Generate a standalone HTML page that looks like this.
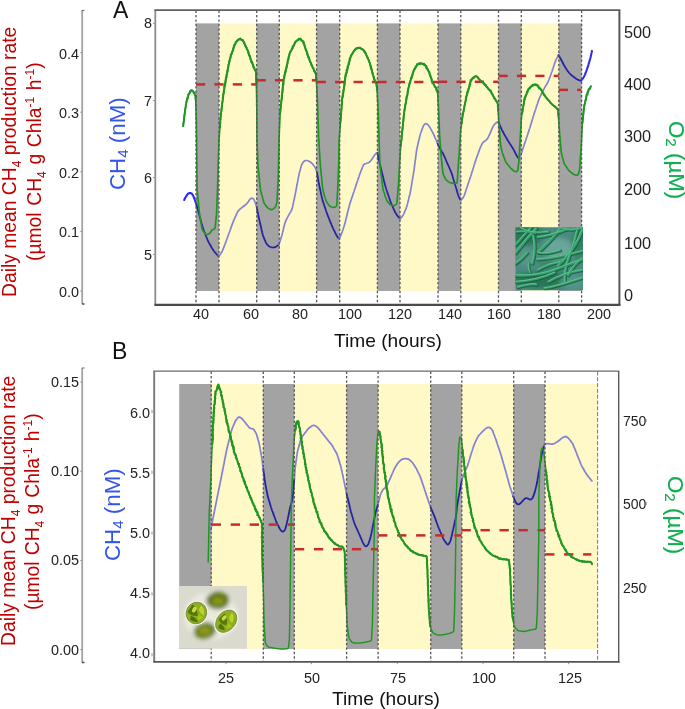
<!DOCTYPE html><html><head><meta charset="utf-8"><title>fig</title><style>
html,body{margin:0;padding:0;background:#fff}
#w{position:relative;width:685px;height:709px;overflow:hidden;background:#fff;font-family:"Liberation Sans",sans-serif;color:#222}
.t{position:absolute;white-space:nowrap;line-height:1;will-change:transform}
.tk{font-size:14.4px;color:#222}
.r{text-align:right}
.c{transform:translateX(-50%)}
.ra{font-size:16.3px;color:#222}
.ttl{font-size:19.15px;color:#111}
.rot{transform-origin:0 0;transform:rotate(-90deg)}
.rot2{transform-origin:0 0;transform:rotate(90deg)}
sub,sup{font-size:62%;line-height:0}
.s2{font-size:68%;vertical-align:-0.18em}
</style></head><body><div id="w">
<svg width="685" height="709" viewBox="0 0 685 709" style="position:absolute;left:0;top:0">
<defs><filter id="b1" x="-20%" y="-20%" width="140%" height="140%"><feGaussianBlur stdDeviation="0.9"/></filter><filter id="b2" x="-30%" y="-30%" width="160%" height="160%"><feGaussianBlur stdDeviation="2"/></filter><filter id="b3" x="-30%" y="-30%" width="160%" height="160%"><feGaussianBlur stdDeviation="0.6"/></filter><filter id="b4" x="-30%" y="-30%" width="160%" height="160%"><feGaussianBlur stdDeviation="0.75"/></filter><clipPath id="cA"><rect x="515.5" y="227.3" width="67.5" height="63"/></clipPath><clipPath id="cB"><rect x="178.9" y="585.9" width="68" height="62.8"/></clipPath></defs>
<rect x="196" y="23.4" width="385.6" height="267.6" fill="#fff9c8"/>
<rect x="196" y="23.4" width="23" height="267.6" fill="#a3a3a3"/>
<rect x="256.7" y="23.4" width="22.600000000000023" height="267.6" fill="#a3a3a3"/>
<rect x="316.6" y="23.4" width="23.099999999999966" height="267.6" fill="#a3a3a3"/>
<rect x="377.4" y="23.4" width="22.600000000000023" height="267.6" fill="#a3a3a3"/>
<rect x="438" y="23.4" width="22.80000000000001" height="267.6" fill="#a3a3a3"/>
<rect x="498.5" y="23.4" width="22.799999999999955" height="267.6" fill="#a3a3a3"/>
<rect x="558.8" y="23.4" width="22.800000000000068" height="267.6" fill="#a3a3a3"/>
<polyline points="184.2,200.0 185.0,198.3 185.2,197.9 185.4,197.5 185.9,196.7 186.4,195.9 186.9,195.2 187.4,194.5 187.9,193.9 188.5,193.4 189.2,193.1 189.8,193.0 190.5,193.1 191.2,193.3 191.8,193.7 192.3,194.4 192.8,195.1 193.3,195.8 193.6,196.6 193.9,197.5 194.3,198.3 194.6,199.1 194.9,200.0 195.2,200.8 195.4,201.6 195.7,202.5 195.8,202.9 196.0,203.3 196.5,205.0" fill="none" stroke="#2a2af5" stroke-width="2.1" stroke-linejoin="round" stroke-linecap="round"/>
<polyline points="196.5,205.0 196.9,206.6 197.0,206.9 197.1,207.3 197.3,208.1 197.6,208.9 197.8,209.7 198.0,210.4 198.2,211.2 198.4,212.0 198.6,212.8 198.8,213.6 199.1,214.4 199.3,215.1 199.5,215.9 199.7,216.7 200.0,217.5 200.2,218.3 200.4,219.1 200.6,219.9 200.8,220.7 201.1,221.4 201.3,222.2 201.5,223.0 201.7,223.8 202.0,224.6 202.2,225.4 202.4,226.2 202.6,226.9 202.9,227.7 203.1,228.5 203.4,229.3 203.7,230.1 203.9,230.8 204.2,231.6 204.6,232.4 204.9,233.2 205.2,234.0 205.5,234.7 205.8,235.5 206.1,236.3 206.4,237.0 206.7,237.8 207.1,238.6 207.4,239.4 207.7,240.1 208.0,240.9 208.4,241.7 208.8,242.4 209.1,243.1 209.6,243.9 210.0,244.6 210.4,245.3 210.8,246.0 211.2,246.8 211.6,247.5 212.1,248.2 212.5,248.9 212.9,249.6 213.4,250.3 213.9,251.0 214.4,251.7 214.9,252.3 215.5,252.9 216.0,253.6 216.6,254.2 216.8,254.5 217.1,254.8 218.2,256.1" fill="none" stroke="#2323a3" stroke-width="1.75" stroke-linejoin="round" stroke-linecap="round"/>
<polyline points="218.2,256.1 219.7,255.2 220.0,254.8 220.2,254.5 220.7,253.8 221.1,253.0 221.6,252.3 222.0,251.5 222.4,250.7 222.7,250.0 223.1,249.2 223.4,248.4 223.7,247.7 224.0,246.9 224.3,246.2 224.6,245.4 224.9,244.6 225.1,243.9 225.4,243.1 225.7,242.3 226.0,241.6 226.3,240.8 226.5,240.1 226.8,239.3 227.1,238.5 227.4,237.8 227.6,237.0 227.9,236.3 228.2,235.5 228.5,234.7 228.7,234.0 229.0,233.2 229.3,232.5 229.6,231.7 229.8,231.0 230.1,230.2 230.4,229.5 230.7,228.7 230.9,227.9 231.2,227.2 231.5,226.4 231.7,225.7 232.0,224.9 232.3,224.2 232.6,223.4 232.9,222.7 233.2,221.9 233.5,221.2 233.8,220.4 234.1,219.7 234.4,218.9 234.8,218.2 235.1,217.4 235.4,216.7 235.8,215.9 236.1,215.2 236.4,214.4 236.8,213.7 237.1,212.9 237.5,212.2 237.9,211.5 238.3,210.9 238.8,210.3 239.4,209.7 240.0,209.1 240.6,208.6 241.2,208.1 241.9,207.6 242.5,207.0 243.2,206.5 243.9,206.0 244.6,205.5 245.3,205.0 245.9,204.4 246.6,203.8 247.1,203.2 247.7,202.5 248.2,201.9 248.7,201.2 249.1,200.4 249.6,199.7 250.2,199.1 250.8,198.6 251.4,198.3 252.0,198.2 252.5,198.2 253.1,198.6 253.6,199.1 254.0,199.8 254.4,200.5 254.7,201.3 255.0,202.1 255.3,202.9 255.6,203.7 255.9,204.5 256.0,204.9 256.1,205.4 256.7,207.0" fill="none" stroke="#8383d2" stroke-width="1.7" stroke-linejoin="round" stroke-linecap="round"/>
<polyline points="256.7,207.0 257.0,208.7 257.1,209.1 257.2,209.5 257.4,210.3 257.5,211.1 257.7,212.0 257.9,212.8 258.0,213.6 258.2,214.4 258.4,215.3 258.5,216.1 258.7,216.9 258.9,217.7 259.0,218.6 259.2,219.4 259.4,220.2 259.6,221.0 259.8,221.8 259.9,222.6 260.1,223.4 260.3,224.2 260.5,225.0 260.7,225.8 260.9,226.6 261.1,227.5 261.2,228.3 261.4,229.1 261.6,229.9 261.8,230.7 262.0,231.5 262.2,232.3 262.3,233.1 262.6,233.9 262.8,234.7 263.0,235.5 263.3,236.3 263.6,237.1 263.9,237.9 264.2,238.7 264.6,239.5 264.9,240.2 265.3,241.0 265.6,241.8 266.0,242.6 266.4,243.3 266.8,244.0 267.3,244.6 267.9,245.2 268.4,245.8 269.1,246.3 269.8,246.7 270.6,247.0 271.4,247.3 272.2,247.4 273.2,247.5 274.1,247.3 275.0,247.2 275.8,246.8 276.6,246.4 277.3,245.9 277.7,245.7 278.0,245.4 279.0,244.2" fill="none" stroke="#2323a3" stroke-width="1.75" stroke-linejoin="round" stroke-linecap="round"/>
<polyline points="279.0,244.2 279.6,242.6 279.7,242.1 279.8,241.7 280.1,240.9 280.4,240.1 280.7,239.3 280.9,238.4 281.2,237.6 281.4,236.8 281.7,236.0 281.9,235.2 282.1,234.4 282.3,233.7 282.5,232.9 282.7,232.1 282.9,231.3 283.1,230.5 283.3,229.7 283.4,229.0 283.6,228.2 283.8,227.4 284.0,226.6 284.2,225.8 284.4,225.0 284.6,224.3 284.8,223.5 285.1,222.7 285.4,221.9 285.7,221.2 286.0,220.4 286.3,219.7 286.7,218.9 287.1,218.2 287.5,217.4 287.9,216.7 288.3,215.9 288.7,215.2 289.1,214.4 289.5,213.7 290.0,212.9 290.4,212.2 290.9,211.5 291.3,210.7 291.6,209.9 291.9,209.2 292.2,208.4 292.4,207.6 292.6,206.8 292.8,205.9 292.9,205.1 293.1,204.3 293.3,203.5 293.5,202.7 293.6,201.9 293.8,201.1 294.0,200.3 294.2,199.5 294.3,198.7 294.5,197.8 294.7,197.0 294.8,196.2 295.0,195.4 295.2,194.6 295.3,193.8 295.5,193.0 295.6,192.2 295.8,191.4 295.9,190.6 296.1,189.8 296.2,189.0 296.4,188.2 296.5,187.4 296.7,186.6 296.8,185.8 297.0,185.0 297.1,184.3 297.3,183.5 297.4,182.7 297.6,181.9 297.7,181.1 297.9,180.3 298.0,179.5 298.2,178.7 298.3,177.9 298.5,177.1 298.6,176.3 298.8,175.5 299.0,174.7 299.1,173.9 299.3,173.1 299.5,172.3 299.8,171.5 300.0,170.7 300.2,169.9 300.4,169.2 300.6,168.4 300.8,167.6 301.0,166.8 301.3,166.0 301.5,165.2 301.8,164.5 302.2,163.8 302.6,163.1 303.0,162.4 303.5,161.8 304.1,161.3 304.7,160.9 305.4,160.6 306.2,160.5 307.0,160.5 307.8,160.7 308.6,161.1 309.5,161.5 310.3,162.0 311.0,162.5 311.6,163.1 312.3,163.7 312.9,164.4 313.4,165.0 313.9,165.7 314.4,166.4 314.8,167.1 315.3,167.9 315.7,168.7 316.0,169.6 316.2,170.0 316.4,170.4 317.0,172.3" fill="none" stroke="#8383d2" stroke-width="1.7" stroke-linejoin="round" stroke-linecap="round"/>
<polyline points="317.0,172.3 317.3,173.9 317.3,174.4 317.4,174.8 317.5,175.6 317.7,176.4 317.8,177.2 317.9,178.1 318.1,178.9 318.2,179.7 318.3,180.5 318.5,181.4 318.6,182.2 318.8,183.0 318.9,183.8 319.1,184.6 319.3,185.4 319.4,186.2 319.6,186.9 319.8,187.7 319.9,188.5 320.1,189.3 320.3,190.1 320.4,190.9 320.6,191.7 320.8,192.5 321.0,193.3 321.1,194.1 321.3,194.9 321.5,195.6 321.6,196.4 321.8,197.2 322.0,198.0 322.2,198.8 322.4,199.6 322.6,200.4 322.8,201.2 323.1,201.9 323.4,202.7 323.6,203.5 323.9,204.3 324.1,205.1 324.4,205.8 324.7,206.6 324.9,207.4 325.2,208.2 325.5,208.9 325.7,209.7 326.0,210.5 326.2,211.3 326.5,212.1 326.8,212.8 327.1,213.6 327.3,214.4 327.6,215.2 327.9,215.9 328.2,216.7 328.6,217.5 328.9,218.3 329.2,219.1 329.5,219.8 329.8,220.6 330.1,221.4 330.4,222.2 330.7,222.9 331.1,223.7 331.4,224.5 331.7,225.2 332.0,226.0 332.4,226.8 332.7,227.6 333.1,228.3 333.4,229.1 333.8,229.9 334.2,230.6 334.6,231.4 334.9,232.2 335.3,233.0 335.7,233.7 336.1,234.5 336.5,235.2 336.9,236.0 337.4,236.7 337.6,237.1 337.8,237.4 339.0,238.8" fill="none" stroke="#2323a3" stroke-width="1.75" stroke-linejoin="round" stroke-linecap="round"/>
<polyline points="339.0,238.8 339.9,237.2 340.2,236.7 340.3,236.3 340.7,235.5 341.1,234.7 341.4,233.9 341.7,233.1 342.0,232.3 342.3,231.5 342.5,230.7 342.8,230.0 343.1,229.2 343.3,228.4 343.6,227.6 343.9,226.8 344.1,226.0 344.4,225.2 344.6,224.4 344.9,223.6 345.1,222.8 345.3,222.0 345.5,221.2 345.7,220.4 345.9,219.6 346.1,218.8 346.3,218.0 346.5,217.2 346.7,216.4 346.9,215.6 347.1,214.8 347.2,214.1 347.4,213.3 347.6,212.5 347.8,211.7 348.0,210.9 348.2,210.1 348.4,209.3 348.6,208.5 348.8,207.7 349.0,206.9 349.2,206.1 349.4,205.3 349.7,204.5 349.9,203.7 350.1,202.9 350.4,202.1 350.7,201.4 350.9,200.6 351.2,199.8 351.4,199.0 351.7,198.2 352.0,197.4 352.2,196.7 352.5,195.9 352.8,195.1 353.0,194.3 353.3,193.5 353.5,192.7 353.8,192.0 354.1,191.2 354.3,190.4 354.6,189.6 354.9,188.8 355.1,188.0 355.4,187.2 355.7,186.5 355.9,185.7 356.2,184.9 356.4,184.1 356.7,183.3 357.0,182.5 357.2,181.8 357.5,181.0 357.8,180.2 358.0,179.4 358.3,178.6 358.5,177.8 358.8,177.1 359.1,176.3 359.3,175.5 359.6,174.7 359.9,173.9 360.2,173.2 360.5,172.4 360.7,171.7 361.0,170.9 361.3,170.1 361.6,169.4 361.9,168.6 362.2,167.8 362.4,167.1 362.8,166.3 363.1,165.6 363.5,164.9 364.0,164.4 364.7,164.0 365.3,163.8 366.1,163.5 366.8,163.2 367.6,163.0 368.4,162.7 369.2,162.3 369.8,161.7 370.5,161.0 371.0,160.3 371.6,159.7 372.1,159.0 372.5,158.2 373.0,157.5 373.5,156.8 373.9,156.1 374.4,155.3 374.9,154.6 375.5,154.1 375.8,153.7 376.0,153.4 377.5,153.0" fill="none" stroke="#8383d2" stroke-width="1.7" stroke-linejoin="round" stroke-linecap="round"/>
<polyline points="377.5,153.0 377.9,154.7 377.9,155.2 378.0,155.6 378.2,156.5 378.4,157.3 378.6,158.2 378.7,159.0 378.9,159.9 379.1,160.7 379.3,161.5 379.5,162.4 379.7,163.2 379.9,164.0 380.1,164.9 380.3,165.7 380.5,166.5 380.7,167.3 380.9,168.2 381.1,169.0 381.3,169.8 381.5,170.6 381.7,171.5 381.9,172.3 382.1,173.1 382.3,173.9 382.5,174.6 382.7,175.4 382.9,176.2 383.1,177.0 383.3,177.8 383.5,178.5 383.7,179.3 383.8,180.1 384.0,180.9 384.2,181.6 384.4,182.4 384.6,183.2 384.8,184.0 385.0,184.8 385.2,185.5 385.4,186.3 385.7,187.1 385.9,187.9 386.1,188.7 386.4,189.5 386.7,190.2 386.9,191.0 387.2,191.8 387.4,192.6 387.7,193.4 388.0,194.2 388.2,194.9 388.5,195.7 388.8,196.5 389.0,197.3 389.3,198.1 389.5,198.9 389.8,199.6 390.1,200.4 390.4,201.2 390.7,202.0 391.0,202.7 391.3,203.5 391.6,204.2 391.9,205.0 392.2,205.7 392.6,206.5 392.9,207.2 393.2,208.0 393.5,208.7 393.9,209.5 394.2,210.2 394.5,211.0 394.9,211.7 395.2,212.4 395.6,213.1 396.1,213.8 396.5,214.5 397.0,215.1 397.5,215.7 398.0,216.4 398.5,217.0 398.8,217.3 399.0,217.6 400.0,218.9" fill="none" stroke="#2323a3" stroke-width="1.75" stroke-linejoin="round" stroke-linecap="round"/>
<polyline points="400.0,218.9 401.2,217.6 401.5,217.3 401.8,217.0 402.3,216.3 402.8,215.6 403.2,214.8 403.6,214.1 404.0,213.3 404.3,212.5 404.7,211.7 405.0,211.0 405.4,210.2 405.7,209.4 406.0,208.6 406.3,207.8 406.6,207.0 406.8,206.2 407.1,205.4 407.3,204.6 407.5,203.9 407.7,203.1 407.9,202.3 408.1,201.5 408.3,200.7 408.5,199.9 408.6,199.2 408.8,198.4 409.0,197.6 409.2,196.8 409.4,196.0 409.6,195.2 409.8,194.5 410.0,193.7 410.2,192.9 410.3,192.1 410.5,191.3 410.7,190.5 410.8,189.7 410.9,188.9 411.1,188.1 411.2,187.3 411.3,186.5 411.5,185.7 411.6,184.9 411.7,184.1 411.9,183.3 412.0,182.5 412.1,181.7 412.2,181.0 412.4,180.2 412.5,179.4 412.6,178.6 412.8,177.8 412.9,177.0 413.0,176.2 413.2,175.4 413.3,174.6 413.4,173.8 413.6,173.0 413.7,172.2 413.8,171.4 414.0,170.6 414.1,169.8 414.2,169.0 414.3,168.1 414.4,167.3 414.5,166.5 414.6,165.7 414.7,164.8 414.8,164.0 414.9,163.2 415.0,162.4 415.1,161.6 415.2,160.7 415.4,159.9 415.5,159.1 415.6,158.2 415.7,157.4 415.8,156.6 415.9,155.8 416.0,155.0 416.1,154.1 416.2,153.3 416.3,152.5 416.4,151.7 416.5,150.8 416.7,150.0 416.8,149.2 417.0,148.4 417.2,147.6 417.3,146.8 417.5,146.0 417.7,145.2 417.9,144.4 418.1,143.6 418.3,142.8 418.4,142.0 418.6,141.2 418.8,140.4 419.0,139.6 419.2,138.8 419.4,138.0 419.6,137.2 419.7,136.4 419.9,135.6 420.2,134.8 420.4,134.0 420.6,133.2 420.9,132.5 421.2,131.7 421.5,130.9 421.8,130.2 422.1,129.4 422.3,128.6 422.6,127.8 422.9,127.1 423.2,126.3 423.6,125.6 424.0,124.9 424.6,124.3 425.1,123.9 425.7,123.7 426.3,123.8 427.0,124.0 427.6,124.4 428.2,124.9 428.7,125.7 429.2,126.4 429.7,127.1 430.2,127.8 430.6,128.6 431.0,129.3 431.4,130.0 431.8,130.8 432.2,131.5 432.5,132.2 432.9,133.0 433.3,133.7 433.6,134.5 434.0,135.2 434.3,136.0 434.7,136.8 435.0,137.6 435.3,138.4 435.7,139.2 436.0,139.9 436.4,140.7 436.7,141.5 436.9,141.9 437.0,142.3 437.7,143.9" fill="none" stroke="#8383d2" stroke-width="1.7" stroke-linejoin="round" stroke-linecap="round"/>
<polyline points="437.7,143.9 438.5,145.6 438.7,146.0 438.9,146.4 439.4,147.2 439.8,148.0 440.2,148.8 440.6,149.5 441.0,150.3 441.4,151.0 441.8,151.7 442.3,152.3 442.7,153.0 443.1,153.7 443.4,154.4 443.8,155.2 444.2,155.9 444.5,156.6 444.8,157.3 445.1,158.1 445.5,158.8 445.8,159.6 446.1,160.3 446.4,161.1 446.7,161.8 447.1,162.6 447.4,163.3 447.7,164.1 448.1,164.8 448.4,165.6 448.7,166.3 449.1,167.1 449.4,167.8 449.7,168.6 450.1,169.3 450.4,170.1 450.7,170.8 451.0,171.6 451.3,172.3 451.6,173.1 451.8,173.9 452.1,174.6 452.3,175.4 452.6,176.2 452.8,177.0 453.0,177.7 453.2,178.5 453.5,179.3 453.7,180.0 453.9,180.8 454.2,181.6 454.4,182.4 454.6,183.2 454.9,183.9 455.1,184.7 455.3,185.5 455.6,186.2 455.8,187.0 456.0,187.8 456.3,188.6 456.5,189.3 456.7,190.1 456.9,190.9 457.2,191.7 457.4,192.4 457.6,193.2 457.9,194.0 458.1,194.8 458.4,195.6 458.7,196.3 459.0,197.1 459.4,197.9 459.6,198.3 459.8,198.7 460.8,200.3" fill="none" stroke="#2323a3" stroke-width="1.75" stroke-linejoin="round" stroke-linecap="round"/>
<polyline points="460.8,200.3 462.0,199.0 462.3,198.7 462.6,198.4 463.1,197.7 463.5,196.9 463.9,196.2 464.3,195.4 464.6,194.6 464.9,193.8 465.1,192.9 465.4,192.1 465.7,191.3 465.9,190.5 466.2,189.6 466.5,188.8 466.7,188.0 467.0,187.2 467.3,186.5 467.5,185.7 467.8,184.9 468.0,184.1 468.3,183.3 468.6,182.5 468.8,181.8 469.1,181.0 469.4,180.2 469.6,179.4 469.9,178.6 470.1,177.8 470.4,177.1 470.7,176.3 470.9,175.5 471.2,174.7 471.4,173.9 471.7,173.1 471.9,172.3 472.2,171.6 472.4,170.8 472.7,170.0 472.9,169.2 473.2,168.4 473.4,167.6 473.7,166.8 473.9,166.1 474.1,165.3 474.4,164.5 474.6,163.7 474.9,162.9 475.1,162.1 475.4,161.4 475.6,160.6 475.9,159.8 476.1,159.0 476.4,158.2 476.7,157.4 477.0,156.6 477.3,155.8 477.6,155.0 477.9,154.2 478.2,153.4 478.5,152.6 478.7,151.9 479.0,151.1 479.3,150.3 479.6,149.5 479.9,148.7 480.2,147.9 480.5,147.1 480.9,146.3 481.2,145.6 481.6,144.9 482.0,144.1 482.4,143.4 482.8,142.8 483.3,142.2 483.9,141.7 484.6,141.3 485.2,140.8 485.8,140.3 486.4,139.8 487.0,139.2 487.5,138.6 487.9,137.9 488.3,137.1 488.7,136.3 489.0,135.5 489.4,134.8 489.8,134.0 490.1,133.2 490.5,132.4 490.8,131.6 491.1,130.8 491.5,130.0 491.8,129.3 492.2,128.5 492.5,127.7 492.9,126.9 493.3,126.2 493.7,125.4 494.2,124.8 494.8,124.1 495.3,123.5 496.1,123.0 496.4,122.7 496.7,122.4 498.5,122.0" fill="none" stroke="#8383d2" stroke-width="1.7" stroke-linejoin="round" stroke-linecap="round"/>
<polyline points="498.5,122.0 499.1,123.7 499.3,124.0 499.4,124.4 499.8,125.2 500.1,126.0 500.4,126.8 500.8,127.5 501.2,128.3 501.6,129.1 501.9,129.8 502.3,130.6 502.7,131.3 503.1,132.0 503.4,132.8 503.8,133.5 504.2,134.2 504.6,135.0 505.1,135.7 505.5,136.4 505.9,137.1 506.3,137.8 506.7,138.5 507.1,139.2 507.6,140.0 508.0,140.7 508.4,141.4 508.9,142.1 509.3,142.8 509.7,143.4 510.2,144.1 510.6,144.8 511.1,145.5 511.5,146.2 512.0,146.9 512.4,147.5 512.8,148.2 513.2,148.9 513.6,149.6 514.0,150.4 514.4,151.1 514.7,151.8 515.1,152.5 515.5,153.2 515.8,154.0 516.2,154.7 516.5,155.4 516.9,156.1 517.4,156.8 517.6,157.1 517.8,157.4 519.0,158.5" fill="none" stroke="#2323a3" stroke-width="1.75" stroke-linejoin="round" stroke-linecap="round"/>
<polyline points="519.0,158.5 519.9,156.8 520.1,156.4 520.3,156.0 520.6,155.1 521.0,154.3 521.3,153.5 521.6,152.7 521.9,151.9 522.1,151.1 522.4,150.3 522.6,149.5 522.9,148.7 523.2,147.9 523.4,147.1 523.7,146.3 524.0,145.5 524.2,144.7 524.5,143.9 524.8,143.1 525.0,142.3 525.3,141.5 525.6,140.8 525.8,140.0 526.1,139.2 526.3,138.4 526.6,137.6 526.9,136.8 527.1,136.1 527.4,135.3 527.7,134.5 527.9,133.7 528.2,132.9 528.4,132.1 528.7,131.4 529.0,130.6 529.2,129.8 529.5,129.0 529.7,128.2 530.0,127.5 530.2,126.7 530.4,125.9 530.7,125.2 530.9,124.4 531.1,123.6 531.4,122.9 531.6,122.1 531.8,121.3 532.1,120.6 532.3,119.8 532.5,119.0 532.8,118.3 533.0,117.5 533.2,116.7 533.5,116.0 533.7,115.2 533.9,114.4 534.2,113.7 534.4,112.9 534.7,112.1 534.9,111.3 535.2,110.5 535.5,109.8 535.7,109.0 536.0,108.2 536.2,107.4 536.5,106.6 536.8,105.8 537.0,105.1 537.3,104.3 537.6,103.5 537.8,102.7 538.1,101.9 538.3,101.1 538.6,100.4 538.9,99.6 539.2,98.8 539.5,98.0 539.8,97.2 540.2,96.5 540.6,95.7 540.9,95.0 541.3,94.2 541.7,93.4 542.1,92.7 542.5,91.9 542.9,91.1 543.2,90.4 543.6,89.6 544.0,88.9 544.4,88.2 544.8,87.4 545.2,86.7 545.6,86.0 546.0,85.3 546.5,84.7 546.9,84.0 547.3,83.3 547.6,82.6 548.0,81.8 548.3,81.1 548.7,80.4 549.0,79.6 549.2,78.9 549.5,78.1 549.8,77.3 550.1,76.6 550.4,75.8 550.7,75.0 550.9,74.3 551.2,73.5 551.5,72.7 551.8,72.0 552.1,71.2 552.3,70.4 552.6,69.6 552.9,68.8 553.1,68.0 553.4,67.2 553.6,66.4 553.9,65.6 554.2,64.8 554.4,64.0 554.7,63.2 555.0,62.4 555.3,61.6 555.6,60.9 555.9,60.1 556.3,59.4 556.6,58.7 557.0,57.9 557.4,57.2 557.6,56.9 557.8,56.5 558.5,55.1" fill="none" stroke="#8383d2" stroke-width="1.7" stroke-linejoin="round" stroke-linecap="round"/>
<polyline points="558.5,55.1 559.5,56.7 559.7,57.1 559.9,57.5 560.4,58.3 560.8,59.0 561.2,59.8 561.6,60.5 562.0,61.3 562.4,62.0 562.7,62.8 563.1,63.5 563.5,64.3 563.9,65.0 564.3,65.7 564.7,66.4 565.1,67.1 565.6,67.8 566.0,68.5 566.5,69.2 566.9,69.8 567.4,70.5 567.8,71.2 568.3,71.8 568.8,72.5 569.3,73.1 569.9,73.7 570.4,74.2 571.0,74.8 571.6,75.3 572.3,75.8 572.9,76.3 573.5,76.8 574.2,77.3 574.9,77.8 575.5,78.3 576.2,78.8 577.0,79.2 577.7,79.6 578.5,79.9 578.9,80.1 579.3,80.3 581.1,80.6" fill="none" stroke="#2323a3" stroke-width="1.75" stroke-linejoin="round" stroke-linecap="round"/>
<polyline points="581.1,80.6 582.3,79.1 582.6,78.8 582.9,78.4 583.4,77.6 583.8,76.9 584.2,76.1 584.6,75.4 585.0,74.6 585.2,73.9 585.5,73.1 585.8,72.3 586.1,71.6 586.4,70.8 586.7,70.0 586.9,69.3 587.2,68.5 587.5,67.7 587.8,67.0 588.0,66.2 588.2,65.4 588.5,64.6 588.7,63.8 588.9,63.0 589.2,62.3 589.4,61.5 589.6,60.7 589.8,59.9 590.1,59.1 590.3,58.3 590.5,57.5 590.7,56.7 590.9,55.8 591.1,55.0 591.2,54.2 591.4,53.4 591.5,53.0 591.6,52.5 592.0,50.9" fill="none" stroke="#2a2af5" stroke-width="2.1" stroke-linejoin="round" stroke-linecap="round"/>
<rect x="196.0" y="83.15" width="9.2" height="2.5" fill="#c92a2e"/><rect x="214.4" y="83.15" width="9.2" height="2.5" fill="#c92a2e"/><rect x="232.8" y="83.15" width="9.2" height="2.5" fill="#c92a2e"/><rect x="251.2" y="83.15" width="5.4" height="2.5" fill="#c92a2e"/>
<rect x="256.6" y="79.05" width="9.2" height="2.5" fill="#c92a2e"/><rect x="275.0" y="79.05" width="9.2" height="2.5" fill="#c92a2e"/><rect x="293.4" y="79.05" width="9.2" height="2.5" fill="#c92a2e"/><rect x="311.8" y="79.05" width="4.9" height="2.5" fill="#c92a2e"/>
<rect x="316.7" y="80.75" width="9.2" height="2.5" fill="#c92a2e"/><rect x="335.1" y="80.75" width="9.2" height="2.5" fill="#c92a2e"/><rect x="353.5" y="80.75" width="9.2" height="2.5" fill="#c92a2e"/><rect x="371.9" y="80.75" width="5.5" height="2.5" fill="#c92a2e"/>
<rect x="377.4" y="80.75" width="9.2" height="2.5" fill="#c92a2e"/><rect x="395.8" y="80.75" width="9.2" height="2.5" fill="#c92a2e"/><rect x="414.2" y="80.75" width="9.2" height="2.5" fill="#c92a2e"/><rect x="432.6" y="80.75" width="5.4" height="2.5" fill="#c92a2e"/>
<rect x="438.0" y="80.55" width="9.2" height="2.5" fill="#c92a2e"/><rect x="456.4" y="80.55" width="9.2" height="2.5" fill="#c92a2e"/><rect x="474.8" y="80.55" width="9.2" height="2.5" fill="#c92a2e"/><rect x="493.2" y="80.55" width="5.3" height="2.5" fill="#c92a2e"/>
<rect x="498.5" y="74.65" width="9.2" height="2.5" fill="#c92a2e"/><rect x="516.9" y="74.65" width="9.2" height="2.5" fill="#c92a2e"/><rect x="535.3" y="74.65" width="9.2" height="2.5" fill="#c92a2e"/><rect x="553.7" y="74.65" width="5.1" height="2.5" fill="#c92a2e"/>
<rect x="558.8" y="88.65" width="9.2" height="2.5" fill="#c92a2e"/><rect x="577.2" y="88.65" width="4.0" height="2.5" fill="#c92a2e"/>
<polyline points="183.2,126.2 183.3,125.3 183.3,125.0 183.4,124.3 183.5,123.7 183.6,123.1 183.6,122.5 183.7,121.8 183.8,121.2 183.8,120.6 183.9,120.0 184.0,119.4 184.1,118.7 184.1,118.1 184.2,117.5 184.3,116.9 184.4,116.2 184.4,115.6 184.5,115.0 184.6,114.4 184.7,113.8 184.8,113.2 184.8,112.6 184.9,111.9 185.0,111.3 185.1,110.7 185.2,110.1 185.2,109.5 185.3,108.9 185.4,108.3 185.5,107.7 185.6,107.1 185.7,106.4 185.8,105.8 185.8,105.2 185.9,104.6 186.0,104.0 186.2,103.4 186.3,102.8 186.5,102.2 186.6,101.5 186.8,100.9 186.9,100.3 187.1,99.7 187.2,99.1 187.4,98.5 187.5,97.8 187.7,97.2 187.9,96.6 188.1,96.0 188.3,95.5 188.5,94.9 188.8,94.4 189.1,93.8 189.3,93.3 189.6,92.7 189.8,92.2 190.1,91.6 190.4,91.1 190.7,90.7 191.1,90.5 191.5,90.5 191.9,90.6 192.5,90.9 192.9,91.3 193.4,91.7 193.8,92.2 194.1,92.7 194.4,93.3 194.7,94.0 195.0,94.6 195.2,95.2 195.4,95.8 195.6,96.4 195.6,97.0 195.7,97.6 195.7,98.2 195.7,98.8 195.7,99.4 195.7,100.0 195.7,100.6 195.8,101.2 195.8,101.8 195.8,102.5 195.8,103.1 195.8,103.7 195.8,104.3 195.9,104.9 195.9,105.5 195.9,106.1 195.9,106.7 195.9,107.3 195.9,107.9 196.0,108.5 196.0,109.1 196.0,109.7 196.0,110.3 196.0,110.9 196.1,111.5 196.1,112.1 196.1,112.7 196.1,113.3 196.1,114.0 196.1,114.6 196.2,115.2 196.2,115.8 196.2,116.4 196.2,117.0 196.2,117.6 196.2,118.2 196.3,118.8 196.3,119.4 196.3,120.0 196.3,120.6 196.3,121.2 196.3,121.8 196.3,122.4 196.3,123.0 196.4,123.6 196.4,124.2 196.4,124.8 196.4,125.5 196.4,126.1 196.4,126.7 196.4,127.3 196.4,127.9 196.4,128.5 196.4,129.1 196.4,129.7 196.5,130.3 196.5,130.9 196.5,131.5 196.5,132.1 196.5,132.7 196.5,133.3 196.5,133.9 196.5,134.5 196.5,135.2 196.5,135.8 196.5,136.4 196.6,137.0 196.6,137.6 196.6,138.2 196.6,138.8 196.6,139.4 196.6,140.0 196.6,140.6 196.6,141.2 196.6,141.8 196.6,142.4 196.6,143.0 196.6,143.6 196.6,144.2 196.6,144.8 196.7,145.4 196.7,146.0 196.7,146.7 196.7,147.3 196.7,147.9 196.7,148.5 196.7,149.1 196.7,149.7 196.7,150.3 196.7,150.9 196.7,151.5 196.7,152.1 196.7,152.7 196.7,153.3 196.7,153.9 196.7,154.5 196.8,155.1 196.8,155.7 196.8,156.3 196.8,156.9 196.8,157.5 196.8,158.1 196.8,158.8 196.8,159.4 196.8,160.0 196.8,160.6 196.8,161.2 196.8,161.8 196.8,162.4 196.8,163.0 196.8,163.6 196.8,164.2 196.8,164.8 196.9,165.4 196.9,166.0 196.9,166.6 196.9,167.2 196.9,167.8 196.9,168.4 196.9,169.0 196.9,169.6 196.9,170.2 196.9,170.8 196.9,171.5 196.9,172.1 196.9,172.7 196.9,173.3 196.9,173.9 196.9,174.5 197.0,175.1 197.0,175.7 197.0,176.3 197.0,176.9 197.0,177.5 197.0,178.1 197.0,178.7 197.0,179.3 197.0,179.9 197.0,180.5 197.0,181.1 197.0,181.7 197.0,182.3 197.0,182.9 197.0,183.6 197.0,184.2 197.1,184.8 197.1,185.4 197.1,186.0 197.1,186.6 197.1,187.2 197.1,187.8 197.1,188.4 197.1,189.0 197.1,189.6 197.2,190.2 197.2,190.8 197.3,191.4 197.3,192.0 197.4,192.6 197.5,193.2 197.5,193.8 197.6,194.4 197.6,195.0 197.7,195.6 197.8,196.3 197.8,196.9 197.9,197.5 198.0,198.1 198.0,198.7 198.1,199.3 198.1,199.9 198.2,200.5 198.3,201.1 198.3,201.7 198.4,202.3 198.4,202.9 198.5,203.5 198.6,204.1 198.6,204.7 198.7,205.3 198.7,205.9 198.8,206.5 198.9,207.1 198.9,207.7 199.0,208.4 199.1,209.0 199.1,209.6 199.2,210.2 199.2,210.8 199.3,211.4 199.4,212.0 199.4,212.6 199.5,213.2 199.5,213.8 199.6,214.4 199.7,215.0 199.8,215.6 199.9,216.2 200.0,216.8 200.1,217.4 200.2,218.0 200.3,218.6 200.4,219.2 200.5,219.8 200.6,220.4 200.7,221.0 200.8,221.6 200.9,222.1 201.0,222.7 201.1,223.3 201.2,223.9 201.3,224.5 201.4,225.1 201.5,225.7 201.6,226.3 201.7,226.9 201.8,227.5 201.9,228.1 202.0,228.7 202.2,229.2 202.5,229.8 202.8,230.3 203.1,230.8 203.4,231.3 203.8,231.8 204.1,232.3 204.5,232.8 204.8,233.3 205.1,233.8 205.5,234.2 206.0,234.4 206.5,234.5 207.1,234.5 207.7,234.3 208.3,234.1 208.9,233.9 209.4,233.6 209.9,233.1 210.3,232.7 210.6,232.1 211.0,231.5 211.3,230.9 211.7,230.4 212.2,230.0 212.7,229.7 213.2,229.4 213.8,229.2 214.3,228.9 214.7,228.6 215.0,228.1 215.1,227.6 215.2,227.0 215.2,226.4 215.3,225.8 215.4,225.2 215.4,224.6 215.5,224.0 215.6,223.4 215.6,222.8 215.7,222.2 215.8,221.6 215.8,221.0 215.9,220.4 215.9,219.8 216.0,219.2 216.1,218.6 216.1,218.0 216.2,217.4 216.2,216.8 216.3,216.2 216.4,215.6 216.4,215.0 216.5,214.4 216.5,213.8 216.5,213.2 216.6,212.6 216.6,212.0 216.6,211.4 216.6,210.8 216.7,210.2 216.7,209.6 216.7,209.0 216.7,208.4 216.8,207.7 216.8,207.1 216.8,206.5 216.8,205.9 216.9,205.3 216.9,204.7 216.9,204.1 216.9,203.5 217.0,202.9 217.0,202.3 217.0,201.7 217.0,201.1 217.1,200.5 217.1,199.9 217.1,199.3 217.1,198.7 217.2,198.1 217.2,197.5 217.2,196.9 217.2,196.3 217.3,195.6 217.3,195.0 217.3,194.4 217.3,193.8 217.4,193.2 217.4,192.6 217.4,192.0 217.4,191.4 217.5,190.8 217.5,190.2 217.5,189.6 217.5,189.0 217.5,188.4 217.6,187.8 217.6,187.2 217.6,186.6 217.6,186.0 217.6,185.4 217.6,184.8 217.7,184.2 217.7,183.6 217.7,182.9 217.7,182.3 217.7,181.7 217.7,181.1 217.8,180.5 217.8,179.9 217.8,179.3 217.8,178.7 217.8,178.1 217.8,177.5 217.9,176.9 217.9,176.3 217.9,175.7 217.9,175.1 217.9,174.5 217.9,173.9 218.0,173.3 218.0,172.7 218.0,172.1 218.0,171.5 218.0,170.8 218.0,170.2 218.1,169.6 218.1,169.0 218.1,168.4 218.1,167.8 218.1,167.2 218.1,166.6 218.2,166.0 218.2,165.4 218.2,164.8 218.2,164.2 218.2,163.6 218.3,163.0 218.3,162.4 218.3,161.8 218.3,161.2 218.3,160.6 218.4,160.0 218.4,159.4 218.4,158.8 218.4,158.1 218.4,157.5 218.5,156.9 218.5,156.3 218.5,155.7 218.5,155.1 218.5,154.5 218.6,153.9 218.6,153.3 218.6,152.7 218.6,152.1 218.6,151.5 218.6,150.9 218.7,150.3 218.7,149.7 218.7,149.1 218.7,148.5 218.7,147.9 218.8,147.3 218.8,146.7 218.8,146.0 218.8,145.4 218.8,144.8 218.9,144.2 218.9,143.6 218.9,143.0 218.9,142.4 218.9,141.8 219.0,141.2 219.0,140.6 219.0,140.0 219.0,139.4 219.1,138.8 219.1,138.2 219.2,137.6 219.2,136.9 219.3,136.3 219.3,135.7 219.3,135.1 219.4,134.5 219.4,133.9 219.5,133.3 219.5,132.7 219.5,132.1 219.6,131.5 219.6,130.8 219.7,130.2 219.7,129.6 219.8,129.0 219.8,128.4 219.8,127.8 219.9,127.2 219.9,126.6 220.0,126.0 220.0,125.3 220.1,124.7 220.1,124.1 220.1,123.5 220.2,122.9 220.2,122.3 220.3,121.7 220.3,121.1 220.3,120.5 220.4,119.9 220.4,119.2 220.5,118.6 220.5,118.0 220.6,117.4 220.6,116.8 220.7,116.2 220.7,115.6 220.8,115.0 220.9,114.4 221.0,113.8 221.0,113.2 221.1,112.6 221.2,112.0 221.3,111.4 221.3,110.8 221.4,110.2 221.5,109.7 221.6,109.1 221.6,108.5 221.7,107.9 221.8,107.3 221.9,106.7 221.9,106.1 222.0,105.5 222.1,104.9 222.2,104.3 222.2,103.7 222.3,103.1 222.4,102.5 222.5,101.9 222.5,101.3 222.6,100.7 222.7,100.1 222.8,99.5 222.8,98.9 222.9,98.3 223.0,97.7 223.1,97.1 223.1,96.5 223.2,95.9 223.3,95.4 223.4,94.8 223.4,94.2 223.5,93.6 223.6,93.0 223.7,92.4 223.7,91.8 223.8,91.2 223.9,90.6 224.0,90.0 224.0,89.4 224.1,88.8 224.2,88.2 224.3,87.6 224.4,87.0 224.6,86.4 224.7,85.8 224.8,85.2 224.9,84.6 225.0,84.0 225.1,83.4 225.3,82.8 225.4,82.2 225.5,81.6 225.6,81.1 225.7,80.5 225.8,79.9 226.0,79.3 226.1,78.7 226.2,78.1 226.3,77.5 226.4,76.9 226.5,76.3 226.6,75.7 226.8,75.1 226.9,74.5 227.0,73.9 227.1,73.3 227.2,72.7 227.3,72.1 227.5,71.5 227.6,70.9 227.7,70.3 227.8,69.7 227.9,69.1 228.0,68.5 228.1,67.9 228.3,67.3 228.4,66.7 228.5,66.1 228.6,65.6 228.7,65.0 228.8,64.4 229.0,63.8 229.1,63.2 229.2,62.6 229.3,62.0 229.4,61.4 229.5,60.8 229.7,60.2 229.8,59.6 229.9,59.0 230.1,58.4 230.2,57.8 230.4,57.2 230.6,56.6 230.8,56.1 231.0,55.5 231.2,54.9 231.4,54.3 231.7,53.7 231.9,53.1 232.1,52.5 232.3,52.0 232.5,51.4 232.7,50.8 232.9,50.2 233.1,49.6 233.3,49.0 233.5,48.4 233.7,47.9 233.9,47.3 234.1,46.7 234.3,46.1 234.6,45.5 234.8,44.9 235.0,44.3 235.2,43.8 235.4,43.2 235.6,42.6 235.9,42.1 236.3,41.6 236.7,41.1 237.1,40.7 237.6,40.2 238.0,39.8 238.4,39.4 238.9,39.1 239.4,38.9 239.9,38.9 240.5,39.1 241.1,39.4 241.6,39.6 242.2,40.0 242.6,40.4 243.0,40.8 243.3,41.3 243.6,41.9 243.8,42.4 244.1,43.0 244.4,43.5 244.6,44.1 244.9,44.6 245.2,45.2 245.4,45.8 245.7,46.3 245.9,46.9 246.2,47.4 246.5,48.0 246.7,48.5 247.0,49.1 247.2,49.6 247.5,50.2 247.7,50.8 247.9,51.4 248.1,51.9 248.3,52.5 248.5,53.1 248.8,53.7 249.0,54.3 249.2,54.9 249.4,55.4 249.6,56.0 249.8,56.6 250.0,57.2 250.2,57.8 250.4,58.3 250.6,58.9 250.8,59.5 251.1,60.1 251.3,60.7 251.5,61.3 251.7,61.8 251.9,62.4 252.1,63.0 252.3,63.5 252.6,64.1 252.8,64.7 253.0,65.2 253.3,65.8 253.5,66.3 253.7,66.9 254.0,67.4 254.2,68.0 254.5,68.5 254.7,69.1 254.9,69.6 255.2,70.2 255.4,70.7 255.6,71.3 255.8,71.9 256.0,72.4 256.1,73.0 256.1,73.6 256.1,74.2 256.2,74.8 256.2,75.4 256.2,76.0 256.2,76.6 256.2,77.2 256.2,77.8 256.2,78.4 256.2,79.0 256.3,79.6 256.3,80.2 256.3,80.8 256.3,81.4 256.3,82.0 256.3,82.6 256.3,83.2 256.3,83.8 256.4,84.4 256.4,85.0 256.4,85.6 256.4,86.2 256.4,86.8 256.4,87.4 256.4,88.0 256.5,88.6 256.5,89.2 256.5,89.8 256.5,90.4 256.5,91.0 256.5,91.6 256.5,92.2 256.5,92.8 256.6,93.4 256.6,94.0 256.6,94.6 256.6,95.2 256.6,95.8 256.6,96.4 256.6,97.0 256.6,97.6 256.7,98.2 256.7,98.8 256.7,99.4 256.7,100.0 256.7,100.6 256.7,101.2 256.7,101.8 256.7,102.4 256.7,103.0 256.7,103.6 256.7,104.2 256.7,104.8 256.7,105.5 256.7,106.1 256.8,106.7 256.8,107.3 256.8,107.9 256.8,108.5 256.8,109.1 256.8,109.7 256.8,110.3 256.8,110.9 256.8,111.5 256.8,112.1 256.8,112.7 256.8,113.3 256.8,113.9 256.8,114.5 256.8,115.2 256.8,115.8 256.8,116.4 256.8,117.0 256.8,117.6 256.8,118.2 256.8,118.8 256.8,119.4 256.9,120.0 256.9,120.6 256.9,121.2 256.9,121.8 256.9,122.4 256.9,123.0 256.9,123.6 256.9,124.2 256.9,124.8 256.9,125.5 256.9,126.1 256.9,126.7 256.9,127.3 256.9,127.9 256.9,128.5 256.9,129.1 256.9,129.7 256.9,130.3 256.9,130.9 256.9,131.5 256.9,132.1 256.9,132.7 256.9,133.3 257.0,133.9 257.0,134.5 257.0,135.2 257.0,135.8 257.0,136.4 257.0,137.0 257.0,137.6 257.0,138.2 257.0,138.8 257.0,139.4 257.0,140.0 257.0,140.6 257.0,141.2 257.1,141.8 257.1,142.4 257.1,143.0 257.1,143.6 257.2,144.2 257.2,144.8 257.2,145.4 257.2,146.0 257.2,146.7 257.3,147.3 257.3,147.9 257.3,148.5 257.3,149.1 257.4,149.7 257.4,150.3 257.4,150.9 257.4,151.5 257.4,152.1 257.5,152.7 257.5,153.3 257.5,153.9 257.5,154.5 257.5,155.1 257.6,155.7 257.6,156.3 257.6,156.9 257.6,157.5 257.7,158.1 257.7,158.8 257.7,159.4 257.7,160.0 257.7,160.6 257.8,161.2 257.8,161.8 257.8,162.4 257.8,163.0 257.9,163.6 257.9,164.2 257.9,164.8 258.0,165.4 258.0,166.0 258.1,166.6 258.1,167.2 258.2,167.8 258.3,168.4 258.3,169.0 258.4,169.6 258.4,170.2 258.5,170.8 258.6,171.5 258.6,172.1 258.7,172.7 258.8,173.3 258.8,173.9 258.9,174.5 258.9,175.1 259.0,175.7 259.1,176.3 259.1,176.9 259.2,177.5 259.2,178.1 259.3,178.7 259.4,179.3 259.4,179.9 259.5,180.5 259.5,181.1 259.6,181.7 259.7,182.3 259.7,182.9 259.8,183.6 259.9,184.2 259.9,184.8 260.0,185.4 260.0,186.0 260.1,186.6 260.2,187.2 260.2,187.8 260.3,188.4 260.4,189.0 260.5,189.6 260.6,190.2 260.7,190.8 260.9,191.4 261.0,192.0 261.2,192.6 261.4,193.2 261.5,193.8 261.7,194.4 261.8,195.0 262.0,195.6 262.2,196.2 262.3,196.7 262.5,197.3 262.7,197.9 262.8,198.5 263.0,199.1 263.1,199.7 263.3,200.3 263.5,200.9 263.6,201.5 263.8,202.1 264.0,202.7 264.2,203.2 264.5,203.8 264.9,204.3 265.2,204.8 265.6,205.3 266.0,205.8 266.4,206.2 266.8,206.7 267.1,207.2 267.6,207.7 268.0,208.1 268.6,208.5 269.1,208.8 269.8,209.1 270.4,209.4 271.0,209.6 271.5,209.6 272.1,209.5 272.7,209.3 273.2,208.9 273.7,208.6 274.2,208.2 274.7,207.8 275.1,207.3 275.4,206.8 275.7,206.3 275.9,205.7 276.1,205.1 276.2,204.4 276.4,203.8 276.6,203.2 276.8,202.6 276.9,202.0 277.0,201.4 277.1,200.8 277.1,200.2 277.1,199.6 277.2,199.0 277.2,198.4 277.2,197.8 277.3,197.2 277.3,196.6 277.3,196.0 277.3,195.3 277.4,194.7 277.4,194.1 277.4,193.5 277.5,192.9 277.5,192.3 277.5,191.7 277.6,191.1 277.6,190.5 277.6,189.9 277.7,189.3 277.7,188.7 277.7,188.1 277.8,187.5 277.8,186.9 277.8,186.3 277.9,185.7 277.9,185.1 277.9,184.5 278.0,183.9 278.0,183.2 278.0,182.6 278.0,182.0 278.1,181.4 278.1,180.8 278.1,180.2 278.2,179.6 278.2,179.0 278.2,178.4 278.3,177.8 278.3,177.2 278.3,176.6 278.3,176.0 278.3,175.4 278.3,174.8 278.4,174.2 278.4,173.6 278.4,173.0 278.4,172.4 278.4,171.8 278.4,171.2 278.4,170.6 278.4,170.0 278.4,169.4 278.5,168.8 278.5,168.2 278.5,167.6 278.5,167.0 278.5,166.4 278.5,165.8 278.5,165.2 278.5,164.6 278.5,164.0 278.6,163.4 278.6,162.8 278.6,162.2 278.6,161.6 278.6,161.0 278.6,160.4 278.6,159.8 278.6,159.2 278.6,158.6 278.7,158.0 278.7,157.4 278.7,156.8 278.7,156.2 278.7,155.6 278.7,155.0 278.7,154.4 278.7,153.8 278.8,153.2 278.8,152.6 278.8,152.0 278.8,151.4 278.8,150.8 278.8,150.2 278.8,149.6 278.8,149.0 278.8,148.4 278.9,147.8 278.9,147.2 278.9,146.6 278.9,146.0 278.9,145.4 278.9,144.8 278.9,144.2 278.9,143.6 278.9,143.0 279.0,142.4 279.0,141.8 279.0,141.2 279.0,140.6 279.0,140.0 279.0,139.4 279.1,138.8 279.1,138.2 279.1,137.6 279.1,137.0 279.2,136.4 279.2,135.8 279.2,135.1 279.2,134.5 279.3,133.9 279.3,133.3 279.3,132.7 279.3,132.1 279.4,131.5 279.4,130.9 279.4,130.3 279.4,129.7 279.5,129.1 279.5,128.5 279.5,127.9 279.5,127.3 279.6,126.7 279.6,126.0 279.6,125.4 279.7,124.8 279.7,124.2 279.7,123.6 279.7,123.0 279.8,122.4 279.8,121.8 279.8,121.2 279.8,120.6 279.9,120.0 279.9,119.4 279.9,118.8 279.9,118.2 280.0,117.6 280.0,117.0 280.0,116.3 280.0,115.7 280.1,115.1 280.1,114.5 280.1,113.9 280.1,113.3 280.2,112.7 280.2,112.1 280.3,111.5 280.3,110.9 280.4,110.3 280.5,109.7 280.5,109.1 280.6,108.5 280.7,107.9 280.7,107.3 280.8,106.7 280.8,106.0 280.9,105.4 281.0,104.8 281.0,104.2 281.1,103.6 281.2,103.0 281.2,102.4 281.3,101.8 281.4,101.2 281.4,100.6 281.5,100.0 281.6,99.4 281.6,98.8 281.7,98.2 281.8,97.6 281.8,97.0 281.9,96.4 281.9,95.8 282.0,95.1 282.1,94.5 282.1,93.9 282.2,93.3 282.3,92.7 282.3,92.1 282.4,91.5 282.5,90.9 282.5,90.3 282.6,89.7 282.7,89.1 282.7,88.5 282.8,87.9 282.9,87.3 282.9,86.7 283.0,86.1 283.1,85.5 283.1,84.8 283.2,84.2 283.2,83.6 283.3,83.0 283.4,82.4 283.4,81.8 283.5,81.2 283.6,80.6 283.6,80.0 283.7,79.4 283.8,78.8 284.0,78.2 284.1,77.6 284.2,77.0 284.4,76.4 284.5,75.8 284.6,75.2 284.8,74.6 284.9,74.0 285.0,73.4 285.2,72.8 285.3,72.2 285.5,71.6 285.6,71.0 285.7,70.4 285.9,69.8 286.0,69.2 286.1,68.6 286.3,68.0 286.4,67.4 286.5,66.8 286.7,66.3 286.8,65.7 286.9,65.1 287.1,64.5 287.2,63.9 287.3,63.3 287.5,62.7 287.6,62.1 287.7,61.5 287.9,60.9 288.0,60.3 288.2,59.7 288.3,59.1 288.4,58.5 288.6,57.9 288.7,57.3 288.8,56.7 289.0,56.1 289.1,55.5 289.2,54.9 289.4,54.3 289.6,53.7 289.8,53.2 290.1,52.6 290.3,52.0 290.6,51.5 290.9,50.9 291.2,50.4 291.5,49.8 291.7,49.2 292.0,48.7 292.3,48.1 292.6,47.6 292.9,47.0 293.2,46.5 293.4,45.9 293.7,45.3 294.0,44.8 294.3,44.2 294.6,43.7 294.8,43.1 295.2,42.6 295.5,42.1 296.0,41.6 296.4,41.2 296.9,40.8 297.4,40.4 298.0,40.1 298.5,39.7 299.0,39.3 299.5,39.1 300.0,39.0 300.5,39.1 300.9,39.4 301.4,39.9 301.9,40.4 302.3,40.8 302.8,41.3 303.2,41.8 303.5,42.3 303.8,42.8 304.1,43.4 304.2,44.0 304.4,44.6 304.6,45.2 304.8,45.7 304.9,46.3 305.1,46.9 305.3,47.5 305.5,48.1 305.6,48.7 305.8,49.3 306.0,49.9 306.2,50.5 306.3,51.1 306.5,51.6 306.7,52.2 306.9,52.8 307.0,53.4 307.2,54.0 307.4,54.6 307.6,55.2 307.9,55.7 308.1,56.3 308.3,56.9 308.5,57.4 308.8,58.0 309.0,58.5 309.2,59.1 309.4,59.7 309.7,60.2 309.9,60.8 310.1,61.4 310.4,61.9 310.6,62.5 310.8,63.1 311.0,63.6 311.3,64.2 311.5,64.7 311.7,65.3 311.9,65.9 312.2,66.4 312.4,67.0 312.7,67.6 313.0,68.1 313.3,68.7 313.5,69.3 313.8,69.8 314.1,70.4 314.4,71.0 314.7,71.6 315.0,72.1 315.2,72.7 315.5,73.3 315.8,73.8 315.9,74.4 316.1,75.0 316.2,75.6 316.2,76.2 316.2,76.8 316.3,77.4 316.3,78.0 316.3,78.7 316.4,79.3 316.4,79.9 316.4,80.5 316.4,81.1 316.5,81.7 316.5,82.3 316.5,82.9 316.6,83.5 316.6,84.1 316.6,84.7 316.7,85.3 316.7,85.9 316.7,86.5 316.8,87.2 316.8,87.8 316.8,88.4 316.9,89.0 316.9,89.6 316.9,90.2 317.0,90.8 317.0,91.4 317.0,92.0 317.1,92.6 317.1,93.2 317.1,93.8 317.1,94.4 317.2,95.0 317.2,95.7 317.2,96.3 317.3,96.9 317.3,97.5 317.3,98.1 317.4,98.7 317.4,99.3 317.4,99.9 317.4,100.5 317.5,101.1 317.5,101.7 317.5,102.3 317.5,102.9 317.5,103.5 317.6,104.1 317.6,104.7 317.6,105.3 317.6,105.9 317.6,106.5 317.7,107.1 317.7,107.7 317.7,108.3 317.7,108.9 317.7,109.5 317.7,110.1 317.8,110.7 317.8,111.3 317.8,111.9 317.8,112.5 317.8,113.1 317.9,113.7 317.9,114.3 317.9,114.9 317.9,115.5 317.9,116.1 318.0,116.7 318.0,117.3 318.0,117.9 318.0,118.5 318.0,119.1 318.1,119.7 318.1,120.3 318.1,120.9 318.1,121.5 318.1,122.1 318.2,122.7 318.2,123.3 318.2,123.9 318.2,124.5 318.2,125.1 318.3,125.7 318.3,126.3 318.3,126.9 318.3,127.5 318.3,128.1 318.3,128.7 318.4,129.3 318.4,129.9 318.4,130.5 318.4,131.1 318.4,131.7 318.5,132.3 318.5,132.9 318.5,133.5 318.5,134.1 318.5,134.7 318.6,135.3 318.6,135.9 318.6,136.5 318.6,137.1 318.7,137.7 318.7,138.3 318.7,138.9 318.8,139.5 318.8,140.1 318.9,140.7 318.9,141.3 318.9,141.9 319.0,142.5 319.0,143.1 319.0,143.7 319.1,144.3 319.1,144.9 319.1,145.5 319.2,146.1 319.2,146.7 319.3,147.3 319.3,147.9 319.3,148.5 319.4,149.1 319.4,149.7 319.4,150.3 319.5,151.0 319.5,151.6 319.5,152.2 319.6,152.8 319.6,153.4 319.6,154.0 319.7,154.6 319.7,155.2 319.8,155.8 319.8,156.4 319.8,157.0 319.9,157.6 319.9,158.2 319.9,158.8 320.0,159.4 320.0,160.0 320.0,160.6 320.1,161.2 320.1,161.8 320.2,162.4 320.2,163.0 320.2,163.6 320.3,164.2 320.3,164.8 320.4,165.4 320.4,166.0 320.5,166.6 320.5,167.2 320.6,167.8 320.7,168.4 320.7,169.0 320.8,169.6 320.8,170.2 320.9,170.8 321.0,171.5 321.0,172.1 321.1,172.7 321.2,173.3 321.2,173.9 321.3,174.5 321.3,175.1 321.4,175.7 321.5,176.3 321.5,176.9 321.6,177.5 321.6,178.1 321.7,178.7 321.8,179.3 321.8,179.9 321.9,180.5 321.9,181.1 322.0,181.7 322.1,182.3 322.1,182.9 322.2,183.6 322.3,184.2 322.3,184.8 322.4,185.4 322.4,186.0 322.5,186.6 322.6,187.2 322.6,187.8 322.7,188.4 322.8,189.0 322.9,189.6 323.0,190.2 323.1,190.8 323.3,191.4 323.5,192.0 323.6,192.5 323.8,193.1 324.0,193.7 324.1,194.3 324.3,194.9 324.5,195.5 324.7,196.1 324.8,196.7 325.0,197.3 325.2,197.9 325.3,198.4 325.5,199.0 325.7,199.6 325.9,200.2 326.1,200.8 326.4,201.3 326.7,201.8 327.0,202.4 327.4,202.9 327.7,203.4 328.1,203.9 328.4,204.4 328.8,204.9 329.1,205.5 329.5,205.9 330.0,206.3 330.5,206.6 331.0,206.8 331.6,207.0 332.3,207.2 332.9,207.3 333.5,207.3 334.1,207.2 334.8,207.1 335.4,206.9 335.9,206.6 336.3,206.3 336.6,205.8 336.8,205.3 336.8,204.7 336.8,204.1 336.9,203.5 336.9,202.9 336.9,202.3 337.0,201.7 337.0,201.1 337.1,200.5 337.1,199.9 337.1,199.3 337.2,198.7 337.2,198.1 337.2,197.4 337.3,196.8 337.3,196.2 337.3,195.6 337.4,195.0 337.4,194.4 337.4,193.8 337.5,193.2 337.5,192.6 337.6,192.0 337.6,191.4 337.6,190.8 337.7,190.2 337.7,189.6 337.7,189.0 337.7,188.4 337.8,187.8 337.8,187.2 337.8,186.6 337.8,186.0 337.9,185.4 337.9,184.8 337.9,184.2 337.9,183.6 338.0,182.9 338.0,182.3 338.0,181.7 338.0,181.1 338.1,180.5 338.1,179.9 338.1,179.3 338.1,178.7 338.2,178.1 338.2,177.5 338.2,176.9 338.2,176.3 338.3,175.7 338.3,175.1 338.3,174.5 338.3,173.9 338.4,173.3 338.4,172.7 338.4,172.1 338.4,171.5 338.5,170.8 338.5,170.2 338.5,169.6 338.5,169.0 338.6,168.4 338.6,167.8 338.6,167.2 338.6,166.6 338.7,166.0 338.7,165.4 338.7,164.8 338.7,164.2 338.7,163.6 338.7,163.0 338.7,162.4 338.8,161.8 338.8,161.2 338.8,160.6 338.8,160.0 338.8,159.4 338.8,158.8 338.8,158.2 338.8,157.6 338.9,157.0 338.9,156.4 338.9,155.8 338.9,155.2 338.9,154.6 338.9,154.0 338.9,153.4 338.9,152.8 338.9,152.2 339.0,151.6 339.0,151.0 339.0,150.4 339.0,149.8 339.0,149.2 339.0,148.6 339.0,148.0 339.0,147.4 339.0,146.8 339.1,146.2 339.1,145.6 339.1,145.0 339.1,144.4 339.1,143.8 339.1,143.2 339.1,142.6 339.1,142.0 339.2,141.4 339.2,140.8 339.2,140.2 339.2,139.6 339.2,139.0 339.3,138.4 339.3,137.8 339.3,137.2 339.4,136.6 339.4,136.0 339.5,135.4 339.5,134.8 339.6,134.2 339.6,133.6 339.7,133.0 339.7,132.4 339.7,131.8 339.8,131.2 339.8,130.6 339.9,130.0 339.9,129.4 340.0,128.8 340.0,128.2 340.1,127.6 340.1,127.0 340.2,126.4 340.2,125.8 340.2,125.2 340.3,124.6 340.3,124.0 340.4,123.4 340.4,122.8 340.5,122.2 340.5,121.6 340.6,121.0 340.6,120.4 340.7,119.8 340.7,119.2 340.7,118.5 340.8,117.9 340.8,117.3 340.9,116.7 340.9,116.1 341.0,115.5 341.0,114.9 341.1,114.3 341.1,113.7 341.2,113.1 341.2,112.5 341.2,111.9 341.3,111.3 341.3,110.7 341.4,110.1 341.4,109.5 341.5,108.9 341.5,108.3 341.6,107.7 341.6,107.1 341.7,106.5 341.7,105.9 341.7,105.3 341.8,104.7 341.8,104.1 341.9,103.5 341.9,102.9 342.0,102.3 342.0,101.7 342.1,101.1 342.1,100.5 342.2,99.9 342.2,99.3 342.3,98.7 342.4,98.1 342.5,97.5 342.6,96.9 342.7,96.3 342.7,95.7 342.8,95.0 342.9,94.4 343.0,93.8 343.1,93.2 343.2,92.6 343.3,92.0 343.4,91.4 343.5,90.8 343.6,90.2 343.6,89.6 343.7,89.0 343.8,88.4 343.9,87.8 344.0,87.2 344.1,86.5 344.2,85.9 344.3,85.3 344.4,84.7 344.5,84.1 344.5,83.5 344.6,82.9 344.7,82.3 344.8,81.7 344.9,81.1 345.0,80.5 345.1,79.9 345.2,79.3 345.3,78.7 345.4,78.0 345.4,77.4 345.5,76.8 345.6,76.2 345.7,75.6 345.8,75.0 345.9,74.4 346.1,73.8 346.2,73.2 346.4,72.7 346.5,72.1 346.7,71.5 346.8,70.9 347.0,70.3 347.1,69.8 347.3,69.2 347.5,68.6 347.6,68.0 347.8,67.4 347.9,66.8 348.1,66.3 348.2,65.7 348.4,65.1 348.6,64.5 348.7,63.9 348.9,63.4 349.0,62.8 349.2,62.2 349.3,61.6 349.5,61.0 349.6,60.5 349.8,59.9 350.0,59.3 350.1,58.7 350.3,58.1 350.4,57.5 350.6,57.0 350.8,56.4 351.0,55.8 351.3,55.3 351.6,54.7 351.9,54.2 352.3,53.7 352.6,53.2 353.0,52.6 353.4,52.1 353.7,51.6 354.1,51.0 354.4,50.5 354.8,50.0 355.1,49.5 355.5,49.0 356.0,48.6 356.5,48.3 357.1,48.1 357.7,48.0 358.3,47.9 358.9,47.8 359.5,47.9 360.1,48.1 360.7,48.3 361.2,48.7 361.8,49.1 362.3,49.4 362.9,49.8 363.4,50.2 363.9,50.6 364.3,51.0 364.7,51.5 365.0,52.0 365.2,52.6 365.5,53.1 365.8,53.7 366.0,54.2 366.2,54.8 366.5,55.3 366.8,55.9 367.0,56.5 367.2,57.0 367.5,57.6 367.8,58.1 368.0,58.7 368.2,59.2 368.5,59.8 368.8,60.3 369.0,60.9 369.2,61.5 369.4,62.0 369.6,62.6 369.8,63.2 370.0,63.7 370.2,64.3 370.3,64.9 370.5,65.5 370.6,66.1 370.8,66.6 371.0,67.2 371.1,67.8 371.3,68.4 371.5,69.0 371.6,69.5 371.8,70.1 371.9,70.7 372.1,71.3 372.3,71.9 372.4,72.4 372.6,73.0 372.8,73.6 372.9,74.2 373.1,74.8 373.3,75.3 373.4,75.9 373.6,76.5 373.7,77.1 373.9,77.7 374.1,78.2 374.2,78.8 374.4,79.4 374.6,80.0 374.9,80.5 375.1,81.1 375.3,81.7 375.5,82.2 375.8,82.8 376.0,83.3 376.2,83.9 376.4,84.5 376.6,85.0 376.8,85.6 376.9,86.2 377.0,86.8 377.0,87.4 377.0,88.0 377.1,88.6 377.1,89.2 377.1,89.8 377.1,90.5 377.2,91.1 377.2,91.7 377.2,92.3 377.3,92.9 377.3,93.5 377.3,94.1 377.4,94.7 377.4,95.3 377.4,95.9 377.4,96.5 377.5,97.1 377.5,97.7 377.5,98.3 377.6,99.0 377.6,99.6 377.6,100.2 377.7,100.8 377.7,101.4 377.7,102.0 377.7,102.6 377.8,103.2 377.8,103.8 377.8,104.4 377.9,105.0 377.9,105.6 377.9,106.2 378.0,106.8 378.0,107.5 378.0,108.1 378.0,108.7 378.1,109.3 378.1,109.9 378.1,110.5 378.2,111.1 378.2,111.7 378.2,112.3 378.2,112.9 378.3,113.5 378.3,114.1 378.3,114.7 378.3,115.3 378.3,115.9 378.4,116.5 378.4,117.1 378.4,117.7 378.4,118.3 378.4,118.9 378.5,119.5 378.5,120.1 378.5,120.7 378.5,121.3 378.5,121.9 378.5,122.5 378.6,123.1 378.6,123.7 378.6,124.3 378.6,124.9 378.6,125.5 378.7,126.1 378.7,126.7 378.7,127.3 378.7,127.9 378.7,128.5 378.8,129.1 378.8,129.7 378.8,130.3 378.8,130.9 378.8,131.5 378.9,132.1 378.9,132.7 378.9,133.3 378.9,133.9 378.9,134.5 379.0,135.1 379.0,135.7 379.0,136.3 379.0,136.9 379.0,137.5 379.1,138.1 379.1,138.7 379.1,139.3 379.1,139.9 379.1,140.5 379.1,141.1 379.2,141.7 379.2,142.3 379.2,142.9 379.2,143.5 379.2,144.1 379.3,144.7 379.3,145.3 379.3,145.9 379.3,146.5 379.3,147.1 379.4,147.7 379.4,148.3 379.4,148.9 379.4,149.5 379.4,150.1 379.5,150.7 379.5,151.3 379.5,152.0 379.5,152.6 379.5,153.2 379.6,153.8 379.6,154.4 379.6,155.0 379.6,155.6 379.6,156.2 379.6,156.8 379.7,157.5 379.7,158.1 379.7,158.7 379.7,159.3 379.7,159.9 379.8,160.5 379.8,161.1 379.8,161.7 379.8,162.4 379.8,163.0 379.9,163.6 379.9,164.2 379.9,164.8 380.0,165.4 380.1,166.0 380.1,166.6 380.2,167.2 380.3,167.8 380.4,168.4 380.4,169.0 380.5,169.6 380.6,170.2 380.7,170.8 380.8,171.5 380.8,172.1 380.9,172.7 381.0,173.3 381.1,173.9 381.1,174.5 381.2,175.1 381.3,175.7 381.4,176.3 381.5,176.9 381.5,177.5 381.6,178.1 381.7,178.7 381.8,179.3 381.9,179.9 381.9,180.5 382.0,181.1 382.1,181.7 382.2,182.3 382.2,182.9 382.3,183.6 382.4,184.2 382.5,184.8 382.6,185.4 382.6,186.0 382.7,186.6 382.8,187.2 382.9,187.8 382.9,188.4 383.0,189.0 383.2,189.6 383.3,190.2 383.5,190.8 383.7,191.4 383.9,192.0 384.1,192.5 384.3,193.1 384.5,193.7 384.7,194.3 384.9,194.9 385.0,195.5 385.2,196.1 385.4,196.7 385.6,197.3 385.8,197.9 386.0,198.4 386.2,199.0 386.4,199.6 386.7,200.2 386.9,200.7 387.3,201.2 387.6,201.7 388.1,202.2 388.5,202.7 388.9,203.1 389.3,203.6 389.8,204.1 390.2,204.5 390.7,204.8 391.3,205.1 391.8,205.3 392.4,205.4 393.1,205.5 393.7,205.6 394.2,205.5 394.8,205.3 395.3,205.1 395.8,204.7 396.2,204.3 396.5,203.9 396.8,203.3 396.9,202.8 397.0,202.2 397.0,201.6 397.1,201.0 397.1,200.4 397.2,199.8 397.2,199.2 397.3,198.6 397.3,198.0 397.4,197.4 397.4,196.8 397.5,196.2 397.5,195.6 397.6,195.0 397.6,194.3 397.7,193.7 397.8,193.1 397.8,192.5 397.9,191.9 397.9,191.3 398.0,190.7 398.0,190.1 398.1,189.5 398.1,188.9 398.2,188.3 398.2,187.7 398.3,187.1 398.3,186.5 398.4,185.9 398.4,185.3 398.5,184.7 398.5,184.1 398.6,183.5 398.6,182.9 398.6,182.3 398.7,181.7 398.7,181.1 398.7,180.5 398.8,179.9 398.8,179.3 398.8,178.7 398.8,178.0 398.9,177.4 398.9,176.8 398.9,176.2 399.0,175.6 399.0,175.0 399.0,174.4 399.1,173.8 399.1,173.2 399.1,172.6 399.2,172.0 399.2,171.4 399.2,170.8 399.3,170.2 399.3,169.6 399.3,169.0 399.4,168.4 399.4,167.8 399.4,167.2 399.5,166.6 399.5,165.9 399.5,165.3 399.5,164.7 399.6,164.1 399.6,163.5 399.6,162.9 399.7,162.3 399.7,161.7 399.7,161.1 399.8,160.5 399.8,159.9 399.8,159.3 399.9,158.7 399.9,158.1 400.0,157.5 400.0,156.8 400.0,156.2 400.1,155.6 400.1,155.0 400.1,154.4 400.2,153.8 400.2,153.2 400.3,152.6 400.3,152.0 400.3,151.3 400.4,150.7 400.4,150.1 400.5,149.5 400.5,148.9 400.6,148.3 400.6,147.7 400.7,147.1 400.7,146.5 400.8,145.9 400.9,145.3 400.9,144.7 401.0,144.1 401.0,143.5 401.1,142.9 401.2,142.3 401.2,141.7 401.3,141.1 401.3,140.5 401.4,139.9 401.5,139.3 401.5,138.7 401.6,138.1 401.6,137.5 401.7,136.9 401.8,136.3 401.8,135.7 401.9,135.1 401.9,134.5 402.0,133.9 402.1,133.3 402.1,132.7 402.2,132.1 402.2,131.5 402.3,130.9 402.4,130.3 402.4,129.7 402.5,129.1 402.5,128.5 402.6,127.9 402.6,127.3 402.7,126.7 402.8,126.1 402.8,125.5 402.9,124.9 402.9,124.3 403.0,123.7 403.1,123.1 403.1,122.5 403.2,121.9 403.2,121.3 403.3,120.7 403.4,120.1 403.4,119.5 403.5,118.9 403.5,118.3 403.6,117.7 403.7,117.1 403.7,116.5 403.8,115.9 403.8,115.3 403.9,114.7 404.0,114.1 404.0,113.5 404.1,112.9 404.2,112.3 404.2,111.7 404.3,111.1 404.4,110.5 404.5,109.9 404.6,109.3 404.7,108.7 404.9,108.1 405.0,107.5 405.1,107.0 405.2,106.4 405.3,105.8 405.4,105.2 405.5,104.6 405.6,104.0 405.7,103.4 405.8,102.8 405.9,102.2 406.0,101.6 406.2,101.0 406.3,100.4 406.4,99.8 406.5,99.2 406.6,98.6 406.7,98.0 406.8,97.5 406.9,96.9 407.0,96.3 407.1,95.7 407.2,95.1 407.4,94.5 407.5,93.9 407.6,93.3 407.7,92.7 407.8,92.1 407.9,91.5 408.0,90.9 408.1,90.3 408.2,89.7 408.3,89.1 408.4,88.6 408.5,88.0 408.7,87.4 408.8,86.8 408.9,86.2 409.0,85.6 409.1,85.0 409.2,84.4 409.4,83.8 409.6,83.3 409.8,82.7 410.0,82.1 410.1,81.5 410.3,81.0 410.5,80.4 410.7,79.8 410.9,79.2 411.1,78.7 411.3,78.1 411.5,77.5 411.6,77.0 411.8,76.4 412.0,75.8 412.2,75.2 412.4,74.7 412.6,74.1 412.8,73.5 413.0,72.9 413.2,72.4 413.3,71.8 413.5,71.2 413.7,70.6 413.9,70.1 414.2,69.5 414.5,69.0 414.8,68.5 415.1,68.0 415.5,67.5 415.8,67.0 416.2,66.5 416.5,66.0 416.9,65.5 417.2,65.0 417.6,64.6 418.1,64.2 418.6,64.0 419.1,63.8 419.8,63.6 420.4,63.5 421.0,63.5 421.6,63.5 422.2,63.7 422.8,63.9 423.4,64.2 424.1,64.4 424.6,64.8 425.1,65.2 425.5,65.6 425.9,66.1 426.2,66.6 426.4,67.2 426.7,67.7 427.0,68.2 427.3,68.8 427.6,69.3 427.9,69.8 428.1,70.4 428.4,70.9 428.7,71.5 428.9,72.0 429.2,72.6 429.4,73.2 429.6,73.8 429.8,74.3 430.0,74.9 430.2,75.5 430.4,76.1 430.6,76.7 430.8,77.3 431.0,77.8 431.2,78.4 431.4,79.0 431.6,79.6 431.8,80.2 432.0,80.8 432.2,81.3 432.4,81.9 432.6,82.5 432.9,83.1 433.2,83.6 433.5,84.1 433.8,84.7 434.1,85.2 434.5,85.7 434.8,86.2 435.2,86.7 435.5,87.2 435.8,87.8 436.1,88.3 436.4,88.8 436.7,89.4 437.0,90.0 437.2,90.6 437.4,91.2 437.6,91.8 437.7,92.4 437.8,93.0 437.8,93.6 437.8,94.2 437.8,94.9 437.9,95.5 437.9,96.1 437.9,96.7 438.0,97.3 438.0,97.9 438.0,98.5 438.0,99.1 438.1,99.7 438.1,100.3 438.1,101.0 438.2,101.6 438.2,102.2 438.2,102.8 438.2,103.4 438.3,104.0 438.3,104.6 438.3,105.2 438.4,105.8 438.4,106.5 438.4,107.1 438.5,107.7 438.5,108.3 438.5,108.9 438.5,109.5 438.6,110.1 438.6,110.7 438.6,111.3 438.7,111.9 438.7,112.6 438.7,113.2 438.7,113.8 438.8,114.4 438.8,115.0 438.8,115.6 438.8,116.2 438.9,116.8 438.9,117.4 438.9,118.0 438.9,118.6 439.0,119.2 439.0,119.8 439.0,120.5 439.0,121.1 439.1,121.7 439.1,122.3 439.1,122.9 439.1,123.5 439.2,124.1 439.2,124.7 439.2,125.3 439.2,125.9 439.3,126.5 439.3,127.1 439.3,127.7 439.3,128.3 439.4,128.9 439.4,129.5 439.4,130.2 439.4,130.8 439.5,131.4 439.5,132.0 439.5,132.6 439.5,133.2 439.6,133.8 439.6,134.4 439.6,135.0 439.6,135.6 439.7,136.2 439.7,136.8 439.8,137.4 439.8,138.0 439.9,138.6 439.9,139.2 440.0,139.8 440.0,140.4 440.0,141.0 440.1,141.6 440.1,142.2 440.2,142.8 440.2,143.4 440.3,144.0 440.3,144.6 440.4,145.2 440.4,145.8 440.4,146.4 440.5,147.0 440.5,147.6 440.6,148.2 440.6,148.8 440.7,149.4 440.7,150.0 440.8,150.6 440.8,151.2 440.9,151.8 440.9,152.4 440.9,153.0 441.0,153.6 441.0,154.2 441.1,154.8 441.1,155.4 441.2,156.0 441.2,156.6 441.3,157.2 441.3,157.8 441.4,158.4 441.4,159.0 441.5,159.6 441.6,160.2 441.6,160.8 441.7,161.4 441.8,162.1 441.8,162.7 441.9,163.3 442.0,163.9 442.0,164.5 442.1,165.1 442.1,165.7 442.2,166.3 442.3,166.9 442.3,167.5 442.4,168.1 442.5,168.7 442.5,169.3 442.6,170.0 442.7,170.6 442.7,171.2 442.8,171.8 442.9,172.4 443.0,173.0 443.1,173.6 443.3,174.1 443.5,174.7 443.7,175.3 444.0,175.8 444.2,176.4 444.5,176.9 444.7,177.5 445.0,178.0 445.2,178.6 445.5,179.1 445.9,179.6 446.3,180.0 446.7,180.4 447.2,180.8 447.7,181.2 448.2,181.6 448.7,181.9 449.3,182.2 449.9,182.5 450.5,182.7 451.1,182.9 451.7,183.1 452.3,183.3 453.0,183.4 453.6,183.5 454.3,183.5 455.0,183.5 455.7,183.4 456.3,183.2 456.7,182.9 457.0,182.5 457.2,182.0 457.2,181.4 457.3,180.8 457.3,180.2 457.3,179.6 457.4,179.0 457.4,178.4 457.5,177.8 457.5,177.2 457.6,176.6 457.6,176.0 457.6,175.4 457.7,174.8 457.7,174.2 457.8,173.6 457.8,173.0 457.8,172.4 457.9,171.8 457.9,171.2 458.0,170.6 458.0,170.0 458.0,169.4 458.1,168.8 458.1,168.2 458.2,167.6 458.2,167.0 458.2,166.4 458.3,165.8 458.3,165.2 458.4,164.6 458.4,164.0 458.5,163.4 458.5,162.8 458.5,162.2 458.6,161.6 458.6,160.9 458.7,160.3 458.7,159.7 458.7,159.1 458.8,158.5 458.8,157.9 458.9,157.3 458.9,156.7 459.0,156.1 459.0,155.5 459.0,154.9 459.1,154.3 459.1,153.7 459.2,153.1 459.2,152.5 459.2,151.9 459.3,151.3 459.3,150.7 459.4,150.1 459.4,149.5 459.4,148.9 459.5,148.3 459.5,147.7 459.6,147.1 459.6,146.5 459.6,145.9 459.7,145.3 459.7,144.7 459.8,144.1 459.8,143.5 459.8,142.9 459.9,142.3 459.9,141.7 460.0,141.1 460.0,140.5 460.0,139.9 460.1,139.3 460.1,138.7 460.2,138.1 460.2,137.5 460.2,136.9 460.3,136.3 460.3,135.7 460.4,135.1 460.4,134.5 460.4,133.9 460.5,133.3 460.5,132.7 460.6,132.1 460.6,131.5 460.7,130.9 460.7,130.3 460.8,129.7 460.9,129.1 461.0,128.5 461.0,127.8 461.1,127.2 461.2,126.6 461.3,126.0 461.3,125.4 461.4,124.8 461.5,124.2 461.6,123.6 461.6,123.0 461.7,122.4 461.8,121.8 461.9,121.2 461.9,120.5 462.0,119.9 462.1,119.3 462.2,118.7 462.2,118.1 462.3,117.5 462.4,116.9 462.5,116.3 462.7,115.7 462.8,115.1 462.9,114.5 463.0,113.8 463.1,113.2 463.2,112.6 463.4,112.0 463.5,111.4 463.6,110.8 463.7,110.2 463.8,109.6 463.9,109.0 464.1,108.4 464.2,107.8 464.3,107.2 464.4,106.5 464.5,105.9 464.6,105.3 464.8,104.7 464.9,104.1 465.0,103.5 465.1,102.9 465.3,102.3 465.4,101.7 465.5,101.0 465.7,100.4 465.8,99.8 465.9,99.2 466.0,98.6 466.2,98.0 466.3,97.3 466.4,96.7 466.6,96.1 466.7,95.5 466.9,94.9 467.0,94.3 467.2,93.7 467.4,93.1 467.5,92.5 467.7,91.9 467.9,91.3 468.0,90.7 468.2,90.1 468.4,89.5 468.5,88.9 468.7,88.3 468.9,87.7 469.0,87.2 469.2,86.6 469.4,86.0 469.5,85.4 469.7,84.8 469.9,84.2 470.0,83.6 470.2,83.0 470.4,82.4 470.5,81.8 470.7,81.2 470.9,80.6 471.1,80.0 471.4,79.5 471.8,79.1 472.2,78.7 472.7,78.3 473.2,77.9 473.6,77.5 474.1,77.2 474.6,76.8 475.1,76.4 475.6,76.2 476.1,76.2 476.5,76.3 476.9,76.6 477.4,77.1 477.8,77.6 478.2,78.0 478.6,78.5 479.1,79.0 479.5,79.4 479.9,79.9 480.4,80.3 480.8,80.7 481.2,81.1 481.7,81.5 482.1,81.9 482.6,82.4 483.0,82.8 483.5,83.2 483.9,83.6 484.3,84.0 484.8,84.4 485.2,84.9 485.6,85.3 486.0,85.8 486.4,86.2 486.7,86.7 487.1,87.2 487.5,87.6 487.9,88.1 488.3,88.6 488.7,89.0 489.1,89.5 489.4,90.0 489.8,90.4 490.2,90.9 490.6,91.4 490.9,91.8 491.3,92.4 491.6,92.9 491.9,93.4 492.1,94.0 492.4,94.5 492.7,95.0 493.0,95.6 493.3,96.1 493.6,96.6 493.8,97.2 494.1,97.7 494.4,98.3 494.8,98.8 495.1,99.3 495.4,99.8 495.8,100.4 496.2,100.9 496.6,101.4 496.9,102.0 497.3,102.5 497.5,103.0 497.7,103.6 497.8,104.2 497.8,104.8 497.8,105.4 497.9,106.0 497.9,106.6 498.0,107.2 498.0,107.8 498.0,108.4 498.1,109.0 498.1,109.6 498.1,110.2 498.2,110.8 498.2,111.4 498.3,112.0 498.3,112.6 498.3,113.2 498.4,113.8 498.4,114.4 498.4,115.0 498.5,115.6 498.5,116.2 498.6,116.8 498.6,117.4 498.6,118.0 498.7,118.6 498.7,119.2 498.7,119.8 498.8,120.4 498.8,121.0 498.9,121.6 498.9,122.2 498.9,122.8 499.0,123.4 499.0,124.0 499.0,124.6 499.1,125.2 499.1,125.8 499.2,126.4 499.2,127.0 499.3,127.6 499.3,128.2 499.3,128.8 499.4,129.4 499.4,130.0 499.5,130.6 499.5,131.2 499.6,131.8 499.6,132.4 499.6,133.0 499.7,133.6 499.7,134.3 499.8,134.9 499.8,135.5 499.8,136.1 499.9,136.7 499.9,137.3 500.0,137.9 500.0,138.5 500.1,139.1 500.1,139.7 500.1,140.3 500.2,140.9 500.2,141.5 500.3,142.1 500.3,142.7 500.4,143.3 500.5,143.9 500.5,144.5 500.7,145.1 500.8,145.7 500.9,146.3 501.0,146.9 501.2,147.5 501.3,148.2 501.4,148.8 501.6,149.4 501.7,150.0 501.8,150.6 501.9,151.2 502.1,151.8 502.3,152.4 502.4,153.0 502.6,153.6 502.9,154.1 503.1,154.7 503.3,155.3 503.5,155.9 503.7,156.5 503.9,157.1 504.2,157.6 504.4,158.2 504.6,158.8 504.8,159.4 505.0,160.0 505.2,160.6 505.5,161.1 505.7,161.7 506.0,162.2 506.3,162.8 506.7,163.3 507.1,163.7 507.4,164.2 507.8,164.7 508.2,165.2 508.6,165.6 509.0,166.1 509.4,166.6 509.7,167.1 510.1,167.5 510.5,168.0 511.0,168.5 511.5,168.9 511.9,169.3 512.5,169.7 513.0,170.2 513.5,170.6 514.0,171.0 514.6,171.3 515.2,171.5 515.7,171.6 516.4,171.6 516.9,171.3 517.3,171.0 517.6,170.6 517.8,170.1 517.8,169.5 517.9,168.9 518.0,168.3 518.1,167.7 518.2,167.1 518.2,166.5 518.3,165.9 518.4,165.3 518.5,164.7 518.6,164.1 518.6,163.5 518.7,162.9 518.8,162.3 518.8,161.7 518.9,161.1 518.9,160.5 518.9,159.9 519.0,159.3 519.0,158.6 519.1,158.0 519.1,157.4 519.1,156.8 519.2,156.2 519.2,155.6 519.2,155.0 519.3,154.4 519.3,153.8 519.3,153.2 519.4,152.6 519.4,151.9 519.5,151.3 519.5,150.7 519.5,150.1 519.6,149.5 519.6,148.9 519.6,148.3 519.7,147.7 519.7,147.1 519.7,146.5 519.8,145.9 519.8,145.2 519.9,144.6 519.9,144.0 519.9,143.4 520.0,142.8 520.0,142.2 520.0,141.6 520.1,141.0 520.1,140.4 520.1,139.8 520.2,139.1 520.2,138.5 520.2,137.9 520.3,137.3 520.3,136.7 520.4,136.1 520.4,135.5 520.4,134.9 520.5,134.3 520.5,133.7 520.5,133.1 520.6,132.4 520.6,131.8 520.6,131.2 520.7,130.6 520.7,130.0 520.7,129.4 520.8,128.8 520.8,128.2 520.9,127.6 520.9,127.0 520.9,126.4 521.0,125.7 521.0,125.1 521.0,124.5 521.1,123.9 521.1,123.3 521.1,122.7 521.2,122.1 521.2,121.5 521.2,120.9 521.3,120.3 521.3,119.6 521.4,119.0 521.4,118.4 521.4,117.8 521.5,117.2 521.5,116.6 521.6,116.0 521.7,115.4 521.8,114.8 521.9,114.2 522.0,113.6 522.1,113.0 522.2,112.4 522.3,111.8 522.4,111.2 522.5,110.6 522.6,110.0 522.7,109.4 522.8,108.8 522.9,108.2 523.1,107.7 523.2,107.1 523.3,106.5 523.4,105.9 523.5,105.3 523.6,104.7 523.7,104.1 523.8,103.5 523.9,102.9 524.0,102.3 524.1,101.7 524.2,101.1 524.3,100.5 524.4,99.9 524.6,99.3 524.7,98.7 524.9,98.1 525.2,97.5 525.4,96.9 525.6,96.4 525.8,95.8 526.0,95.2 526.2,94.6 526.5,94.0 526.7,93.4 526.9,92.8 527.1,92.2 527.3,91.7 527.5,91.1 527.8,90.5 528.0,89.9 528.3,89.4 528.7,88.9 529.1,88.5 529.6,88.1 530.0,87.7 530.5,87.3 530.9,86.9 531.4,86.5 531.8,86.1 532.3,85.7 532.8,85.4 533.3,85.1 533.8,85.0 534.4,84.9 535.0,84.9 535.7,84.9 536.2,85.0 536.8,85.2 537.3,85.5 537.7,85.9 538.1,86.4 538.5,86.9 539.0,87.3 539.4,87.8 539.8,88.3 540.2,88.8 540.6,89.3 540.9,89.8 541.3,90.3 541.6,90.8 541.9,91.3 542.3,91.8 542.6,92.3 542.9,92.8 543.3,93.3 543.6,93.8 543.9,94.3 544.3,94.8 544.6,95.3 544.9,95.8 545.3,96.3 545.6,96.8 546.0,97.3 546.4,97.7 546.8,98.2 547.1,98.7 547.5,99.1 547.9,99.6 548.3,100.0 548.7,100.5 549.1,101.0 549.5,101.4 549.9,101.9 550.2,102.3 550.6,102.8 551.0,103.3 551.4,103.7 551.9,104.2 552.3,104.6 552.8,105.0 553.2,105.4 553.7,105.7 554.2,106.1 554.7,106.5 555.1,106.9 555.6,107.3 556.1,107.7 556.6,108.0 557.0,108.4 557.4,108.9 557.7,109.3 558.0,109.8 558.1,110.4 558.1,111.0 558.2,111.6 558.2,112.2 558.2,112.8 558.3,113.4 558.3,114.0 558.4,114.6 558.4,115.2 558.4,115.8 558.5,116.4 558.5,117.0 558.6,117.6 558.6,118.2 558.6,118.8 558.7,119.4 558.7,120.0 558.7,120.6 558.8,121.2 558.8,121.8 558.9,122.4 558.9,123.0 558.9,123.6 559.0,124.2 559.0,124.8 559.1,125.4 559.1,126.0 559.1,126.6 559.2,127.2 559.2,127.8 559.3,128.4 559.3,129.0 559.4,129.6 559.4,130.2 559.4,130.8 559.5,131.4 559.5,132.0 559.6,132.6 559.6,133.2 559.7,133.8 559.7,134.4 559.8,135.0 559.8,135.6 559.9,136.2 559.9,136.8 560.0,137.4 560.0,138.0 560.1,138.6 560.1,139.2 560.2,139.8 560.2,140.4 560.3,141.0 560.3,141.6 560.4,142.2 560.4,142.8 560.5,143.4 560.5,144.0 560.6,144.6 560.6,145.2 560.7,145.8 560.7,146.4 560.8,147.0 560.8,147.6 560.9,148.2 560.9,148.8 561.0,149.4 561.0,150.0 561.1,150.6 561.1,151.2 561.2,151.8 561.3,152.4 561.4,153.0 561.5,153.6 561.7,154.2 561.8,154.8 562.0,155.3 562.1,155.9 562.3,156.5 562.5,157.1 562.6,157.7 562.8,158.3 562.9,158.9 563.1,159.5 563.3,160.1 563.4,160.7 563.6,161.2 563.7,161.8 563.9,162.4 564.1,163.0 564.3,163.6 564.6,164.1 564.9,164.7 565.3,165.2 565.6,165.7 566.0,166.2 566.3,166.8 566.7,167.3 567.1,167.8 567.4,168.4 567.8,168.9 568.1,169.4 568.5,169.9 568.9,170.4 569.3,170.9 569.7,171.3 570.2,171.7 570.7,172.1 571.2,172.5 571.6,172.8 572.1,173.2 572.6,173.6 573.1,174.0 573.6,174.3 574.2,174.6 574.8,174.8 575.4,175.0 576.0,175.1 576.6,175.2 577.2,175.2 577.6,175.0 578.0,174.7 578.3,174.2 578.5,173.6 578.7,173.0 578.8,172.3 579.0,171.7 579.2,171.1 579.4,170.4 579.5,169.8 579.6,169.2 579.7,168.6 579.7,167.9 579.8,167.3 579.8,166.7 579.9,166.1 579.9,165.5 579.9,164.8 580.0,164.2 580.0,163.6 580.1,163.0 580.1,162.3 580.1,161.7 580.2,161.1 580.2,160.5 580.3,159.9 580.3,159.2 580.4,158.6 580.4,158.0 580.4,157.4 580.5,156.8 580.5,156.1 580.6,155.5 580.6,154.9 580.7,154.3 580.7,153.7 580.8,153.1 580.8,152.5 580.9,151.9 580.9,151.3 581.0,150.7 581.0,150.1 581.0,149.5 581.1,148.9 581.1,148.3 581.2,147.7 581.2,147.1 581.2,146.5 581.2,145.9 581.3,145.3 581.3,144.6 581.3,144.0 581.4,143.4 581.4,142.8 581.4,142.2 581.5,141.6 581.5,141.0 581.5,140.4 581.5,139.8 581.6,139.2 581.6,138.6 581.6,138.0 581.7,137.4 581.7,136.8 581.7,136.1 581.7,135.5 581.8,134.9 581.8,134.3 581.8,133.7 581.9,133.1 581.9,132.5 581.9,131.9 581.9,131.3 582.0,130.7 582.0,130.1 582.0,129.5 582.1,128.9 582.1,128.3 582.1,127.6 582.2,127.0 582.2,126.4 582.2,125.8 582.2,125.2 582.3,124.6 582.3,124.0 582.4,123.4 582.4,122.8 582.5,122.1 582.6,121.5 582.6,120.9 582.7,120.3 582.8,119.7 582.8,119.1 582.9,118.4 582.9,117.8 583.0,117.2 583.1,116.6 583.1,116.0 583.2,115.3 583.3,114.7 583.3,114.1 583.4,113.5 583.5,112.9 583.5,112.3 583.6,111.6 583.6,111.0 583.7,110.4 583.8,109.8 583.8,109.2 583.9,108.6 584.0,107.9 584.0,107.3 584.1,106.7 584.2,106.1 584.4,105.5 584.5,104.9 584.6,104.3 584.8,103.8 584.9,103.2 585.0,102.6 585.2,102.0 585.3,101.4 585.4,100.8 585.5,100.2 585.7,99.6 585.8,99.0 585.9,98.4 586.1,97.9 586.2,97.3 586.3,96.7 586.5,96.1 586.7,95.5 586.8,94.9 587.0,94.4 587.3,93.8 587.5,93.2 587.7,92.7 587.9,92.1 588.1,91.6 588.3,91.0 588.6,90.4 588.8,89.9 589.1,89.3 589.4,88.7 589.8,88.1 590.2,87.6 590.4,87.3 591.0,86.4" fill="none" stroke="#1f9622" stroke-width="1.65" stroke-linejoin="round" stroke-linecap="round"/><polyline points="183.1,126.0 183.4,125.0 183.4,124.9 183.3,124.3 183.3,123.7 183.4,122.8 183.6,122.7 183.6,121.7 183.8,121.5 183.9,120.5 184.1,119.7 184.1,119.2 183.9,118.5 184.1,118.3 184.1,117.5 184.3,116.8 184.4,115.9 184.3,115.4 184.6,115.0 184.5,114.5 184.7,113.6 184.9,113.3 184.7,112.6 184.9,112.2 185.1,111.2 185.3,110.5 185.1,110.3 185.1,109.5 185.2,109.0 185.5,108.3 185.6,107.5 185.7,107.1 185.7,106.4 185.9,106.1 185.8,105.3 185.8,104.8 186.1,104.3 186.3,103.2 186.3,102.9 186.3,102.1 186.5,101.3 186.6,101.1 186.8,100.1 187.0,100.2 186.9,99.0 187.4,99.0 187.8,98.4 187.5,97.1 187.8,97.2 188.4,95.5 188.0,95.1 188.3,94.9 188.9,94.0 188.7,93.7 189.2,93.4 189.9,93.0 189.9,92.4 190.2,91.0 190.7,91.5 191.0,91.2 191.0,90.4 191.2,90.7 191.6,90.0 192.2,90.4 192.8,90.6 193.0,91.2 193.5,92.0 193.7,93.3 194.5,92.8 194.5,93.7 194.9,94.0 195.5,95.9 195.4,95.8 195.3,95.8 195.5,96.7 195.9,97.1 195.3,98.9 195.7,98.3" fill="none" stroke="#1f9622" stroke-width="1.9" stroke-linejoin="round" stroke-linecap="round"/><polyline points="219.9,127.5 219.9,127.5 220.1,126.7 219.9,125.9 219.9,125.5 220.1,124.9 220.0,123.9 220.2,123.9 220.3,123.1 220.3,122.5 220.2,121.7 220.3,120.7 220.2,120.3 220.3,120.0 220.6,119.2 220.6,119.0 220.7,117.9 220.5,117.2 220.5,116.6 220.7,116.5 220.9,115.6 220.9,115.2 220.8,114.5 221.1,114.0 221.1,113.2 221.0,112.8 221.1,112.2 221.4,111.4 221.3,111.2 221.5,110.0 221.4,109.4 221.7,109.3 221.5,108.7 221.9,108.0 221.7,107.3 221.7,106.3 222.1,106.2 222.0,105.8 222.1,105.1 222.3,104.1 222.2,103.5 222.2,103.2 222.3,102.4 222.3,102.2 222.5,101.3 222.6,101.0 222.7,100.4 222.8,99.6 222.9,98.2 222.9,97.9 222.6,98.2 222.8,97.1 223.3,96.6 223.1,96.0 223.3,95.8 223.1,94.8 223.2,93.8 223.7,93.6 223.6,93.4 224.0,92.3 223.8,91.8 223.8,91.5 223.8,90.6 223.9,90.7 224.2,90.0 224.5,88.4 224.3,88.9 224.6,87.1 224.2,86.9 224.2,86.0 224.4,86.1 225.0,85.8 224.7,85.0 225.1,83.5 225.4,84.1 225.0,83.5 225.3,82.2 225.9,82.1 225.4,80.9 225.7,80.2 225.6,79.6 226.1,78.5 226.1,78.6 225.8,77.8 226.4,77.5 226.1,77.6 226.7,77.0 226.3,75.3 226.4,75.5 226.7,73.9 226.9,74.5 227.3,72.9 227.0,73.3 227.4,72.4 227.1,70.9 227.7,70.8 227.4,71.0 227.9,70.2 227.6,69.7 227.7,69.1 228.1,67.7 228.3,68.0 228.2,66.2 228.5,65.8 228.3,65.0 228.4,64.5 228.7,64.1 229.2,63.4 229.1,62.7 229.1,61.8 229.1,61.2 229.6,61.5 229.3,60.7 230.0,59.6 230.0,59.5 229.9,59.5 230.0,58.4 230.4,58.5 230.3,57.7 230.8,56.8 230.8,55.8 230.7,54.9 230.9,55.2 231.3,53.8 231.3,54.2 232.1,53.4 231.9,52.2 232.1,51.9 232.2,51.3 232.5,51.5 233.3,50.3 232.9,50.3 233.2,48.8 233.1,48.3 233.7,47.9 233.7,47.3 233.8,46.3 234.0,45.9 234.2,44.8 234.6,44.5 235.0,44.4 235.4,44.0 235.5,43.7 235.6,42.4 236.3,41.6 236.5,41.8 236.3,41.6 237.4,40.9 237.7,40.7 237.7,39.8 238.4,39.9 239.1,39.6 239.5,39.5 240.0,39.2 240.3,38.4 240.8,39.1 241.3,40.1 242.2,40.2 242.7,40.6 243.0,40.1 243.5,41.7 243.6,41.9 244.0,41.8 244.3,42.6 244.0,43.2 244.8,43.6 245.1,45.4 245.1,45.0 245.4,46.0 245.9,46.5 246.0,46.2 245.9,47.1 246.6,47.7 246.8,47.8 246.6,48.7 247.4,49.9 247.6,49.9 247.7,50.7 247.9,50.8 248.4,51.5 248.7,53.2 248.2,53.0 249.0,54.4 248.9,53.9 249.0,55.5 249.2,55.6 249.3,56.1 250.1,56.0 250.2,57.2 250.5,58.1 250.2,58.9 250.6,58.2 250.5,59.5 251.0,59.8 251.0,60.4 251.3,61.8 251.3,62.2 252.2,61.8 252.4,63.3 252.6,63.2 252.5,63.9 253.2,64.8 252.9,65.1 253.1,65.1 253.2,66.8 253.6,67.5 253.8,67.1 254.2,67.5 254.4,69.2 255.0,69.6 255.0,70.3 255.5,70.3 255.6,70.1 255.8,71.2 256.0,72.1 255.8,71.8 256.4,72.5 256.1,73.4 256.0,74.6 256.5,74.4 256.3,75.1 256.2,75.8 255.9,76.1 256.0,77.8 256.2,77.4 256.5,79.1 256.2,78.5 256.0,79.0 256.2,79.6 256.1,80.4 256.3,82.0 256.5,81.9 256.3,82.6 256.2,83.0 256.0,83.5 256.7,83.8 256.4,85.2 256.7,85.2" fill="none" stroke="#1f9622" stroke-width="1.9" stroke-linejoin="round" stroke-linecap="round"/><polyline points="280.0,113.7 280.1,113.3 280.3,113.0 280.4,111.8 280.1,111.6 280.5,110.9 280.4,109.9 280.4,110.0 280.6,109.3 280.8,108.3 280.5,107.6 280.7,107.4 280.9,106.8 280.9,106.2 280.9,105.5 280.8,105.0 280.9,104.5 281.2,103.5 281.0,102.8 281.3,102.6 281.2,101.5 281.4,101.3 281.4,100.4 281.6,99.3 281.4,99.3 282.0,99.0 282.0,98.1 281.6,97.2 282.2,97.3 281.7,95.6 281.9,96.0 282.0,94.8 282.2,95.2 281.9,93.2 282.1,93.2 282.4,92.3 282.6,92.5 282.4,91.1 282.8,90.6 282.8,89.9 282.4,90.1 282.5,89.8 282.7,88.0 282.6,87.8 283.0,87.9 282.7,86.5 282.8,86.8 282.8,84.8 282.8,84.7 283.5,84.8 283.4,84.4 283.6,82.8 283.1,83.1 283.6,81.1 283.6,81.0 283.5,80.4 283.4,79.3 283.6,79.2 284.2,78.2 284.3,77.8 284.0,78.1 284.5,76.9 284.0,76.4 284.4,76.4 284.4,75.0 285.1,73.9 284.8,74.5 285.2,72.7 284.8,72.2 285.6,71.9 285.6,72.2 285.5,70.7 286.1,70.6 285.7,70.2 285.9,68.9 285.8,69.0 286.6,68.2 286.7,66.7 286.3,66.8 287.0,66.9 286.7,65.3 286.9,65.0 287.4,64.0 287.4,64.2 287.6,63.7 287.6,62.4 287.5,61.9 288.0,60.8 287.7,61.3 287.8,59.6 287.8,59.8 288.2,59.8 288.7,59.2 288.4,57.3 288.4,57.3 289.0,56.6 288.8,56.0 289.2,55.8 289.4,55.4 289.5,53.7 289.8,53.4 289.9,53.0 290.2,52.1 290.2,51.6 290.4,52.0 291.0,50.7 291.1,51.1 291.5,49.4 292.0,49.5 292.4,48.1 292.3,48.6 292.8,48.2 292.5,46.7 292.9,46.0 293.8,46.0 294.0,45.2 294.3,44.7 294.1,44.6 294.9,43.1 294.9,43.3 295.0,42.4 295.3,41.7 295.8,41.8 296.5,40.8 296.6,40.6 297.6,40.0 297.8,39.6 298.7,39.7 298.7,38.7 299.4,39.1 300.1,38.4 300.2,39.4 300.9,39.1 301.2,40.6 301.7,40.4 302.2,40.7 303.0,42.0 303.1,41.3 303.7,41.8 303.4,43.4 304.0,43.9 304.2,44.5 304.4,44.1 304.2,45.2 304.9,46.4 304.6,46.5 305.0,46.9 305.0,47.2 305.5,48.7 305.3,48.7 306.0,50.0 305.8,49.3 306.5,51.2 306.3,50.4 306.8,51.5 307.0,52.4 307.1,52.3 307.3,53.0 307.2,54.5 307.7,54.1 307.4,55.0 307.9,55.6 307.8,55.9 308.5,57.5 308.2,57.5 309.0,57.3 309.2,58.0 309.3,59.2 309.5,59.4 309.6,60.4 309.8,61.0 310.1,61.3 310.0,62.1 310.6,62.1 311.0,63.5 311.0,63.1 311.2,63.6 311.2,64.6 311.4,65.2 312.0,65.2 312.3,65.8 312.6,67.4 312.7,66.9 313.0,68.0 313.6,68.2 313.8,70.0 314.0,70.3 313.9,71.1 314.4,71.7 315.0,71.1 315.2,72.8 314.9,72.5 315.7,72.7 316.1,73.5 316.2,73.9 316.1,75.6 315.9,75.3 316.2,76.0 315.9,76.4 316.0,78.1 316.4,78.6" fill="none" stroke="#1f9622" stroke-width="1.9" stroke-linejoin="round" stroke-linecap="round"/><polyline points="340.4,121.8 340.4,121.0 340.7,120.3 340.8,119.8 340.7,119.4 340.6,118.9 340.8,117.9 340.9,117.2 341.1,116.8 340.9,116.3 341.0,115.3 341.1,114.6 341.2,114.2 341.2,114.1 341.2,113.2 341.1,112.2 341.1,111.7 341.3,111.3 341.3,111.0 341.3,109.9 341.5,109.2 341.3,108.8 341.4,108.2 341.5,107.8 341.6,106.9 341.7,106.5 341.6,106.2 341.7,105.1 341.6,104.8 342.0,104.3 341.8,103.3 341.8,103.0 342.0,102.2 342.1,101.7 342.2,101.3 342.0,100.8 341.8,99.9 342.2,98.9 342.0,99.1 342.0,98.2 342.8,96.9 342.3,97.0 342.7,96.5 343.0,95.2 342.7,94.7 342.6,95.0 343.2,94.2 342.7,93.7 343.4,92.6 343.5,91.9 343.2,90.8 343.3,90.1 343.4,90.6 343.8,90.1 343.9,88.6 343.9,88.3 344.1,87.8 343.8,87.4 344.4,86.1 344.5,85.2 344.1,84.9 344.5,85.4 344.6,83.9 344.8,83.3 344.4,83.5 344.8,82.6 344.9,82.4 344.9,81.6 345.1,81.0 345.0,80.2 345.2,79.0 345.1,78.8 345.0,78.7 345.2,76.7 345.2,77.5 345.5,75.7 345.4,74.9 346.0,75.2 346.1,74.8 345.7,74.0 346.1,73.7 346.6,73.2 346.2,72.6 347.0,72.2 346.5,70.5 346.7,69.6 347.4,70.2 347.4,69.7 347.6,68.3 347.3,67.4 348.0,67.0 347.8,66.7 347.7,65.9 348.1,66.0 348.3,64.8 348.9,64.5 349.0,64.1 348.5,63.2 349.0,63.2 349.1,62.5 349.4,61.2 349.8,60.4 349.9,60.0 349.4,59.4 350.2,60.0 349.7,58.7 350.3,58.6 350.2,57.5 350.5,57.5 350.6,57.1 350.9,55.4 351.4,55.3 351.3,54.9 351.6,54.6 352.4,54.1 352.7,52.9 352.9,52.5 353.6,51.5 354.0,50.9 353.8,50.7 354.7,50.5 354.7,50.6 354.9,49.4 355.5,49.4 356.2,48.9 356.4,48.1 356.8,48.6 357.8,48.4 358.1,47.8 359.2,48.0 359.3,47.8 360.4,47.7 360.5,48.0 361.4,49.2 361.5,48.6 362.1,49.2 362.9,49.3 363.3,49.7 364.3,50.9 364.0,51.7 364.4,51.3 365.4,52.5 365.4,52.5 365.3,53.3 365.5,53.2 365.9,53.5 366.2,55.2 366.6,55.3 366.8,55.8 366.7,56.6 367.2,57.4 367.8,57.5 367.8,58.5 367.9,58.3 368.4,59.8 368.7,60.1 369.0,60.6 369.1,60.8 369.1,61.6 369.1,61.9 369.9,62.9 369.9,62.8 369.9,63.7 370.2,64.2 370.4,65.5 370.2,65.7 370.9,65.9 370.8,67.4 370.6,67.3 370.9,68.2 371.6,68.4 371.2,69.1 371.7,69.9 371.8,70.3 372.2,70.7 372.0,72.0 372.1,72.1 372.4,72.8 372.3,73.7 372.7,72.9 372.8,74.0 372.7,74.6 373.2,75.6 373.3,75.6 373.4,76.9 374.1,77.1 373.7,78.1 374.0,77.8 374.0,79.2 374.7,79.6 374.6,80.1 374.6,81.2 375.0,81.3 375.5,82.1 375.5,81.9 375.8,82.2 376.2,83.1 376.5,83.6 376.4,84.1 376.6,84.6 376.4,86.0 376.7,85.8 376.8,86.8 376.9,87.6 377.1,87.8 377.4,89.2 376.7,89.7" fill="none" stroke="#1f9622" stroke-width="1.9" stroke-linejoin="round" stroke-linecap="round"/><polyline points="401.0,145.5 400.8,144.9 401.0,143.8 400.9,143.8 401.2,142.7 401.0,142.0 401.1,141.9 401.2,140.9 401.5,140.7 401.3,140.2 401.5,139.5 401.6,139.0 401.7,138.3 401.5,137.6 401.7,137.1 401.7,136.6 401.8,135.5 401.8,134.8 401.9,134.2 402.0,133.7 402.0,133.3 402.1,133.0 402.0,132.3 402.2,131.5 402.3,131.1 402.3,130.2 402.6,129.4 402.5,129.2 402.4,128.6 402.7,128.2 402.6,127.6 402.7,126.7 402.9,125.8 402.9,125.6 402.8,125.2 402.9,124.3 403.0,123.9 403.0,123.1 403.1,122.5 403.3,121.8 403.4,121.2 403.3,120.5 403.4,120.4 403.5,119.7 403.4,118.8 403.5,118.4 403.7,117.9 403.5,117.3 403.9,116.5 403.6,115.8 403.7,115.1 404.0,114.8 404.0,114.3 404.2,113.6 404.1,113.0 404.2,112.4 404.3,111.5 404.4,111.1 404.5,110.2 404.4,109.6 404.7,109.6 404.8,108.6 405.0,108.3 405.0,107.4 405.0,106.9 405.1,106.3 405.3,106.1 405.2,105.2 405.3,104.3 405.7,104.0 405.9,103.4 405.7,102.7 406.0,102.5 406.2,101.6 406.1,100.7 406.3,100.2 406.1,99.1 406.1,99.5 406.3,99.3 406.4,98.6 406.5,96.7 407.1,96.5 407.2,95.8 406.8,96.1 407.4,95.6 407.5,93.9 407.6,94.2 407.5,94.0 407.5,93.4 407.9,91.4 407.5,91.7 408.2,90.3 408.0,90.7 408.0,90.3 408.3,88.5 408.3,88.7 408.5,88.2 408.4,87.8 408.7,87.0 409.0,86.1 408.9,86.0 409.4,85.4 409.3,84.1 409.1,84.5 409.7,83.7 409.6,82.8 410.3,82.6 410.2,81.2 410.3,81.5 410.4,80.7 410.8,80.4 411.1,78.9 410.7,78.3 411.2,78.2 411.7,78.1 411.3,77.4 412.1,76.9 412.1,75.5 412.5,75.7 412.5,75.3 412.5,73.5 412.8,74.0 412.7,73.3 413.5,72.0 413.4,72.1 413.5,70.8 413.5,71.0 414.2,70.0 413.9,70.0 414.7,68.6 414.9,69.1 415.4,68.0 415.5,67.6 415.6,66.5 415.9,66.8 416.4,66.1 416.8,65.5 416.9,64.3 418.0,64.4 417.8,64.4 418.8,63.4 419.2,63.5 419.8,62.9 420.0,64.3 421.3,63.5 421.7,63.2 422.4,63.6 423.2,64.3 423.7,64.8 423.9,63.7 424.4,64.3 424.8,64.5 425.6,66.1 425.8,66.7 426.5,66.0 426.5,67.0 426.4,68.4 426.8,68.3 427.4,69.5 427.7,69.1 427.8,69.3 428.5,71.1 428.2,70.2 428.5,71.2 429.3,72.6 429.4,71.9 429.6,73.5 429.7,74.5 429.5,73.8 430.2,75.6 430.3,75.2 430.5,76.5 430.3,76.4 430.6,76.7 431.0,77.3 431.0,77.9 431.5,78.3 431.8,79.1 431.5,80.8 431.8,81.4 432.5,81.9 432.1,81.9 432.3,83.1 433.1,83.3 433.1,83.4 433.7,84.1 433.9,84.1 433.9,84.5 434.6,85.8 434.6,86.8 435.0,86.6 435.2,86.9 436.1,87.5 435.9,88.3 436.3,89.5 436.4,90.1 436.6,90.6 437.3,90.2 437.4,90.9 437.4,91.4 437.6,93.1" fill="none" stroke="#1f9622" stroke-width="1.9" stroke-linejoin="round" stroke-linecap="round"/><polyline points="461.8,123.3 461.6,122.2 461.9,121.5 461.9,121.0 462.1,120.2 462.1,119.8 462.0,119.0 462.3,118.7 462.1,118.1 462.5,117.3 462.5,116.6 462.4,116.5 462.7,115.5 462.6,114.8 462.9,114.5 462.9,113.6 463.2,113.4 463.3,112.7 463.3,111.7 463.6,111.3 463.7,110.5 463.8,110.1 463.9,109.8 463.9,108.6 464.2,108.4 464.3,107.6 464.2,107.4 464.4,106.3 464.5,106.0 464.5,105.3 464.7,104.7 464.8,104.3 465.1,103.8 465.1,103.0 465.2,102.4 465.2,101.9 465.7,101.0 465.7,100.4 465.8,99.1 466.3,98.8 465.8,98.0 466.0,98.4 466.0,96.7 466.6,96.3 466.2,96.3 466.8,95.5 467.0,94.3 467.3,94.6 466.9,93.1 467.4,93.1 467.4,92.0 467.6,91.4 467.9,91.9 467.8,90.8 468.4,89.6 468.6,90.2 468.4,88.8 469.0,88.4 468.8,88.4 469.2,86.9 469.0,86.3 469.3,86.7 469.8,86.0 469.9,85.3 469.5,84.2 470.4,84.2 470.0,82.9 470.5,82.2 470.6,81.1 470.6,81.2 470.5,80.1 471.5,80.5 471.7,79.7 472.0,79.7 472.5,78.0 472.8,77.9 473.3,77.6 473.7,78.2 474.2,76.8 474.6,76.7 475.5,76.1 475.5,76.5 475.8,76.3 476.9,76.4 476.8,76.6 477.4,76.6 477.5,77.0 478.1,77.9 478.5,78.1 478.7,79.0 479.7,79.6 480.0,80.1 480.1,80.6 480.8,80.8 481.3,81.1 481.5,81.1 481.9,82.0 482.5,82.5 482.7,82.5 483.7,82.8 484.0,83.6 484.2,84.7 484.6,84.8 484.9,84.2 485.9,85.2 485.6,85.6 486.3,86.6 486.4,86.3 487.5,87.5 487.3,87.4 487.8,88.4 488.4,89.1 488.9,89.1 489.2,89.9 489.6,89.9 490.1,90.7 490.5,90.3 490.9,90.6 491.1,92.0 491.3,93.0 491.6,92.8 492.1,94.0 492.2,93.8 492.4,94.4 492.9,94.7 492.9,95.7 493.2,95.8 493.8,97.2 493.8,97.1 493.9,97.4 494.2,98.4 494.8,98.2 495.4,99.1 495.7,100.4 496.0,100.2 496.2,101.2 496.4,101.1 497.0,101.9 497.4,102.7 497.5,103.4 497.7,103.6 497.8,104.1 497.8,104.9 497.8,105.7 497.9,106.0 497.8,106.5 497.9,107.2 498.0,108.1 498.2,108.4 498.1,109.1 498.3,109.5 498.2,110.4 498.1,110.7" fill="none" stroke="#1f9622" stroke-width="1.9" stroke-linejoin="round" stroke-linecap="round"/><polyline points="522.3,113.2 522.2,112.2 522.5,112.0 522.5,111.6 522.7,110.6 522.5,109.9 522.7,109.4 522.7,108.6 523.0,108.3 523.0,108.0 523.2,106.7 523.2,106.7 523.3,106.0 523.3,105.1 523.7,104.7 523.7,103.9 523.8,103.5 523.8,103.0 524.0,102.6 524.1,101.6 524.1,100.8 524.4,100.2 524.1,99.4 524.6,99.8 524.8,99.2 524.6,97.4 525.4,97.3 525.5,96.7 525.3,96.0 525.5,96.4 526.1,95.0 526.2,94.4 526.1,94.6 526.7,94.1 526.8,93.0 526.9,91.6 527.7,92.2 527.4,91.7 528.0,90.2 528.1,90.6 528.3,90.1 528.5,88.8 529.3,88.1 529.4,88.7 530.0,88.1 530.3,86.8 530.8,86.4 531.7,86.2 531.9,85.5 532.3,85.5 532.7,84.7 533.0,85.6 533.7,84.6 534.2,84.6 534.9,84.2 535.8,84.7 536.0,85.3 536.5,84.8 537.5,84.9 537.7,86.4 538.4,85.9 538.4,87.2 538.9,88.0 539.1,88.5 539.8,87.9 540.1,88.3 540.7,88.9 541.2,89.9 541.2,89.9 541.7,90.4 542.2,90.7 542.3,91.9 542.4,92.7 542.8,93.0 543.3,93.0 543.5,93.2 543.7,94.8 544.1,95.0 544.3,95.4 544.8,95.8 545.1,95.6 545.5,96.4 545.7,97.6 546.2,97.6 547.1,98.6 547.4,99.2 547.3,98.8 547.6,99.8 548.4,99.9 548.7,100.6 549.2,100.8 549.6,101.3 549.9,101.7 550.1,102.6 550.7,103.0 550.9,103.0 551.3,103.5 551.8,104.1 552.1,104.4 552.8,104.7 553.3,105.4 553.8,105.6 554.2,106.3 554.6,106.2 555.3,107.1 555.5,107.0 556.2,107.7 556.4,107.9 556.9,108.6 557.3,109.1 557.8,109.0 558.0,109.8 558.2,110.6 558.0,110.7 558.3,111.5 558.3,112.3 558.3,113.0 558.3,113.4 558.2,114.1 558.3,114.6 558.5,114.9 558.5,115.5 558.5,116.6" fill="none" stroke="#1f9622" stroke-width="1.9" stroke-linejoin="round" stroke-linecap="round"/><polyline points="582.3,122.8 582.7,122.2 582.6,121.4 582.5,120.8 582.7,120.1 582.7,119.4 582.9,119.2 582.8,118.3 582.9,117.8 583.2,117.1 583.0,116.9 583.0,116.0 583.1,115.6 583.3,114.9 583.2,114.2 583.4,113.5 583.6,113.1 583.4,112.1 583.5,111.4 583.5,110.9 583.6,110.5 583.8,109.5 583.8,109.1 583.9,108.3 583.8,107.6 584.2,107.5 584.0,106.9 584.4,106.2 584.2,105.5 584.5,104.7 584.6,104.0 584.9,103.9 584.9,103.5 585.1,102.4 585.1,101.7 585.1,101.6 585.5,100.7 585.4,100.3 585.9,100.3 585.6,99.5 586.2,98.8 585.9,97.4 586.4,97.0 586.2,96.8 586.4,96.6 586.5,94.8 586.9,95.1 587.3,94.7 587.6,94.5 587.5,93.2 587.4,92.4 588.0,91.5 588.3,91.1 588.3,91.7 588.3,89.7 588.8,89.4 589.3,88.5 589.7,89.2 590.0,88.0 590.0,87.8 590.4,87.2 590.9,86.3" fill="none" stroke="#1f9622" stroke-width="1.9" stroke-linejoin="round" stroke-linecap="round"/>
<line x1="196" y1="10.5" x2="196" y2="304" stroke="#555" stroke-width="1.3" stroke-dasharray="2.4,2.05"/>
<line x1="219" y1="10.5" x2="219" y2="304" stroke="#555" stroke-width="1.3" stroke-dasharray="2.4,2.05"/>
<line x1="256.7" y1="10.5" x2="256.7" y2="304" stroke="#555" stroke-width="1.3" stroke-dasharray="2.4,2.05"/>
<line x1="279.3" y1="10.5" x2="279.3" y2="304" stroke="#555" stroke-width="1.3" stroke-dasharray="2.4,2.05"/>
<line x1="316.6" y1="10.5" x2="316.6" y2="304" stroke="#555" stroke-width="1.3" stroke-dasharray="2.4,2.05"/>
<line x1="339.7" y1="10.5" x2="339.7" y2="304" stroke="#555" stroke-width="1.3" stroke-dasharray="2.4,2.05"/>
<line x1="377.4" y1="10.5" x2="377.4" y2="304" stroke="#555" stroke-width="1.3" stroke-dasharray="2.4,2.05"/>
<line x1="400" y1="10.5" x2="400" y2="304" stroke="#555" stroke-width="1.3" stroke-dasharray="2.4,2.05"/>
<line x1="438" y1="10.5" x2="438" y2="304" stroke="#555" stroke-width="1.3" stroke-dasharray="2.4,2.05"/>
<line x1="460.8" y1="10.5" x2="460.8" y2="304" stroke="#555" stroke-width="1.3" stroke-dasharray="2.4,2.05"/>
<line x1="498.5" y1="10.5" x2="498.5" y2="304" stroke="#555" stroke-width="1.3" stroke-dasharray="2.4,2.05"/>
<line x1="521.3" y1="10.5" x2="521.3" y2="304" stroke="#555" stroke-width="1.3" stroke-dasharray="2.4,2.05"/>
<line x1="558.8" y1="10.5" x2="558.8" y2="304" stroke="#555" stroke-width="1.3" stroke-dasharray="2.4,2.05"/>
<line x1="581.6" y1="10.5" x2="581.6" y2="304" stroke="#555" stroke-width="1.3" stroke-dasharray="2.4,2.05"/>
<g clip-path="url(#cA)"><rect x="515" y="227" width="69" height="64" fill="#4a8b7f"/><g filter="url(#b2)"><ellipse cx="527" cy="235" rx="16" ry="10" fill="#2a775a"/><ellipse cx="558" cy="249" rx="15" ry="11" fill="#6ba59b"/><ellipse cx="527" cy="257" rx="10" ry="9" fill="#549688"/><ellipse cx="543" cy="280" rx="32" ry="8" fill="#2c7459"/><ellipse cx="578" cy="243" rx="6" ry="16" fill="#317f60"/><ellipse cx="572" cy="282" rx="12" ry="7" fill="#55968a"/><ellipse cx="552" cy="265" rx="12" ry="5" fill="#3a8467"/></g><g filter="url(#b4)" fill="none" stroke-linecap="round"><path d="M515.5 252.9Q524.7 241.0 535.9 228.5" stroke="#1c5c43" stroke-width="3.6" transform="translate(0.6,0.7)" opacity="0.85"/><path d="M515.5 245.0Q523.4 235.8 531.3 227.2" stroke="#1c5c43" stroke-width="3.2" transform="translate(0.6,0.7)" opacity="0.85"/><path d="M533.3 235.8Q536.3 248.9 532.3 263.4" stroke="#1c5c43" stroke-width="3.3" transform="translate(0.6,0.7)" opacity="0.85"/><path d="M537.9 252.2Q549.7 242.3 560.8 227.9" stroke="#1c5c43" stroke-width="3.4" transform="translate(0.6,0.7)" opacity="0.85"/><path d="M537.9 237.1Q551.0 235.8 566.8 229.2" stroke="#1c5c43" stroke-width="3.0" transform="translate(0.6,0.7)" opacity="0.85"/><path d="M537.2 259.4Q557.6 258.1 582.5 250.9" stroke="#1c5c43" stroke-width="3.1" transform="translate(0.6,0.7)" opacity="0.85"/><path d="M582.5 229.2Q576.0 248.9 557.6 266.0" stroke="#1c5c43" stroke-width="3.6" transform="translate(0.6,0.7)" opacity="0.85"/><path d="M577.9 227.9Q573.3 246.3 566.8 263.4Q564.1 275.2 564.8 281.8" stroke="#1c5c43" stroke-width="3.2" transform="translate(0.6,0.7)" opacity="0.85"/><path d="M515.5 275.2Q539.2 276.5 557.6 268.6Q570.7 263.4 582.5 259.4" stroke="#1c5c43" stroke-width="3.5" transform="translate(0.6,0.7)" opacity="0.85"/><path d="M516.2 281.8Q537.9 280.4 554.9 272.6" stroke="#1c5c43" stroke-width="3.1" transform="translate(0.6,0.7)" opacity="0.85"/><path d="M518.1 287.0Q531.3 283.1 536.5 284.4" stroke="#1c5c43" stroke-width="3.2" transform="translate(0.6,0.7)" opacity="0.85"/><path d="M528.7 263.4Q528.0 268.6 530.0 272.6" stroke="#1c5c43" stroke-width="2.6" transform="translate(0.6,0.7)" opacity="0.85"/><path d="M548.4 281.8Q564.1 272.6 582.5 269.9" stroke="#1c5c43" stroke-width="3.0" transform="translate(0.6,0.7)" opacity="0.85"/><path d="M568.1 275.2Q573.3 264.7 582.5 258.1" stroke="#1c5c43" stroke-width="3.2" transform="translate(0.6,0.7)" opacity="0.85"/><path d="M537.9 269.9Q548.4 263.4 560.2 262.0" stroke="#1c5c43" stroke-width="2.9" transform="translate(0.6,0.7)" opacity="0.85"/><path d="M515.5 263.4Q522.1 259.4 527.3 252.9" stroke="#1c5c43" stroke-width="3.0" transform="translate(0.6,0.7)" opacity="0.85"/><path d="M544.4 288.3Q560.2 285.7 582.5 277.8" stroke="#1c5c43" stroke-width="2.9" transform="translate(0.6,0.7)" opacity="0.85"/><path d="M516.8 231.8Q524.7 230.5 535.2 233.1" stroke="#1c5c43" stroke-width="2.8" transform="translate(0.6,0.7)" opacity="0.85"/><path d="M520.8 227.9Q531.3 234.5 548.4 231.8" stroke="#1c5c43" stroke-width="2.8" transform="translate(0.6,0.7)" opacity="0.85"/><path d="M539.2 252.9Q548.4 254.2 560.2 250.2" stroke="#1c5c43" stroke-width="2.8" transform="translate(0.6,0.7)" opacity="0.85"/><path d="M560.2 227.9Q570.7 231.8 582.5 227.9" stroke="#1c5c43" stroke-width="2.6" transform="translate(0.6,0.7)" opacity="0.85"/><path d="M515.5 252.9Q524.7 241.0 535.9 228.5" stroke="#36a06d" stroke-width="2.7"/><path d="M515.5 252.9Q524.7 241.0 535.9 228.5" stroke="#78dcaa" stroke-width="0.8" transform="translate(-0.5,-0.5)" opacity="0.75"/><path d="M515.5 245.0Q523.4 235.8 531.3 227.2" stroke="#36a06d" stroke-width="2.3"/><path d="M515.5 245.0Q523.4 235.8 531.3 227.2" stroke="#78dcaa" stroke-width="0.8" transform="translate(-0.5,-0.5)" opacity="0.75"/><path d="M533.3 235.8Q536.3 248.9 532.3 263.4" stroke="#36a06d" stroke-width="2.4"/><path d="M533.3 235.8Q536.3 248.9 532.3 263.4" stroke="#78dcaa" stroke-width="0.8" transform="translate(-0.5,-0.5)" opacity="0.75"/><path d="M537.9 252.2Q549.7 242.3 560.8 227.9" stroke="#36a06d" stroke-width="2.5"/><path d="M537.9 252.2Q549.7 242.3 560.8 227.9" stroke="#78dcaa" stroke-width="0.8" transform="translate(-0.5,-0.5)" opacity="0.75"/><path d="M537.9 237.1Q551.0 235.8 566.8 229.2" stroke="#36a06d" stroke-width="2.1"/><path d="M537.9 237.1Q551.0 235.8 566.8 229.2" stroke="#78dcaa" stroke-width="0.8" transform="translate(-0.5,-0.5)" opacity="0.75"/><path d="M537.2 259.4Q557.6 258.1 582.5 250.9" stroke="#36a06d" stroke-width="2.2"/><path d="M537.2 259.4Q557.6 258.1 582.5 250.9" stroke="#78dcaa" stroke-width="0.8" transform="translate(-0.5,-0.5)" opacity="0.75"/><path d="M582.5 229.2Q576.0 248.9 557.6 266.0" stroke="#36a06d" stroke-width="2.7"/><path d="M582.5 229.2Q576.0 248.9 557.6 266.0" stroke="#78dcaa" stroke-width="0.8" transform="translate(-0.5,-0.5)" opacity="0.75"/><path d="M577.9 227.9Q573.3 246.3 566.8 263.4Q564.1 275.2 564.8 281.8" stroke="#36a06d" stroke-width="2.3"/><path d="M577.9 227.9Q573.3 246.3 566.8 263.4Q564.1 275.2 564.8 281.8" stroke="#78dcaa" stroke-width="0.8" transform="translate(-0.5,-0.5)" opacity="0.75"/><path d="M515.5 275.2Q539.2 276.5 557.6 268.6Q570.7 263.4 582.5 259.4" stroke="#36a06d" stroke-width="2.6"/><path d="M515.5 275.2Q539.2 276.5 557.6 268.6Q570.7 263.4 582.5 259.4" stroke="#78dcaa" stroke-width="0.8" transform="translate(-0.5,-0.5)" opacity="0.75"/><path d="M516.2 281.8Q537.9 280.4 554.9 272.6" stroke="#36a06d" stroke-width="2.2"/><path d="M516.2 281.8Q537.9 280.4 554.9 272.6" stroke="#78dcaa" stroke-width="0.8" transform="translate(-0.5,-0.5)" opacity="0.75"/><path d="M518.1 287.0Q531.3 283.1 536.5 284.4" stroke="#36a06d" stroke-width="2.3"/><path d="M518.1 287.0Q531.3 283.1 536.5 284.4" stroke="#78dcaa" stroke-width="0.8" transform="translate(-0.5,-0.5)" opacity="0.75"/><path d="M528.7 263.4Q528.0 268.6 530.0 272.6" stroke="#36a06d" stroke-width="1.7"/><path d="M528.7 263.4Q528.0 268.6 530.0 272.6" stroke="#78dcaa" stroke-width="0.8" transform="translate(-0.5,-0.5)" opacity="0.75"/><path d="M548.4 281.8Q564.1 272.6 582.5 269.9" stroke="#36a06d" stroke-width="2.1"/><path d="M548.4 281.8Q564.1 272.6 582.5 269.9" stroke="#78dcaa" stroke-width="0.8" transform="translate(-0.5,-0.5)" opacity="0.75"/><path d="M568.1 275.2Q573.3 264.7 582.5 258.1" stroke="#36a06d" stroke-width="2.3"/><path d="M568.1 275.2Q573.3 264.7 582.5 258.1" stroke="#78dcaa" stroke-width="0.8" transform="translate(-0.5,-0.5)" opacity="0.75"/><path d="M537.9 269.9Q548.4 263.4 560.2 262.0" stroke="#36a06d" stroke-width="2.0"/><path d="M537.9 269.9Q548.4 263.4 560.2 262.0" stroke="#78dcaa" stroke-width="0.8" transform="translate(-0.5,-0.5)" opacity="0.75"/><path d="M515.5 263.4Q522.1 259.4 527.3 252.9" stroke="#36a06d" stroke-width="2.1"/><path d="M515.5 263.4Q522.1 259.4 527.3 252.9" stroke="#78dcaa" stroke-width="0.8" transform="translate(-0.5,-0.5)" opacity="0.75"/><path d="M544.4 288.3Q560.2 285.7 582.5 277.8" stroke="#36a06d" stroke-width="2.0"/><path d="M544.4 288.3Q560.2 285.7 582.5 277.8" stroke="#78dcaa" stroke-width="0.8" transform="translate(-0.5,-0.5)" opacity="0.75"/><path d="M516.8 231.8Q524.7 230.5 535.2 233.1" stroke="#36a06d" stroke-width="1.9"/><path d="M516.8 231.8Q524.7 230.5 535.2 233.1" stroke="#78dcaa" stroke-width="0.8" transform="translate(-0.5,-0.5)" opacity="0.75"/><path d="M520.8 227.9Q531.3 234.5 548.4 231.8" stroke="#36a06d" stroke-width="1.9"/><path d="M520.8 227.9Q531.3 234.5 548.4 231.8" stroke="#78dcaa" stroke-width="0.8" transform="translate(-0.5,-0.5)" opacity="0.75"/><path d="M539.2 252.9Q548.4 254.2 560.2 250.2" stroke="#36a06d" stroke-width="1.9"/><path d="M539.2 252.9Q548.4 254.2 560.2 250.2" stroke="#78dcaa" stroke-width="0.8" transform="translate(-0.5,-0.5)" opacity="0.75"/><path d="M560.2 227.9Q570.7 231.8 582.5 227.9" stroke="#36a06d" stroke-width="1.7"/><path d="M560.2 227.9Q570.7 231.8 582.5 227.9" stroke="#78dcaa" stroke-width="0.8" transform="translate(-0.5,-0.5)" opacity="0.75"/></g></g>
<path d="M155.3 10.1V304.9" stroke="#8c8c8c" stroke-width="1.8" fill="none"/><path d="M154.4 10.1H620.3" stroke="#606060" stroke-width="1.7" fill="none"/><path d="M619.4 10.1V305.8" stroke="#585858" stroke-width="2" fill="none"/><path d="M154.4 304.9H620.4" stroke="#4a4a4a" stroke-width="2.1" fill="none"/>
<line x1="82.2" y1="10" x2="82.2" y2="304" stroke="#a2a2a2" stroke-width="1.8"/>
<line x1="80.2" y1="52.6" x2="82.6" y2="52.6" stroke="#999" stroke-width="1"/>
<line x1="80.2" y1="112.2" x2="82.6" y2="112.2" stroke="#999" stroke-width="1"/>
<line x1="80.2" y1="171.8" x2="82.6" y2="171.8" stroke="#999" stroke-width="1"/>
<line x1="80.2" y1="231.4" x2="82.6" y2="231.4" stroke="#999" stroke-width="1"/>
<line x1="80.2" y1="291" x2="82.6" y2="291" stroke="#999" stroke-width="1"/>
<line x1="153" y1="23.4" x2="155.4" y2="23.4" stroke="#999" stroke-width="1"/>
<line x1="153" y1="100.5" x2="155.4" y2="100.5" stroke="#999" stroke-width="1"/>
<line x1="153" y1="177.5" x2="155.4" y2="177.5" stroke="#999" stroke-width="1"/>
<line x1="153" y1="254.5" x2="155.4" y2="254.5" stroke="#999" stroke-width="1"/>
<line x1="82" y1="10.4" x2="84.5" y2="10.4" stroke="#666" stroke-width="1"/><line x1="82" y1="304" x2="84.5" y2="304" stroke="#444" stroke-width="1.4"/>
<rect x="179.2" y="384" width="418.4" height="265" fill="#fff9c8"/>
<rect x="179.2" y="384" width="32.30000000000001" height="265" fill="#a3a3a3"/>
<rect x="263.3" y="384" width="31.0" height="265" fill="#a3a3a3"/>
<rect x="346.6" y="384" width="31.5" height="265" fill="#a3a3a3"/>
<rect x="430.7" y="384" width="31.100000000000023" height="265" fill="#a3a3a3"/>
<rect x="513.7" y="384" width="31.299999999999955" height="265" fill="#a3a3a3"/>
<polyline points="210.7,529.8 210.9,528.6 211.0,528.1 211.2,527.3 211.4,526.5 211.5,525.7 211.7,524.8 211.9,524.0 212.0,523.2 212.2,522.4 212.4,521.5 212.5,520.7 212.7,519.9 212.9,519.1 213.0,518.2 213.2,517.4 213.4,516.6 213.5,515.8 213.7,515.0 213.8,514.2 214.0,513.4 214.2,512.6 214.3,511.8 214.5,511.0 214.6,510.2 214.8,509.4 215.0,508.6 215.1,507.7 215.3,506.9 215.5,506.1 215.6,505.3 215.8,504.5 215.9,503.7 216.1,502.9 216.3,502.1 216.4,501.3 216.6,500.5 216.7,499.7 216.9,498.9 217.1,498.1 217.2,497.3 217.4,496.5 217.5,495.7 217.7,494.9 217.9,494.1 218.0,493.3 218.2,492.5 218.4,491.7 218.5,490.9 218.7,490.1 218.8,489.3 219.0,488.5 219.2,487.7 219.3,486.9 219.5,486.1 219.6,485.3 219.8,484.5 220.0,483.7 220.1,482.9 220.3,482.1 220.4,481.3 220.6,480.5 220.8,479.7 220.9,478.9 221.1,478.1 221.3,477.3 221.4,476.5 221.6,475.7 221.7,474.9 221.9,474.1 222.1,473.3 222.2,472.5 222.4,471.7 222.5,470.9 222.7,470.1 222.8,469.3 223.0,468.5 223.2,467.7 223.3,466.9 223.5,466.1 223.6,465.3 223.8,464.5 224.0,463.7 224.1,462.9 224.3,462.1 224.4,461.3 224.6,460.5 224.7,459.7 224.9,458.9 225.1,458.1 225.2,457.3 225.4,456.5 225.5,455.7 225.7,454.9 225.9,454.1 226.0,453.3 226.2,452.5 226.3,451.7 226.5,450.9 226.7,450.1 226.8,449.3 227.0,448.5 227.2,447.7 227.4,446.9 227.6,446.1 227.8,445.3 228.0,444.5 228.2,443.7 228.4,442.9 228.6,442.1 228.8,441.3 229.0,440.5 229.2,439.7 229.4,439.0 229.6,438.2 229.8,437.4 230.0,436.6 230.2,435.8 230.4,435.0 230.6,434.2 230.8,433.4 231.0,432.6 231.2,431.8 231.4,431.0 231.6,430.2 231.9,429.4 232.2,428.6 232.5,427.8 232.8,427.0 233.1,426.2 233.5,425.4 233.8,424.7 234.2,423.9 234.5,423.1 234.8,422.3 235.2,421.5 235.6,420.8 236.1,420.0 236.6,419.3 237.2,418.6 237.7,417.9 238.3,417.4 238.9,417.2 239.6,417.1 240.2,417.4 240.9,417.8 241.6,418.4 242.2,418.9 242.8,419.6 243.4,420.3 243.9,421.0 244.5,421.6 245.0,422.3 245.6,423.0 246.1,423.7 246.7,424.4 247.2,425.0 247.8,425.7 248.3,426.3 248.8,427.0 249.3,427.6 249.9,428.1 250.6,428.4 251.3,428.5 252.0,428.6 252.7,428.8 253.3,429.1 253.8,429.6 254.3,430.3 254.7,431.0 255.2,431.7 255.6,432.4 256.0,433.1 256.3,433.9 256.6,434.6 256.8,435.4 257.0,436.2 257.3,436.9 257.5,437.7 257.7,438.5 257.9,439.3 258.2,440.0 258.4,440.8 258.6,441.6 258.9,442.3 259.0,443.1 259.2,443.9 259.4,444.7 259.5,445.5 259.7,446.3 259.8,447.1 260.0,447.9 260.1,448.7 260.3,449.5 260.4,450.3 260.6,451.1 260.7,451.9 260.9,452.7 261.0,453.5 261.2,454.3 261.3,455.1 261.4,455.9 261.6,456.7 261.7,457.5 261.8,458.4 261.9,459.2 262.1,460.0 262.2,460.8 262.3,461.7 262.4,462.5 262.5,463.3 262.6,464.1 262.7,465.0 262.8,465.8 263.0,466.6 263.1,467.4 263.1,467.9 263.3,469.1" fill="none" stroke="#8383d2" stroke-width="1.75" stroke-linejoin="round" stroke-linecap="round"/>
<polyline points="263.3,469.1 263.5,470.3 263.5,470.8 263.6,471.6 263.7,472.4 263.9,473.2 264.0,474.1 264.1,474.9 264.2,475.7 264.3,476.6 264.4,477.4 264.5,478.2 264.6,479.0 264.7,479.9 264.9,480.7 265.0,481.5 265.1,482.3 265.2,483.2 265.3,484.0 265.5,484.8 265.6,485.7 265.8,486.5 266.0,487.3 266.1,488.1 266.3,489.0 266.5,489.8 266.6,490.6 266.8,491.4 267.0,492.3 267.1,493.1 267.3,493.9 267.5,494.7 267.6,495.6 267.8,496.4 268.0,497.2 268.3,497.9 268.5,498.7 268.7,499.5 269.0,500.3 269.2,501.1 269.4,501.8 269.6,502.6 269.9,503.4 270.1,504.1 270.3,504.9 270.6,505.7 270.8,506.5 271.0,507.2 271.3,508.1 271.6,508.9 271.8,509.7 272.1,510.6 272.5,511.5 272.8,512.3 273.1,513.1 273.4,513.9 273.7,514.7 273.9,515.4 274.2,516.2 274.5,517.0 274.8,517.7 275.1,518.5 275.4,519.3 275.6,520.0 275.9,520.8 276.2,521.5 276.6,522.3 276.9,523.0 277.2,523.8 277.6,524.5 278.0,525.3 278.4,526.0 278.7,526.8 279.1,527.5 279.5,528.3 279.9,529.0 280.4,529.7 280.9,530.4 281.4,531.0 282.1,531.4 282.7,531.5 283.3,531.4 283.9,531.0 284.5,530.4 284.9,529.7 285.3,528.9 285.6,528.1 285.8,527.3 286.0,526.5 286.2,525.7 286.4,524.9 286.6,524.0 286.8,523.2 287.0,522.4 287.2,521.5 287.4,520.7 287.6,519.9 287.8,519.1 287.9,518.2 288.1,517.4 288.3,516.6 288.4,515.7 288.6,514.9 288.8,514.1 288.9,513.2 289.1,512.4 289.3,511.6 289.4,510.7 289.6,509.9 289.8,509.1 289.9,508.2 290.1,507.4 290.3,506.6 290.6,505.9 290.8,505.1 291.0,504.3 291.2,503.5 291.5,502.8 291.7,502.0 291.9,501.2 292.1,500.4 292.3,499.7 292.5,498.9 292.6,498.1 292.7,497.2 292.8,496.4 292.9,495.6 293.0,494.8 293.0,493.9 293.1,493.1 293.2,492.3 293.2,491.4 293.3,490.6 293.4,489.8 293.4,488.9 293.5,488.1 293.6,487.3 293.7,486.5 293.7,485.6 293.8,484.8 293.9,484.0 293.9,483.1 294.0,482.3 294.1,481.5 294.2,480.7 294.2,480.2 294.3,479.0" fill="none" stroke="#2323a3" stroke-width="1.8" stroke-linejoin="round" stroke-linecap="round"/>
<polyline points="294.3,479.0 294.4,477.8 294.4,477.4 294.5,476.5 294.5,475.7 294.6,474.9 294.6,474.1 294.7,473.2 294.8,472.4 294.8,471.6 294.9,470.8 295.0,469.9 295.0,469.1 295.1,468.3 295.2,467.4 295.3,466.6 295.5,465.8 295.6,465.0 295.7,464.1 295.8,463.3 295.9,462.5 296.0,461.6 296.1,460.8 296.3,460.0 296.4,459.2 296.5,458.3 296.6,457.5 296.7,456.7 296.8,455.8 296.9,455.0 297.1,454.2 297.2,453.4 297.3,452.5 297.5,451.7 297.6,450.9 297.8,450.1 298.1,449.3 298.3,448.5 298.5,447.7 298.7,446.9 299.0,446.1 299.2,445.3 299.4,444.5 299.6,443.7 299.9,442.9 300.1,442.1 300.3,441.3 300.5,440.5 300.8,439.7 301.0,438.9 301.4,438.2 301.8,437.4 302.3,436.7 302.8,436.0 303.3,435.2 303.8,434.5 304.4,433.8 304.9,433.1 305.4,432.4 306.0,431.7 306.5,431.0 307.0,430.3 307.5,429.6 308.1,428.9 308.7,428.3 309.4,427.8 310.0,427.3 310.7,426.8 311.5,426.3 312.2,425.8 312.9,425.5 313.6,425.4 314.3,425.5 315.1,425.7 315.8,426.1 316.5,426.6 317.2,427.1 317.8,427.6 318.4,428.3 319.0,429.0 319.5,429.7 320.1,430.3 320.6,431.0 321.2,431.7 321.7,432.4 322.3,433.1 322.8,433.8 323.4,434.5 323.9,435.2 324.5,435.9 325.0,436.5 325.6,437.2 326.1,437.9 326.7,438.6 327.2,439.3 327.8,440.0 328.3,440.7 328.9,441.4 329.4,442.1 330.0,442.7 330.5,443.4 331.1,444.1 331.6,444.8 332.1,445.5 332.6,446.2 333.0,446.9 333.4,447.7 333.8,448.4 334.2,449.1 334.6,449.9 335.1,450.6 335.5,451.3 335.9,452.0 336.3,452.8 336.7,453.5 337.0,454.2 337.3,455.0 337.6,455.8 337.8,456.5 338.1,457.3 338.3,458.1 338.5,458.9 338.8,459.6 339.0,460.4 339.2,461.2 339.5,461.9 339.7,462.7 339.9,463.5 340.2,464.3 340.4,465.1 340.6,465.8 340.9,466.6 341.1,467.4 341.2,468.2 341.4,469.0 341.6,469.7 341.7,470.5 341.9,471.3 342.1,472.1 342.2,472.9 342.4,473.7 342.6,474.4 342.8,475.2 342.9,476.0 343.1,476.8 343.3,477.6 343.4,478.4 343.6,479.1 343.8,479.9 343.9,480.7 344.1,481.5 344.3,482.3 344.4,483.2 344.6,484.0 344.8,484.8 344.9,485.6 345.1,486.5 345.3,487.3 345.4,488.1 345.6,488.9 345.8,489.8 345.9,490.6 346.1,491.4 346.3,492.2 346.4,492.7 346.6,493.9" fill="none" stroke="#8383d2" stroke-width="1.75" stroke-linejoin="round" stroke-linecap="round"/>
<polyline points="346.6,493.9 346.9,495.1 347.0,495.6 347.2,496.4 347.4,497.2 347.6,498.0 347.9,498.9 348.1,499.7 348.3,500.5 348.5,501.3 348.7,502.1 348.9,503.0 349.1,503.8 349.3,504.6 349.5,505.4 349.7,506.3 349.9,507.1 350.0,507.9 350.2,508.7 350.4,509.6 350.6,510.4 350.8,511.2 351.0,512.0 351.3,512.8 351.5,513.5 351.7,514.3 352.0,515.1 352.2,515.9 352.4,516.6 352.6,517.4 352.9,518.2 353.1,519.0 353.3,519.7 353.6,520.5 353.8,521.3 354.0,522.0 354.3,522.8 354.6,523.6 354.9,524.3 355.2,525.1 355.5,525.8 355.8,526.6 356.2,527.3 356.5,528.0 356.8,528.8 357.2,529.5 357.5,530.3 357.8,531.0 358.2,531.7 358.5,532.5 358.8,533.2 359.2,534.0 359.5,534.7 359.8,535.5 360.2,536.3 360.5,537.1 360.8,537.9 361.2,538.7 361.5,539.4 361.9,540.2 362.2,541.0 362.5,541.8 362.9,542.6 363.3,543.4 363.7,544.1 364.2,544.9 364.7,545.6 365.2,546.1 365.8,546.3 366.4,546.2 366.9,545.9 367.5,545.3 368.0,544.6 368.4,543.8 368.7,543.0 369.0,542.2 369.3,541.4 369.5,540.5 369.8,539.7 370.1,538.9 370.3,538.0 370.5,537.2 370.7,536.4 370.9,535.5 371.1,534.7 371.3,533.9 371.4,533.1 371.6,532.2 371.8,531.4 371.9,530.6 372.1,529.8 372.3,528.9 372.4,528.1 372.6,527.3 372.8,526.5 372.9,525.6 373.1,524.8 373.3,524.0 373.4,523.1 373.6,522.3 373.8,521.5 373.9,520.7 374.1,519.8 374.3,519.0 374.4,518.2 374.6,517.4 374.8,516.5 374.9,515.7 375.1,514.9 375.3,514.1 375.4,513.2 375.6,512.4 375.8,511.6 376.1,510.8 376.3,510.1 376.5,509.3 376.7,508.5 377.0,507.7 377.2,506.9 377.4,506.1 377.6,505.4 377.8,505.0 378.1,503.8" fill="none" stroke="#2323a3" stroke-width="1.8" stroke-linejoin="round" stroke-linecap="round"/>
<polyline points="378.1,503.8 378.4,502.6 378.5,502.1 378.7,501.3 378.9,500.5 379.1,499.7 379.4,498.9 379.6,498.0 379.8,497.2 380.0,496.4 380.2,495.6 380.4,494.7 380.7,494.0 381.0,493.2 381.4,492.4 381.8,491.7 382.2,491.0 382.6,490.3 383.1,489.6 383.7,488.9 384.3,488.3 384.9,487.8 385.5,487.2 386.1,486.6 386.6,485.9 387.1,485.2 387.5,484.5 387.8,483.8 388.1,483.0 388.5,482.3 388.8,481.5 389.2,480.8 389.5,480.0 389.8,479.3 390.2,478.5 390.5,477.8 390.8,477.0 391.2,476.2 391.5,475.4 391.8,474.6 392.2,473.8 392.5,473.1 392.9,472.3 393.2,471.5 393.5,470.7 393.9,469.9 394.2,469.2 394.6,468.4 395.0,467.7 395.4,467.0 395.8,466.3 396.3,465.7 396.7,465.0 397.1,464.3 397.5,463.6 398.0,462.9 398.6,462.3 399.2,461.7 399.8,461.1 400.4,460.4 401.1,459.9 401.9,459.4 402.7,459.1 403.6,458.8 404.5,458.7 405.4,458.6 406.3,458.7 407.2,458.8 408.1,459.1 408.9,459.4 409.7,459.9 410.3,460.4 410.9,461.1 411.6,461.7 412.1,462.3 412.7,462.9 413.2,463.6 413.6,464.3 414.1,465.0 414.5,465.7 414.9,466.3 415.3,467.0 415.8,467.7 416.2,468.4 416.6,469.1 417.0,469.9 417.3,470.6 417.7,471.4 418.1,472.1 418.4,472.9 418.8,473.6 419.2,474.4 419.6,475.1 419.9,475.9 420.2,476.6 420.5,477.4 420.8,478.2 421.1,479.0 421.4,479.8 421.6,480.6 421.9,481.4 422.1,482.1 422.4,482.9 422.7,483.7 422.9,484.5 423.2,485.3 423.5,486.1 423.7,486.9 424.0,487.7 424.3,488.5 424.5,489.3 424.8,490.1 425.1,490.9 425.3,491.7 425.6,492.5 425.9,493.3 426.1,494.1 426.4,494.9 426.6,495.7 426.9,496.5 427.2,497.3 427.4,498.1 427.7,498.9 428.0,499.7 428.2,500.5 428.5,501.3 428.8,502.1 429.1,502.9 429.3,503.6 429.6,504.4 429.9,505.2 430.2,506.0 430.3,506.4 430.7,507.6" fill="none" stroke="#8383d2" stroke-width="1.75" stroke-linejoin="round" stroke-linecap="round"/>
<polyline points="430.7,507.6 431.2,508.8 431.4,509.2 431.8,510.0 432.1,510.8 432.5,511.7 432.8,512.5 433.2,513.3 433.5,514.1 433.9,514.9 434.2,515.6 434.5,516.4 434.7,517.2 435.0,517.9 435.3,518.7 435.6,519.4 435.8,520.2 436.1,520.9 436.4,521.7 436.7,522.5 437.0,523.2 437.2,524.0 437.5,524.7 437.8,525.5 438.1,526.2 438.3,527.0 438.6,527.7 438.9,528.5 439.2,529.2 439.6,530.0 439.9,530.7 440.2,531.5 440.5,532.2 440.9,533.0 441.2,533.7 441.5,534.5 441.8,535.2 442.2,536.0 442.5,536.7 442.8,537.5 443.1,538.2 443.5,538.9 443.9,539.7 444.3,540.4 444.8,541.1 445.3,541.8 445.9,542.5 446.4,543.3 446.9,544.0 447.4,544.4 447.9,544.5 448.3,544.4 448.8,543.9 449.2,543.2 449.6,542.5 450.0,541.7 450.3,541.0 450.6,540.2 450.9,539.4 451.0,538.6 451.2,537.8 451.4,537.0 451.6,536.3 451.8,535.5 452.0,534.7 452.1,533.9 452.3,533.1 452.5,532.3 452.7,531.5 452.8,530.7 453.0,529.9 453.2,529.2 453.4,528.4 453.5,527.6 453.7,526.8 453.9,526.0 454.1,525.2 454.2,524.5 454.4,523.7 454.6,522.9 454.8,522.1 454.9,521.3 455.1,520.5 455.3,519.8 455.5,519.0 455.6,518.2 455.8,517.4 455.9,516.6 456.0,515.8 456.1,515.0 456.2,514.2 456.3,513.4 456.4,512.6 456.5,511.8 456.6,511.0 456.6,510.2 456.7,509.4 456.8,508.6 456.9,507.8 457.0,507.0 457.1,506.2 457.2,505.4 457.3,504.6 457.4,503.8 457.6,503.0 457.7,502.2 457.8,501.4 458.0,500.6 458.1,499.8 458.3,499.0 458.4,498.3 458.6,497.5 458.7,496.7 458.9,495.9 459.0,495.1 459.2,494.3 459.3,493.5 459.5,492.7 459.6,491.9 459.8,491.1 459.9,490.3 460.1,489.5 460.2,488.8 460.4,488.0 460.5,487.2 460.7,486.4 460.8,485.6 461.0,484.8 461.1,484.0 461.2,483.2 461.4,482.4 461.5,481.6 461.6,481.2 461.8,480.0" fill="none" stroke="#2323a3" stroke-width="1.8" stroke-linejoin="round" stroke-linecap="round"/>
<polyline points="461.8,480.0 462.2,478.9 462.3,478.5 462.6,477.7 462.9,476.9 463.2,476.2 463.4,475.4 463.7,474.7 464.0,473.9 464.3,473.1 464.6,472.3 464.9,471.6 465.2,470.8 465.6,469.9 466.1,469.1 466.5,468.3 466.8,467.4 467.2,466.6 467.5,465.8 467.8,465.1 468.0,464.3 468.2,463.5 468.5,462.7 468.7,461.9 468.9,461.2 469.1,460.4 469.4,459.6 469.6,458.9 469.8,458.1 470.1,457.3 470.3,456.5 470.5,455.8 470.8,455.0 471.0,454.2 471.3,453.4 471.5,452.6 471.8,451.8 472.1,451.0 472.3,450.2 472.6,449.4 472.9,448.6 473.1,447.9 473.4,447.1 473.6,446.3 473.9,445.5 474.2,444.7 474.5,443.9 474.8,443.1 475.1,442.4 475.5,441.6 475.8,440.9 476.2,440.1 476.6,439.4 477.0,438.6 477.4,437.9 477.7,437.1 478.2,436.4 478.6,435.7 479.2,435.0 479.7,434.4 480.4,433.8 481.0,433.1 481.6,432.5 482.2,431.9 482.8,431.3 483.4,430.7 484.1,430.1 484.7,429.4 485.3,428.9 486.0,428.4 486.7,427.9 487.4,427.6 488.1,427.4 488.8,427.4 489.5,427.6 490.2,427.9 490.8,428.4 491.4,429.0 491.9,429.6 492.3,430.2 492.7,430.9 493.0,431.7 493.2,432.4 493.5,433.2 493.8,434.0 494.1,434.7 494.4,435.5 494.7,436.3 494.9,437.0 495.2,437.8 495.5,438.5 495.8,439.3 496.1,440.1 496.3,440.9 496.6,441.7 496.9,442.4 497.1,443.2 497.4,444.0 497.6,444.8 497.9,445.6 498.2,446.4 498.4,447.1 498.7,447.9 499.0,448.7 499.2,449.5 499.5,450.3 499.7,451.1 500.0,451.8 500.3,452.6 500.5,453.4 500.8,454.2 501.0,455.0 501.3,455.8 501.5,456.6 501.7,457.4 501.9,458.2 502.2,458.9 502.4,459.7 502.6,460.5 502.8,461.3 503.1,462.1 503.3,462.9 503.5,463.7 503.8,464.5 504.0,465.3 504.2,466.1 504.4,466.9 504.7,467.6 504.9,468.4 505.1,469.2 505.3,470.0 505.6,470.8 505.8,471.6 506.0,472.4 506.2,473.2 506.5,474.0 506.7,474.8 506.9,475.6 507.1,476.4 507.3,477.2 507.5,478.0 507.8,478.8 508.0,479.6 508.2,480.4 508.4,481.2 508.6,482.0 508.8,482.8 509.1,483.6 509.3,484.4 509.5,485.2 509.8,486.0 510.0,486.8 510.3,487.6 510.6,488.4 510.8,489.2 511.1,490.0 511.4,490.8 511.6,491.6 511.9,492.4 512.1,493.2 512.4,494.0 512.7,494.8 512.8,495.2 513.2,496.4" fill="none" stroke="#8383d2" stroke-width="1.75" stroke-linejoin="round" stroke-linecap="round"/>
<polyline points="513.2,496.4 513.7,497.6 513.8,497.9 514.1,498.7 514.5,499.5 514.8,500.3 515.1,501.1 515.5,501.8 515.9,502.5 516.4,503.2 517.0,503.9 517.6,504.2 518.3,504.4 519.0,504.3 519.7,503.9 520.4,503.3 521.1,502.7 521.7,502.0 522.2,501.4 522.8,500.8 523.3,500.2 523.9,499.6 524.6,499.0 525.3,498.5 526.0,498.2 526.7,498.2 527.4,498.3 528.0,498.6 528.7,499.0 529.4,499.3 530.2,499.5 530.9,499.4 531.5,499.1 532.1,498.6 532.5,498.0 532.9,497.2 533.2,496.3 533.6,495.5 533.9,494.7 534.2,493.9 534.5,493.1 534.7,492.2 534.9,491.4 535.1,490.6 535.3,489.8 535.5,488.9 535.8,488.1 536.0,487.3 536.2,486.5 536.4,485.6 536.6,484.8 536.8,484.0 536.9,483.2 537.1,482.3 537.2,481.5 537.4,480.7 537.5,479.9 537.6,479.0 537.8,478.2 537.9,477.4 538.0,476.6 538.2,475.7 538.3,474.9 538.5,474.1 538.6,473.2 538.7,472.4 538.9,471.6 539.0,470.8 539.2,469.9 539.3,469.1 539.4,468.3 539.6,467.4 539.7,466.6 539.8,465.8 540.0,465.0 540.1,464.1 540.2,463.3 540.4,462.5 540.5,461.6 540.6,460.8 540.8,460.0 540.9,459.2 541.0,458.3 541.2,457.5 541.3,456.7 541.4,455.9 541.6,455.0 541.8,454.2 541.9,453.4 542.2,452.6 542.4,451.8 542.6,451.0 542.8,450.2 543.1,449.5 543.3,448.7 543.5,447.9 543.7,447.1 543.9,446.7 544.2,445.5" fill="none" stroke="#2323a3" stroke-width="1.8" stroke-linejoin="round" stroke-linecap="round"/>
<polyline points="544.2,445.5 545.1,444.6 545.5,444.3 546.1,443.9 546.9,443.6 547.7,443.6 548.5,443.7 549.5,443.9 550.4,444.0 551.3,444.1 552.2,444.1 553.1,443.9 554.0,443.6 554.8,443.3 555.5,442.9 556.2,442.4 557.0,442.0 557.7,441.5 558.4,441.0 559.0,440.5 559.7,440.0 560.3,439.5 561.0,438.9 561.6,438.4 562.2,437.9 562.9,437.4 563.6,437.1 564.4,436.7 565.2,436.6 565.9,436.6 566.6,436.8 567.2,437.2 567.8,437.7 568.4,438.3 569.0,438.9 569.5,439.5 570.1,440.2 570.6,440.9 571.2,441.7 571.7,442.4 572.2,443.1 572.7,443.8 573.1,444.6 573.4,445.3 573.7,446.1 574.0,446.9 574.3,447.6 574.6,448.4 575.0,449.2 575.3,449.9 575.6,450.7 575.9,451.5 576.2,452.2 576.5,453.0 576.8,453.8 577.1,454.6 577.4,455.3 577.7,456.1 578.0,456.9 578.3,457.6 578.6,458.4 579.0,459.2 579.3,460.0 579.6,460.8 579.9,461.5 580.2,462.3 580.5,463.1 580.8,463.9 581.1,464.6 581.5,465.4 581.8,466.1 582.2,466.9 582.6,467.6 583.1,468.3 583.5,469.0 583.9,469.8 584.3,470.5 584.7,471.2 585.1,471.9 585.6,472.6 586.0,473.4 586.5,474.0 586.9,474.7 587.4,475.4 587.9,476.0 588.4,476.6 588.9,477.2 589.4,477.9 589.9,478.5 590.4,479.1 590.9,479.7 591.1,480.1 591.9,481.0" fill="none" stroke="#8383d2" stroke-width="1.75" stroke-linejoin="round" stroke-linecap="round"/>
<rect x="211.7" y="523.35" width="9.3" height="2.5" fill="#c92a2e"/><rect x="230.7" y="523.35" width="9.3" height="2.5" fill="#c92a2e"/><rect x="249.7" y="523.35" width="9.3" height="2.5" fill="#c92a2e"/><rect x="268.7" y="523.35" width="9.3" height="2.5" fill="#c92a2e"/><rect x="287.7" y="523.35" width="7.2" height="2.5" fill="#c92a2e"/>
<rect x="294.9" y="547.95" width="9.3" height="2.5" fill="#c92a2e"/><rect x="313.9" y="547.95" width="9.3" height="2.5" fill="#c92a2e"/><rect x="332.9" y="547.95" width="9.3" height="2.5" fill="#c92a2e"/><rect x="351.9" y="547.95" width="9.3" height="2.5" fill="#c92a2e"/><rect x="370.9" y="547.95" width="7.2" height="2.5" fill="#c92a2e"/>
<rect x="378.1" y="534.15" width="9.3" height="2.5" fill="#c92a2e"/><rect x="397.1" y="534.15" width="9.3" height="2.5" fill="#c92a2e"/><rect x="416.1" y="534.15" width="9.3" height="2.5" fill="#c92a2e"/><rect x="435.1" y="534.15" width="9.3" height="2.5" fill="#c92a2e"/><rect x="454.1" y="534.15" width="7.4" height="2.5" fill="#c92a2e"/>
<rect x="461.5" y="528.95" width="9.3" height="2.5" fill="#c92a2e"/><rect x="480.5" y="528.95" width="9.3" height="2.5" fill="#c92a2e"/><rect x="499.5" y="528.95" width="9.3" height="2.5" fill="#c92a2e"/><rect x="518.5" y="528.95" width="9.3" height="2.5" fill="#c92a2e"/><rect x="537.5" y="528.95" width="7.6" height="2.5" fill="#c92a2e"/>
<rect x="545.1" y="553.15" width="9.3" height="2.5" fill="#c92a2e"/><rect x="564.1" y="553.15" width="9.3" height="2.5" fill="#c92a2e"/><rect x="583.1" y="553.15" width="8.2" height="2.5" fill="#c92a2e"/>
<polyline points="208.2,562.0 208.2,561.1 208.2,560.8 208.2,560.2 208.2,559.6 208.3,559.0 208.3,558.4 208.3,557.8 208.3,557.2 208.3,556.6 208.3,556.0 208.3,555.3 208.3,554.7 208.4,554.1 208.4,553.5 208.4,552.9 208.4,552.3 208.4,551.7 208.4,551.1 208.4,550.5 208.4,549.9 208.5,549.3 208.5,548.7 208.5,548.1 208.5,547.5 208.5,546.9 208.5,546.3 208.5,545.7 208.5,545.1 208.6,544.5 208.6,543.9 208.6,543.2 208.6,542.6 208.6,542.0 208.6,541.4 208.6,540.8 208.6,540.2 208.7,539.6 208.7,539.0 208.7,538.4 208.7,537.8 208.7,537.2 208.7,536.6 208.7,536.0 208.7,535.4 208.7,534.8 208.8,534.2 208.8,533.6 208.8,533.0 208.8,532.4 208.8,531.8 208.8,531.2 208.8,530.5 208.8,529.9 208.9,529.3 208.9,528.7 208.9,528.1 208.9,527.5 208.9,526.9 208.9,526.3 208.9,525.7 208.9,525.1 209.0,524.5 209.0,523.9 209.0,523.3 209.0,522.7 209.0,522.1 209.0,521.5 209.0,520.9 209.0,520.3 209.1,519.7 209.1,519.1 209.1,518.4 209.1,517.8 209.1,517.2 209.1,516.6 209.1,516.0 209.1,515.4 209.2,514.8 209.2,514.2 209.2,513.6 209.2,513.0 209.2,512.4 209.2,511.8 209.3,511.2 209.3,510.6 209.3,510.0 209.4,509.4 209.4,508.8 209.4,508.2 209.4,507.6 209.5,507.0 209.5,506.4 209.5,505.8 209.6,505.2 209.6,504.6 209.6,504.0 209.7,503.4 209.7,502.8 209.7,502.2 209.7,501.6 209.8,501.0 209.8,500.4 209.8,499.8 209.9,499.1 209.9,498.5 209.9,497.9 210.0,497.3 210.0,496.7 210.0,496.1 210.0,495.5 210.1,494.9 210.1,494.3 210.1,493.7 210.2,493.1 210.2,492.5 210.2,491.9 210.3,491.3 210.3,490.7 210.3,490.1 210.3,489.5 210.4,488.9 210.4,488.3 210.4,487.7 210.5,487.1 210.5,486.5 210.5,485.9 210.5,485.3 210.6,484.7 210.6,484.1 210.6,483.5 210.6,482.9 210.7,482.3 210.7,481.7 210.7,481.1 210.7,480.5 210.8,479.9 210.8,479.3 210.8,478.7 210.8,478.1 210.9,477.5 210.9,476.9 210.9,476.3 210.9,475.7 211.0,475.1 211.0,474.5 211.0,473.9 211.0,473.3 211.1,472.7 211.1,472.1 211.1,471.5 211.1,470.9 211.2,470.3 211.2,469.7 211.2,469.1 211.2,468.5 211.2,467.9 211.3,467.3 211.3,466.7 211.3,466.1 211.3,465.5 211.4,464.9 211.4,464.3 211.4,463.7 211.4,463.1 211.5,462.5 211.5,461.9 211.5,461.3 211.5,460.7 211.6,460.1 211.6,459.5 211.6,458.9 211.6,458.3 211.7,457.7 211.7,457.1 211.7,456.5 211.7,455.9 211.8,455.3 211.8,454.7 211.8,454.1 211.8,453.5 211.9,452.9 211.9,452.3 211.9,451.7 211.9,451.1 212.0,450.5 212.0,449.9 212.0,449.3 212.0,448.7 212.1,448.1 212.1,447.5 212.1,446.9 212.1,446.3 212.2,445.7 212.2,445.1 212.2,444.5 212.2,443.9 212.3,443.3 212.3,442.7 212.3,442.1 212.4,441.5 212.4,440.9 212.4,440.3 212.4,439.7 212.5,439.1 212.5,438.5 212.5,437.9 212.5,437.3 212.6,436.7 212.6,436.1 212.6,435.5 212.7,434.9 212.7,434.3 212.7,433.7 212.7,433.1 212.8,432.5 212.8,431.9 212.8,431.3 212.8,430.6 212.9,430.0 212.9,429.4 212.9,428.8 213.0,428.2 213.0,427.6 213.0,427.0 213.0,426.4 213.1,425.8 213.1,425.2 213.1,424.6 213.2,424.0 213.2,423.4 213.2,422.8 213.2,422.2 213.3,421.6 213.3,421.0 213.3,420.4 213.3,419.8 213.4,419.2 213.4,418.6 213.4,418.0 213.5,417.4 213.5,416.8 213.5,416.2 213.5,415.6 213.6,415.0 213.6,414.4 213.6,413.8 213.6,413.2 213.7,412.6 213.7,412.0 213.8,411.4 213.8,410.8 213.9,410.2 213.9,409.6 214.0,409.0 214.1,408.4 214.1,407.8 214.2,407.2 214.2,406.6 214.3,406.0 214.4,405.4 214.4,404.8 214.5,404.2 214.5,403.6 214.6,403.0 214.7,402.4 214.7,401.8 214.8,401.2 214.9,400.6 214.9,400.0 215.0,399.4 215.0,398.8 215.1,398.2 215.2,397.6 215.2,397.0 215.3,396.4 215.3,395.8 215.4,395.2 215.5,394.6 215.5,394.0 215.6,393.4 215.7,392.8 215.8,392.2 215.9,391.6 216.1,391.0 216.3,390.4 216.5,389.9 216.7,389.3 216.9,388.7 217.1,388.1 217.2,387.5 217.4,386.9 217.6,386.3 217.8,385.8 218.0,385.2 218.2,384.8 218.4,384.7 218.6,384.8 218.8,385.2 218.9,385.8 219.1,386.3 219.3,386.9 219.5,387.5 219.7,388.1 219.9,388.7 220.1,389.2 220.2,389.8 220.4,390.4 220.6,391.0 220.7,391.6 220.8,392.2 221.0,392.8 221.1,393.5 221.2,394.1 221.3,394.7 221.5,395.3 221.6,395.9 221.7,396.5 221.8,397.1 222.0,397.8 222.1,398.4 222.2,399.0 222.3,399.6 222.5,400.2 222.6,400.8 222.7,401.5 222.8,402.1 223.0,402.7 223.1,403.3 223.2,403.9 223.3,404.5 223.5,405.1 223.6,405.7 223.7,406.3 223.8,406.9 223.9,407.5 224.1,408.1 224.2,408.7 224.3,409.3 224.4,409.9 224.5,410.5 224.7,411.1 224.8,411.7 224.9,412.3 225.0,413.0 225.1,413.6 225.2,414.2 225.4,414.8 225.5,415.4 225.6,416.0 225.7,416.6 225.8,417.2 226.0,417.8 226.1,418.4 226.2,419.0 226.3,419.6 226.4,420.2 226.6,420.8 226.7,421.4 226.8,422.0 227.0,422.6 227.1,423.2 227.3,423.8 227.4,424.4 227.6,425.0 227.7,425.6 227.9,426.1 228.0,426.7 228.2,427.3 228.3,427.9 228.5,428.5 228.6,429.1 228.8,429.7 228.9,430.3 229.1,430.9 229.2,431.5 229.4,432.1 229.5,432.7 229.7,433.2 229.8,433.8 230.0,434.4 230.1,435.0 230.3,435.6 230.4,436.2 230.6,436.8 230.7,437.4 230.9,438.0 231.0,438.6 231.2,439.2 231.3,439.8 231.5,440.4 231.6,441.0 231.8,441.6 231.9,442.2 232.1,442.8 232.2,443.4 232.4,444.0 232.5,444.5 232.7,445.1 232.8,445.7 233.0,446.3 233.1,446.9 233.3,447.5 233.4,448.1 233.6,448.7 233.7,449.3 233.9,449.9 234.0,450.5 234.2,451.1 234.3,451.7 234.5,452.3 234.7,452.8 234.9,453.4 235.1,454.0 235.3,454.6 235.5,455.1 235.6,455.7 235.8,456.3 236.0,456.9 236.2,457.4 236.4,458.0 236.6,458.6 236.8,459.1 237.0,459.7 237.2,460.3 237.4,460.9 237.6,461.4 237.8,462.0 238.0,462.6 238.1,463.2 238.3,463.7 238.5,464.3 238.7,464.9 238.9,465.5 239.1,466.0 239.3,466.6 239.5,467.2 239.7,467.7 239.9,468.3 240.1,468.9 240.2,469.5 240.4,470.0 240.6,470.6 240.8,471.2 241.0,471.8 241.2,472.3 241.4,472.9 241.6,473.5 241.8,474.1 241.9,474.6 242.1,475.2 242.3,475.8 242.5,476.3 242.7,476.9 242.9,477.5 243.1,478.1 243.3,478.6 243.4,479.2 243.6,479.8 243.8,480.4 244.0,480.9 244.2,481.5 244.4,482.1 244.6,482.6 244.9,483.2 245.1,483.8 245.3,484.4 245.5,484.9 245.8,485.5 246.0,486.1 246.2,486.7 246.4,487.2 246.6,487.8 246.9,488.4 247.1,489.0 247.3,489.6 247.5,490.1 247.7,490.7 248.0,491.3 248.2,491.9 248.4,492.4 248.6,493.0 248.8,493.6 249.1,494.1 249.3,494.7 249.5,495.3 249.7,495.9 250.0,496.4 250.2,497.0 250.4,497.6 250.7,498.1 250.9,498.7 251.1,499.2 251.4,499.8 251.6,500.3 251.9,500.9 252.1,501.4 252.4,502.0 252.6,502.5 252.9,503.1 253.1,503.6 253.4,504.2 253.6,504.7 253.9,505.3 254.1,505.8 254.4,506.4 254.6,506.9 254.9,507.5 255.1,508.0 255.4,508.6 255.6,509.1 255.9,509.7 256.1,510.2 256.4,510.8 256.6,511.3 256.8,511.9 257.1,512.4 257.3,513.0 257.6,513.6 257.8,514.2 258.1,514.7 258.3,515.3 258.6,515.9 258.8,516.5 259.1,517.0 259.3,517.6 259.6,518.2 259.8,518.8 260.1,519.3 260.3,519.9 260.6,520.5 260.9,521.1 261.2,521.8 261.5,522.4 261.7,523.0 261.9,523.6 262.0,524.2 262.1,524.8 262.1,525.4 262.1,526.0 262.1,526.6 262.1,527.2 262.1,527.8 262.1,528.4 262.1,529.0 262.1,529.6 262.1,530.3 262.1,530.9 262.1,531.5 262.1,532.1 262.1,532.7 262.1,533.3 262.1,533.9 262.1,534.5 262.1,535.1 262.1,535.7 262.1,536.3 262.1,536.9 262.1,537.5 262.1,538.1 262.1,538.7 262.1,539.3 262.1,539.9 262.1,540.5 262.1,541.1 262.1,541.7 262.1,542.3 262.1,542.9 262.1,543.6 262.1,544.2 262.1,544.8 262.1,545.4 262.1,546.0 262.1,546.6 262.1,547.2 262.1,547.8 262.1,548.4 262.1,549.0 262.1,549.6 262.1,550.2 262.1,550.8 262.2,551.4 262.2,552.0 262.2,552.6 262.2,553.2 262.2,553.8 262.2,554.4 262.3,555.0 262.3,555.6 262.3,556.3 262.3,556.9 262.3,557.5 262.3,558.1 262.4,558.7 262.4,559.3 262.4,559.9 262.4,560.5 262.4,561.1 262.4,561.7 262.5,562.3 262.5,562.9 262.5,563.5 262.5,564.1 262.5,564.7 262.5,565.3 262.6,565.9 262.6,566.5 262.6,567.1 262.6,567.7 262.6,568.4 262.6,569.0 262.7,569.6 262.7,570.2 262.7,570.8 262.7,571.4 262.7,572.0 262.7,572.6 262.8,573.2 262.8,573.8 262.8,574.4 262.8,575.0 262.8,575.6 262.9,576.2 262.9,576.8 262.9,577.4 262.9,578.0 262.9,578.7 263.0,579.3 263.0,579.9 263.0,580.5 263.0,581.1 263.0,581.7 263.1,582.3 263.1,582.9 263.1,583.5 263.1,584.1 263.1,584.7 263.2,585.3 263.2,585.9 263.2,586.5 263.2,587.2 263.2,587.8 263.2,588.4 263.3,589.0 263.3,589.6 263.3,590.2 263.3,590.8 263.3,591.4 263.4,592.0 263.4,592.6 263.4,593.2 263.4,593.8 263.4,594.4 263.5,595.0 263.5,595.7 263.5,596.3 263.5,596.9 263.5,597.5 263.6,598.1 263.6,598.7 263.6,599.3 263.6,599.9 263.6,600.5 263.6,601.1 263.6,601.7 263.7,602.3 263.7,602.9 263.7,603.5 263.7,604.1 263.7,604.7 263.7,605.3 263.7,605.9 263.7,606.5 263.8,607.1 263.8,607.7 263.8,608.3 263.8,608.9 263.8,609.5 263.8,610.1 263.8,610.7 263.8,611.3 263.9,612.0 263.9,612.6 263.9,613.2 263.9,613.8 263.9,614.4 263.9,615.0 263.9,615.6 263.9,616.2 264.0,616.8 264.0,617.4 264.0,618.0 264.0,618.6 264.0,619.2 264.0,619.8 264.0,620.4 264.0,621.0 264.1,621.6 264.1,622.2 264.1,622.8 264.1,623.4 264.1,624.0 264.1,624.6 264.2,625.2 264.2,625.8 264.3,626.4 264.3,627.0 264.3,627.6 264.4,628.2 264.4,628.8 264.4,629.4 264.5,630.0 264.5,630.6 264.6,631.2 264.6,631.8 264.6,632.4 264.7,633.0 264.7,633.7 264.8,634.3 264.8,634.9 264.8,635.5 264.9,636.1 264.9,636.7 265.0,637.3 265.0,637.9 265.0,638.5 265.1,639.1 265.1,639.7 265.1,640.3 265.2,640.9 265.2,641.5 265.3,642.1 265.5,642.7 265.7,643.2 265.9,643.8 266.2,644.3 266.6,644.8 266.9,645.3 267.2,645.9 267.5,646.3 268.0,646.7 268.5,646.9 269.0,647.1 269.7,647.3 270.3,647.4 270.9,647.5 271.5,647.6 272.1,647.7 272.8,647.9 273.4,648.0 274.0,648.1 274.6,648.2 275.2,648.3 275.9,648.4 276.5,648.4 277.1,648.5 277.7,648.6 278.3,648.7 278.9,648.8 279.6,648.9 280.2,648.9 280.8,649.0 281.4,649.0 282.0,649.0 282.7,649.0 283.3,649.0 283.9,648.9 284.6,648.9 285.2,648.8 285.9,648.8 286.5,648.7 287.1,648.7 287.6,648.5 288.1,648.3 288.3,647.9 288.5,647.4 288.6,646.8 288.6,646.2 288.7,645.6 288.8,645.0 288.8,644.4 288.9,643.8 289.0,643.2 289.0,642.6 289.1,642.0 289.1,641.4 289.2,640.8 289.3,640.2 289.3,639.6 289.4,639.0 289.4,638.4 289.4,637.8 289.4,637.2 289.4,636.6 289.5,636.0 289.5,635.4 289.5,634.8 289.5,634.1 289.5,633.5 289.5,632.9 289.5,632.3 289.5,631.7 289.5,631.1 289.6,630.5 289.6,629.9 289.6,629.3 289.6,628.7 289.6,628.1 289.6,627.5 289.6,626.9 289.6,626.3 289.6,625.7 289.7,625.0 289.7,624.4 289.7,623.8 289.7,623.2 289.7,622.6 289.7,622.0 289.7,621.4 289.7,620.8 289.7,620.2 289.8,619.6 289.8,619.0 289.8,618.4 289.8,617.8 289.8,617.2 289.8,616.6 289.8,615.9 289.8,615.3 289.8,614.7 289.9,614.1 289.9,613.5 289.9,612.9 289.9,612.3 289.9,611.7 289.9,611.1 289.9,610.5 289.9,609.9 289.9,609.3 289.9,608.7 289.9,608.1 290.0,607.5 290.0,606.9 290.0,606.3 290.0,605.7 290.0,605.1 290.0,604.5 290.0,603.9 290.0,603.3 290.0,602.7 290.0,602.1 290.0,601.5 290.0,600.9 290.1,600.3 290.1,599.7 290.1,599.1 290.1,598.5 290.1,597.9 290.1,597.3 290.1,596.7 290.1,596.1 290.1,595.5 290.1,594.9 290.1,594.3 290.1,593.7 290.1,593.0 290.2,592.4 290.2,591.8 290.2,591.2 290.2,590.6 290.2,590.0 290.2,589.4 290.2,588.8 290.2,588.2 290.2,587.6 290.2,587.0 290.2,586.4 290.2,585.8 290.3,585.2 290.3,584.6 290.3,584.0 290.3,583.4 290.3,582.8 290.3,582.2 290.3,581.6 290.3,581.0 290.3,580.4 290.3,579.8 290.3,579.2 290.3,578.6 290.4,578.0 290.4,577.4 290.4,576.8 290.4,576.2 290.4,575.6 290.4,575.0 290.4,574.4 290.4,573.8 290.4,573.2 290.4,572.6 290.4,572.0 290.4,571.4 290.4,570.8 290.5,570.2 290.5,569.6 290.5,569.0 290.5,568.4 290.5,567.8 290.5,567.2 290.5,566.6 290.5,566.0 290.5,565.4 290.5,564.8 290.5,564.2 290.5,563.6 290.6,563.0 290.6,562.4 290.6,561.8 290.6,561.2 290.6,560.6 290.6,560.0 290.6,559.4 290.6,558.8 290.6,558.2 290.6,557.6 290.6,557.0 290.6,556.4 290.6,555.8 290.7,555.2 290.7,554.6 290.7,554.0 290.7,553.4 290.7,552.8 290.7,552.2 290.7,551.6 290.7,551.0 290.7,550.4 290.7,549.8 290.7,549.2 290.7,548.6 290.8,548.0 290.8,547.4 290.8,546.8 290.8,546.2 290.8,545.6 290.8,545.0 290.8,544.4 290.8,543.8 290.8,543.2 290.8,542.6 290.8,542.0 290.8,541.4 290.9,540.8 290.9,540.2 290.9,539.6 290.9,539.0 290.9,538.4 290.9,537.8 290.9,537.2 290.9,536.6 290.9,536.0 290.9,535.4 290.9,534.8 290.9,534.2 290.9,533.6 291.0,533.0 291.0,532.4 291.0,531.8 291.0,531.2 291.0,530.6 291.0,530.0 291.0,529.4 291.0,528.8 291.0,528.2 291.0,527.6 291.0,527.0 291.0,526.4 291.1,525.8 291.1,525.2 291.1,524.6 291.1,524.0 291.1,523.4 291.1,522.8 291.1,522.2 291.1,521.6 291.1,521.0 291.1,520.4 291.1,519.8 291.1,519.2 291.1,518.6 291.2,518.0 291.2,517.4 291.2,516.8 291.2,516.2 291.2,515.6 291.2,515.0 291.2,514.4 291.2,513.8 291.2,513.2 291.2,512.6 291.2,512.0 291.2,511.4 291.3,510.8 291.3,510.2 291.3,509.6 291.3,509.0 291.3,508.4 291.3,507.8 291.3,507.2 291.3,506.6 291.3,506.0 291.3,505.4 291.3,504.8 291.3,504.2 291.4,503.6 291.4,503.0 291.4,502.4 291.4,501.8 291.4,501.2 291.4,500.6 291.4,500.0 291.4,499.4 291.5,498.8 291.5,498.2 291.5,497.6 291.5,497.0 291.6,496.4 291.6,495.8 291.6,495.2 291.6,494.6 291.7,494.0 291.7,493.3 291.7,492.7 291.7,492.1 291.8,491.5 291.8,490.9 291.8,490.3 291.8,489.7 291.9,489.1 291.9,488.5 291.9,487.9 291.9,487.3 292.0,486.7 292.0,486.1 292.0,485.5 292.0,484.9 292.1,484.3 292.1,483.7 292.1,483.1 292.1,482.5 292.2,481.9 292.2,481.3 292.2,480.7 292.2,480.0 292.3,479.4 292.3,478.8 292.3,478.2 292.3,477.6 292.4,477.0 292.4,476.4 292.4,475.8 292.4,475.2 292.5,474.6 292.5,474.0 292.5,473.4 292.6,472.8 292.6,472.2 292.6,471.6 292.6,471.0 292.7,470.3 292.7,469.7 292.7,469.1 292.8,468.5 292.8,467.9 292.8,467.3 292.9,466.7 292.9,466.1 292.9,465.5 292.9,464.9 293.0,464.3 293.0,463.7 293.0,463.0 293.1,462.4 293.1,461.8 293.1,461.2 293.2,460.6 293.2,460.0 293.2,459.4 293.2,458.8 293.3,458.2 293.3,457.6 293.3,457.0 293.4,456.3 293.4,455.7 293.4,455.1 293.5,454.5 293.5,453.9 293.5,453.3 293.5,452.7 293.6,452.1 293.6,451.5 293.6,450.9 293.7,450.3 293.7,449.6 293.7,449.0 293.8,448.4 293.8,447.8 293.8,447.2 293.8,446.6 293.9,446.0 293.9,445.4 293.9,444.8 294.0,444.2 294.0,443.6 294.0,443.0 294.1,442.3 294.1,441.7 294.1,441.1 294.1,440.5 294.2,439.9 294.2,439.3 294.3,438.7 294.3,438.1 294.4,437.5 294.5,436.9 294.5,436.3 294.6,435.7 294.7,435.1 294.8,434.5 294.8,433.9 294.9,433.3 295.0,432.7 295.0,432.1 295.1,431.5 295.2,430.9 295.2,430.4 295.3,429.8 295.4,429.2 295.4,428.6 295.5,428.0 295.6,427.4 295.6,426.8 295.7,426.2 295.8,425.6 295.9,425.0 295.9,424.4 296.0,423.8 296.1,423.2 296.2,422.6 296.5,422.1 296.9,421.6 297.2,421.3 297.6,421.3 298.0,421.5 298.2,421.9 298.3,422.6 298.5,423.2 298.6,423.8 298.8,424.4 298.9,425.1 299.0,425.7 299.2,426.3 299.3,426.9 299.5,427.5 299.6,428.2 299.7,428.8 299.9,429.4 300.0,430.0 300.1,430.6 300.2,431.2 300.2,431.8 300.3,432.4 300.4,433.0 300.5,433.6 300.6,434.2 300.7,434.8 300.8,435.4 300.8,436.0 300.9,436.6 301.0,437.2 301.1,437.8 301.2,438.4 301.3,439.0 301.4,439.6 301.5,440.2 301.5,440.8 301.6,441.4 301.7,442.0 301.8,442.6 301.9,443.2 302.0,443.8 302.1,444.4 302.1,445.0 302.2,445.6 302.3,446.2 302.4,446.8 302.5,447.4 302.6,448.0 302.7,448.6 302.8,449.2 302.9,449.8 303.0,450.4 303.1,451.0 303.2,451.6 303.3,452.2 303.4,452.8 303.5,453.4 303.6,454.0 303.7,454.6 303.8,455.2 303.9,455.8 304.0,456.4 304.1,457.0 304.2,457.6 304.3,458.3 304.4,458.9 304.5,459.5 304.6,460.1 304.7,460.7 304.8,461.3 304.9,461.9 305.0,462.5 305.1,463.1 305.2,463.7 305.3,464.3 305.4,464.9 305.5,465.5 305.6,466.1 305.7,466.7 305.8,467.3 305.9,467.9 306.0,468.5 306.1,469.1 306.2,469.7 306.4,470.3 306.5,470.9 306.6,471.5 306.8,472.1 306.9,472.7 307.0,473.3 307.1,473.9 307.3,474.5 307.4,475.1 307.5,475.7 307.7,476.3 307.8,476.9 307.9,477.5 308.1,478.1 308.2,478.7 308.3,479.3 308.5,479.9 308.6,480.5 308.7,481.1 308.9,481.7 309.0,482.3 309.1,482.9 309.2,483.5 309.4,484.1 309.5,484.7 309.6,485.3 309.8,485.9 309.9,486.5 310.1,487.1 310.2,487.7 310.3,488.3 310.5,488.9 310.6,489.5 310.8,490.1 310.9,490.7 311.1,491.3 311.2,491.9 311.4,492.5 311.5,493.1 311.7,493.7 311.8,494.2 312.0,494.8 312.1,495.4 312.3,496.0 312.4,496.6 312.6,497.2 312.7,497.8 312.9,498.4 313.0,499.0 313.2,499.6 313.3,500.2 313.5,500.8 313.6,501.4 313.8,502.0 314.0,502.6 314.1,503.2 314.3,503.8 314.5,504.4 314.7,505.0 314.9,505.6 315.0,506.3 315.2,506.9 315.4,507.5 315.6,508.1 315.7,508.7 315.9,509.3 316.1,509.9 316.3,510.5 316.5,511.1 316.7,511.7 316.9,512.3 317.1,512.8 317.3,513.4 317.5,514.0 317.7,514.6 317.9,515.2 318.0,515.8 318.2,516.4 318.4,517.0 318.6,517.6 318.8,518.2 319.0,518.7 319.2,519.3 319.4,519.9 319.6,520.5 319.8,521.1 320.1,521.6 320.3,522.2 320.6,522.8 320.9,523.3 321.2,523.9 321.4,524.4 321.7,525.0 322.0,525.5 322.2,526.0 322.5,526.6 322.8,527.1 323.1,527.7 323.3,528.2 323.6,528.8 323.9,529.4 324.2,529.9 324.4,530.4 324.7,531.0 325.0,531.5 325.4,532.0 325.7,532.5 326.0,533.0 326.4,533.5 326.7,534.0 327.0,534.5 327.4,535.0 327.7,535.5 328.0,536.0 328.4,536.5 328.7,537.0 329.0,537.5 329.4,538.0 329.8,538.5 330.2,538.9 330.6,539.4 331.1,539.8 331.5,540.3 332.0,540.7 332.4,541.2 332.9,541.6 333.3,542.1 333.8,542.5 334.3,542.9 334.8,543.3 335.3,543.7 335.8,544.1 336.3,544.4 336.9,544.7 337.4,545.1 338.0,545.4 338.5,545.7 339.1,546.0 339.6,546.3 340.2,546.5 340.8,546.6 341.4,546.8 342.1,546.9 342.6,547.1 343.1,547.4 343.4,547.8 343.7,548.4 343.9,549.0 344.2,549.6 344.3,550.3 344.5,550.9 344.6,551.5 344.6,552.1 344.7,552.7 344.7,553.3 344.7,553.9 344.7,554.5 344.7,555.1 344.7,555.7 344.8,556.3 344.8,556.9 344.8,557.5 344.8,558.1 344.8,558.7 344.9,559.3 344.9,559.9 344.9,560.5 344.9,561.1 344.9,561.7 344.9,562.3 345.0,563.0 345.0,563.6 345.0,564.2 345.0,564.8 345.0,565.4 345.0,566.0 345.1,566.6 345.1,567.2 345.1,567.8 345.1,568.4 345.1,569.0 345.2,569.6 345.2,570.2 345.2,570.8 345.2,571.4 345.2,572.0 345.2,572.6 345.3,573.2 345.3,573.8 345.3,574.4 345.3,575.0 345.3,575.6 345.4,576.2 345.4,576.8 345.4,577.4 345.4,578.0 345.4,578.7 345.5,579.3 345.5,579.9 345.5,580.5 345.5,581.1 345.5,581.7 345.6,582.3 345.6,582.9 345.6,583.5 345.6,584.1 345.6,584.7 345.7,585.3 345.7,585.9 345.7,586.5 345.7,587.2 345.7,587.8 345.7,588.4 345.8,589.0 345.8,589.6 345.8,590.2 345.8,590.8 345.8,591.4 345.9,592.0 345.9,592.6 345.9,593.2 345.9,593.8 345.9,594.4 346.0,595.0 346.0,595.7 346.0,596.3 346.0,596.9 346.0,597.5 346.1,598.1 346.1,598.7 346.1,599.3 346.1,599.9 346.1,600.5 346.2,601.1 346.2,601.7 346.2,602.3 346.2,602.9 346.3,603.5 346.3,604.1 346.3,604.7 346.3,605.3 346.4,605.9 346.4,606.5 346.4,607.1 346.4,607.7 346.5,608.3 346.5,608.9 346.5,609.5 346.5,610.1 346.6,610.7 346.6,611.3 346.6,612.0 346.6,612.6 346.7,613.2 346.7,613.8 346.7,614.4 346.7,615.0 346.8,615.6 346.8,616.2 346.8,616.8 346.8,617.4 346.9,618.0 346.9,618.6 346.9,619.2 346.9,619.8 347.0,620.4 347.0,621.0 347.0,621.6 347.0,622.2 347.1,622.8 347.1,623.4 347.1,624.0 347.2,624.6 347.2,625.2 347.3,625.8 347.4,626.4 347.5,627.0 347.5,627.6 347.6,628.2 347.7,628.8 347.8,629.4 347.8,630.0 347.9,630.6 348.0,631.1 348.1,631.7 348.1,632.3 348.2,632.9 348.3,633.5 348.4,634.1 348.4,634.7 348.5,635.3 348.6,635.9 348.7,636.5 348.8,637.1 349.0,637.7 349.2,638.2 349.5,638.8 349.9,639.4 350.2,639.9 350.6,640.5 350.9,641.0 351.3,641.6 351.7,642.0 352.2,642.4 352.7,642.6 353.2,642.8 353.9,642.9 354.5,642.9 355.1,643.0 355.7,643.0 356.3,643.0 357.0,643.1 357.6,643.1 358.2,643.1 358.8,643.1 359.4,643.0 360.1,643.0 360.7,642.9 361.3,642.8 361.9,642.7 362.5,642.6 363.2,642.6 363.8,642.5 364.4,642.4 365.0,642.3 365.7,642.1 366.3,642.0 366.9,641.9 367.6,641.7 368.2,641.6 368.9,641.4 369.5,641.3 370.1,641.2 370.6,640.9 371.0,640.6 371.3,640.2 371.5,639.7 371.5,639.1 371.5,638.5 371.6,637.9 371.6,637.3 371.6,636.7 371.7,636.1 371.7,635.5 371.8,634.9 371.8,634.3 371.8,633.7 371.9,633.1 371.9,632.5 371.9,631.8 372.0,631.2 372.0,630.6 372.0,630.0 372.1,629.4 372.1,628.8 372.1,628.2 372.2,627.6 372.2,627.0 372.3,626.4 372.3,625.8 372.3,625.2 372.4,624.6 372.4,624.0 372.4,623.4 372.4,622.8 372.4,622.2 372.4,621.6 372.5,621.0 372.5,620.4 372.5,619.8 372.5,619.2 372.5,618.6 372.5,618.0 372.5,617.4 372.5,616.8 372.5,616.2 372.6,615.6 372.6,615.0 372.6,614.4 372.6,613.8 372.6,613.2 372.6,612.6 372.6,612.0 372.6,611.4 372.6,610.8 372.7,610.2 372.7,609.6 372.7,609.0 372.7,608.4 372.7,607.8 372.7,607.2 372.7,606.6 372.7,606.0 372.8,605.4 372.8,604.8 372.8,604.2 372.8,603.6 372.8,603.0 372.8,602.4 372.8,601.8 372.8,601.2 372.8,600.6 372.9,600.0 372.9,599.4 372.9,598.8 372.9,598.2 372.9,597.6 372.9,597.0 372.9,596.4 372.9,595.8 372.9,595.2 373.0,594.6 373.0,594.0 373.0,593.4 373.0,592.8 373.0,592.2 373.0,591.6 373.0,591.0 373.0,590.4 373.0,589.8 373.1,589.2 373.1,588.6 373.1,588.0 373.1,587.4 373.1,586.8 373.1,586.2 373.1,585.6 373.1,585.0 373.2,584.4 373.2,583.8 373.2,583.2 373.2,582.6 373.2,582.0 373.2,581.4 373.2,580.8 373.2,580.2 373.3,579.6 373.3,579.0 373.3,578.4 373.3,577.8 373.3,577.2 373.3,576.6 373.3,576.0 373.3,575.4 373.4,574.8 373.4,574.2 373.4,573.6 373.4,573.0 373.4,572.4 373.4,571.8 373.4,571.2 373.4,570.6 373.5,570.0 373.5,569.4 373.5,568.8 373.5,568.2 373.5,567.6 373.5,567.0 373.5,566.4 373.6,565.8 373.6,565.2 373.6,564.6 373.6,564.0 373.6,563.4 373.6,562.8 373.6,562.2 373.6,561.6 373.7,561.0 373.7,560.4 373.7,559.8 373.7,559.2 373.7,558.6 373.7,558.0 373.7,557.4 373.7,556.8 373.8,556.2 373.8,555.6 373.8,555.0 373.8,554.4 373.8,553.8 373.8,553.2 373.8,552.6 373.8,552.0 373.9,551.4 373.9,550.8 373.9,550.2 373.9,549.6 373.9,549.0 373.9,548.4 373.9,547.8 373.9,547.2 374.0,546.6 374.0,546.0 374.0,545.4 374.0,544.8 374.0,544.2 374.0,543.6 374.0,542.9 374.0,542.3 374.1,541.7 374.1,541.1 374.1,540.5 374.1,539.9 374.1,539.3 374.1,538.7 374.1,538.1 374.1,537.5 374.2,536.9 374.2,536.3 374.2,535.7 374.2,535.1 374.2,534.5 374.2,533.9 374.2,533.3 374.2,532.7 374.3,532.1 374.3,531.5 374.3,530.8 374.3,530.2 374.3,529.6 374.3,529.0 374.3,528.4 374.3,527.8 374.4,527.2 374.4,526.6 374.4,526.0 374.4,525.4 374.4,524.8 374.4,524.2 374.4,523.6 374.4,523.0 374.4,522.4 374.4,521.8 374.4,521.2 374.4,520.6 374.4,520.0 374.4,519.4 374.4,518.8 374.4,518.2 374.4,517.6 374.4,517.0 374.4,516.4 374.4,515.8 374.4,515.2 374.4,514.6 374.4,514.0 374.4,513.4 374.4,512.8 374.4,512.2 374.4,511.5 374.4,510.9 374.4,510.3 374.4,509.7 374.4,509.1 374.4,508.5 374.4,507.9 374.4,507.3 374.4,506.7 374.4,506.1 374.4,505.5 374.4,504.9 374.4,504.3 374.4,503.7 374.4,503.1 374.4,502.5 374.4,501.9 374.4,501.3 374.4,500.7 374.4,500.1 374.4,499.5 374.4,498.9 374.4,498.3 374.4,497.7 374.5,497.1 374.5,496.5 374.5,495.9 374.5,495.3 374.6,494.6 374.6,494.0 374.6,493.4 374.6,492.8 374.7,492.2 374.7,491.6 374.7,491.0 374.7,490.4 374.8,489.8 374.8,489.2 374.8,488.6 374.8,488.0 374.9,487.3 374.9,486.7 374.9,486.1 374.9,485.5 375.0,484.9 375.0,484.3 375.0,483.7 375.0,483.1 375.1,482.5 375.1,481.9 375.1,481.3 375.1,480.7 375.2,480.0 375.2,479.4 375.2,478.8 375.2,478.2 375.3,477.6 375.3,477.0 375.3,476.4 375.3,475.8 375.4,475.2 375.4,474.6 375.4,474.0 375.4,473.4 375.5,472.7 375.5,472.1 375.5,471.5 375.5,470.9 375.6,470.3 375.6,469.7 375.6,469.1 375.6,468.5 375.7,467.9 375.7,467.3 375.7,466.7 375.7,466.1 375.8,465.5 375.8,464.9 375.8,464.3 375.9,463.7 375.9,463.1 375.9,462.4 376.0,461.8 376.0,461.2 376.0,460.6 376.0,460.0 376.1,459.4 376.1,458.8 376.1,458.2 376.2,457.6 376.2,457.0 376.2,456.4 376.2,455.8 376.3,455.2 376.3,454.6 376.3,454.0 376.4,453.4 376.4,452.8 376.4,452.2 376.4,451.6 376.5,451.0 376.5,450.3 376.5,449.7 376.6,449.1 376.6,448.5 376.6,447.9 376.7,447.3 376.7,446.7 376.7,446.1 376.7,445.5 376.8,444.9 376.8,444.3 376.9,443.7 376.9,443.1 377.0,442.4 377.1,441.8 377.1,441.2 377.2,440.6 377.3,440.0 377.3,439.3 377.4,438.7 377.4,438.1 377.5,437.5 377.6,436.9 377.6,436.2 377.7,435.6 377.8,435.0 377.8,434.4 377.9,433.8 378.0,433.1 378.1,432.5 378.4,431.9 378.7,431.5 379.0,431.4 379.3,431.5 379.5,431.8 379.6,432.5 379.7,433.1 379.8,433.7 379.9,434.3 380.0,435.0 380.1,435.6 380.2,436.2 380.3,436.8 380.4,437.4 380.5,438.1 380.6,438.7 380.7,439.3 380.8,439.9 380.9,440.6 381.0,441.2 381.1,441.8 381.2,442.4 381.2,443.0 381.3,443.6 381.4,444.2 381.4,444.8 381.5,445.4 381.6,446.0 381.6,446.6 381.7,447.2 381.8,447.8 381.8,448.4 381.9,449.0 382.0,449.6 382.0,450.2 382.1,450.8 382.1,451.4 382.2,452.0 382.3,452.6 382.3,453.2 382.4,453.8 382.5,454.4 382.5,455.0 382.6,455.6 382.7,456.2 382.7,456.8 382.8,457.4 382.9,458.0 382.9,458.6 383.0,459.2 383.1,459.8 383.2,460.4 383.2,461.0 383.3,461.6 383.4,462.2 383.5,462.8 383.5,463.4 383.6,464.0 383.7,464.6 383.8,465.2 383.8,465.8 383.9,466.4 384.0,467.0 384.1,467.6 384.1,468.2 384.2,468.8 384.3,469.4 384.4,470.0 384.4,470.6 384.5,471.2 384.6,471.8 384.7,472.4 384.7,473.0 384.8,473.6 384.9,474.2 385.0,474.8 385.0,475.4 385.1,476.0 385.2,476.6 385.3,477.2 385.3,477.8 385.4,478.4 385.5,479.0 385.6,479.6 385.7,480.2 385.8,480.8 385.8,481.4 385.9,482.0 386.0,482.6 386.1,483.2 386.2,483.8 386.3,484.4 386.4,485.0 386.4,485.6 386.5,486.2 386.6,486.8 386.7,487.4 386.8,488.0 386.9,488.6 387.0,489.2 387.1,489.8 387.1,490.4 387.2,491.0 387.3,491.6 387.4,492.2 387.5,492.8 387.6,493.4 387.7,494.0 387.7,494.6 387.8,495.2 387.9,495.8 388.0,496.4 388.1,497.0 388.3,497.6 388.4,498.2 388.5,498.8 388.7,499.4 388.8,500.0 389.0,500.5 389.1,501.1 389.2,501.7 389.4,502.3 389.5,502.9 389.6,503.5 389.8,504.1 389.9,504.7 390.1,505.3 390.2,505.9 390.3,506.5 390.5,507.1 390.6,507.7 390.7,508.3 390.9,508.8 391.0,509.4 391.2,510.0 391.3,510.6 391.4,511.2 391.6,511.8 391.7,512.4 391.9,513.0 392.1,513.6 392.2,514.2 392.4,514.8 392.6,515.4 392.8,515.9 393.0,516.5 393.1,517.1 393.3,517.7 393.5,518.3 393.7,518.9 393.9,519.5 394.1,520.1 394.2,520.7 394.4,521.3 394.6,521.8 394.8,522.4 395.0,523.0 395.1,523.6 395.3,524.2 395.5,524.8 395.7,525.4 395.9,525.9 396.2,526.5 396.4,527.1 396.6,527.6 396.8,528.2 397.1,528.7 397.3,529.3 397.5,529.9 397.7,530.4 397.9,531.0 398.2,531.6 398.4,532.1 398.6,532.7 398.8,533.3 399.1,533.8 399.3,534.4 399.5,534.9 399.7,535.5 400.0,536.1 400.2,536.6 400.5,537.2 400.8,537.7 401.1,538.2 401.4,538.7 401.7,539.2 402.1,539.7 402.4,540.2 402.7,540.7 403.1,541.2 403.4,541.7 403.7,542.2 404.1,542.7 404.4,543.2 404.7,543.7 405.1,544.2 405.4,544.7 405.8,545.1 406.2,545.6 406.6,546.0 407.0,546.5 407.4,547.0 407.9,547.4 408.3,547.9 408.7,548.3 409.1,548.8 409.5,549.2 409.9,549.6 410.4,550.0 410.9,550.4 411.4,550.8 412.0,551.2 412.5,551.5 413.1,551.9 413.6,552.2 414.2,552.6 414.8,552.9 415.3,553.2 415.9,553.5 416.5,553.7 417.2,553.9 417.8,554.1 418.4,554.3 419.0,554.5 419.6,554.7 420.3,554.9 420.9,555.1 421.5,555.2 422.1,555.3 422.8,555.4 423.4,555.5 424.0,555.5 424.6,555.6 425.2,555.7 425.8,555.8 426.2,556.1 426.4,556.5 426.6,557.0 426.6,557.7 426.7,558.3 426.8,558.9 426.8,559.5 426.9,560.1 426.9,560.8 426.9,561.4 427.0,562.0 427.1,562.6 427.1,563.3 427.1,563.9 427.2,564.5 427.2,565.1 427.2,565.7 427.3,566.3 427.3,566.9 427.3,567.5 427.3,568.1 427.4,568.7 427.4,569.3 427.4,569.9 427.4,570.5 427.4,571.1 427.5,571.7 427.5,572.3 427.5,572.9 427.5,573.5 427.5,574.1 427.6,574.7 427.6,575.3 427.6,576.0 427.6,576.6 427.7,577.2 427.7,577.8 427.7,578.4 427.7,579.0 427.7,579.6 427.8,580.2 427.8,580.8 427.8,581.4 427.8,582.0 427.8,582.6 427.9,583.2 427.9,583.8 427.9,584.4 427.9,585.0 428.0,585.6 428.0,586.2 428.0,586.8 428.0,587.4 428.0,588.0 428.1,588.6 428.1,589.2 428.1,589.8 428.1,590.4 428.2,591.1 428.2,591.7 428.2,592.3 428.2,592.9 428.3,593.5 428.3,594.1 428.3,594.7 428.3,595.3 428.4,595.9 428.4,596.5 428.4,597.1 428.4,597.7 428.5,598.3 428.5,598.9 428.5,599.6 428.5,600.2 428.6,600.8 428.6,601.4 428.6,602.0 428.6,602.6 428.7,603.2 428.7,603.8 428.7,604.4 428.7,605.0 428.8,605.6 428.8,606.2 428.8,606.8 428.8,607.4 428.9,608.1 428.9,608.7 428.9,609.3 428.9,609.9 429.0,610.5 429.0,611.1 429.0,611.7 429.1,612.3 429.1,612.9 429.1,613.6 429.2,614.2 429.2,614.8 429.3,615.4 429.4,616.0 429.4,616.7 429.4,617.3 429.5,617.9 429.6,618.5 429.6,619.1 429.6,619.8 429.7,620.4 429.8,621.0 429.8,621.6 429.9,622.3 429.9,622.9 429.9,623.5 430.0,624.1 430.1,624.7 430.1,625.4 430.2,626.0 430.3,626.6 430.5,627.2 430.7,627.7 430.9,628.3 431.1,628.9 431.3,629.4 431.6,630.0 431.8,630.5 432.0,631.1 432.2,631.7 432.5,632.2 432.9,632.6 433.3,633.0 433.8,633.3 434.3,633.6 434.9,633.9 435.4,634.1 436.0,634.4 436.5,634.7 437.1,634.9 437.6,635.0 438.2,635.1 438.8,635.1 439.5,635.0 440.1,635.0 440.7,635.0 441.3,634.9 441.9,634.9 442.6,634.8 443.2,634.7 443.8,634.6 444.4,634.5 445.0,634.4 445.7,634.3 446.3,634.1 446.9,634.0 447.5,633.9 448.1,633.7 448.8,633.6 449.4,633.4 450.0,633.2 450.5,633.0 451.1,632.8 451.6,632.5 452.2,632.3 452.7,632.0 453.2,631.7 453.5,631.3 453.7,630.8 453.8,630.3 453.9,629.7 453.9,629.1 453.9,628.5 453.9,627.9 453.9,627.3 454.0,626.7 454.0,626.1 454.0,625.5 454.0,624.9 454.1,624.3 454.1,623.7 454.1,623.1 454.1,622.5 454.1,621.9 454.2,621.3 454.2,620.7 454.2,620.1 454.2,619.5 454.2,618.9 454.3,618.3 454.3,617.7 454.3,617.1 454.3,616.5 454.4,615.9 454.4,615.3 454.4,614.7 454.4,614.1 454.4,613.5 454.5,612.9 454.5,612.3 454.5,611.7 454.5,611.1 454.5,610.5 454.5,609.9 454.6,609.3 454.6,608.7 454.6,608.1 454.6,607.5 454.6,606.9 454.6,606.3 454.6,605.7 454.6,605.1 454.7,604.5 454.7,603.9 454.7,603.3 454.7,602.7 454.7,602.1 454.7,601.5 454.7,600.9 454.7,600.3 454.8,599.7 454.8,599.1 454.8,598.5 454.8,597.9 454.8,597.3 454.8,596.7 454.8,596.1 454.8,595.5 454.9,594.9 454.9,594.3 454.9,593.7 454.9,593.0 454.9,592.4 454.9,591.8 454.9,591.2 455.0,590.6 455.0,590.0 455.0,589.4 455.0,588.8 455.0,588.2 455.0,587.6 455.0,587.0 455.0,586.4 455.1,585.8 455.1,585.2 455.1,584.6 455.1,584.0 455.1,583.4 455.1,582.8 455.1,582.2 455.1,581.6 455.2,581.0 455.2,580.4 455.2,579.8 455.2,579.2 455.2,578.6 455.2,578.0 455.2,577.4 455.2,576.8 455.3,576.2 455.3,575.6 455.3,575.0 455.3,574.4 455.3,573.8 455.3,573.2 455.3,572.6 455.3,572.0 455.3,571.4 455.3,570.8 455.4,570.2 455.4,569.6 455.4,569.0 455.4,568.4 455.4,567.8 455.4,567.2 455.4,566.6 455.4,566.0 455.4,565.4 455.4,564.8 455.4,564.2 455.4,563.6 455.5,563.0 455.5,562.4 455.5,561.8 455.5,561.2 455.5,560.6 455.5,560.0 455.5,559.4 455.5,558.8 455.5,558.2 455.5,557.6 455.5,557.0 455.5,556.4 455.6,555.8 455.6,555.2 455.6,554.6 455.6,554.0 455.6,553.4 455.6,552.8 455.6,552.2 455.6,551.6 455.6,551.0 455.6,550.4 455.6,549.8 455.6,549.2 455.6,548.6 455.7,548.0 455.7,547.4 455.7,546.8 455.7,546.2 455.7,545.6 455.7,545.0 455.7,544.4 455.7,543.8 455.7,543.2 455.7,542.6 455.7,542.0 455.7,541.4 455.8,540.8 455.8,540.2 455.8,539.6 455.8,539.0 455.8,538.4 455.8,537.8 455.8,537.2 455.8,536.6 455.8,536.0 455.8,535.4 455.8,534.8 455.8,534.2 455.8,533.6 455.8,532.9 455.8,532.3 455.8,531.7 455.8,531.1 455.9,530.5 455.9,529.9 455.9,529.3 455.9,528.7 455.9,528.1 455.9,527.5 455.9,526.9 455.9,526.3 455.9,525.6 455.9,525.0 455.9,524.4 455.9,523.8 455.9,523.2 455.9,522.6 455.9,522.0 455.9,521.4 455.9,520.8 455.9,520.2 455.9,519.6 455.9,519.0 455.9,518.4 456.0,517.7 456.0,517.1 456.0,516.5 456.0,515.9 456.0,515.3 456.0,514.7 456.0,514.1 456.0,513.5 456.0,512.9 456.0,512.3 456.0,511.7 456.0,511.1 456.0,510.5 456.0,509.8 456.0,509.2 456.0,508.6 456.0,508.0 456.0,507.4 456.0,506.8 456.0,506.2 456.0,505.6 456.1,505.0 456.1,504.4 456.1,503.8 456.1,503.2 456.1,502.5 456.1,501.9 456.1,501.3 456.1,500.7 456.1,500.1 456.1,499.5 456.1,498.9 456.1,498.3 456.2,497.7 456.2,497.1 456.2,496.5 456.2,495.9 456.3,495.3 456.3,494.6 456.3,494.0 456.3,493.4 456.4,492.8 456.4,492.2 456.4,491.6 456.4,491.0 456.5,490.4 456.5,489.8 456.5,489.2 456.6,488.6 456.6,488.0 456.6,487.3 456.6,486.7 456.7,486.1 456.7,485.5 456.7,484.9 456.7,484.3 456.8,483.7 456.8,483.1 456.8,482.5 456.8,481.9 456.9,481.3 456.9,480.7 456.9,480.0 456.9,479.4 457.0,478.8 457.0,478.2 457.0,477.6 457.1,477.0 457.1,476.4 457.1,475.8 457.1,475.2 457.2,474.6 457.2,474.0 457.2,473.4 457.2,472.7 457.3,472.1 457.3,471.5 457.3,470.9 457.3,470.3 457.4,469.7 457.4,469.1 457.4,468.5 457.5,467.9 457.5,467.3 457.5,466.7 457.6,466.1 457.6,465.5 457.7,464.9 457.7,464.3 457.7,463.7 457.8,463.1 457.8,462.4 457.8,461.8 457.9,461.2 457.9,460.6 457.9,460.0 458.0,459.4 458.0,458.8 458.1,458.2 458.1,457.6 458.1,457.0 458.2,456.4 458.2,455.8 458.2,455.2 458.3,454.6 458.3,454.0 458.4,453.4 458.4,452.8 458.4,452.2 458.5,451.6 458.5,451.0 458.5,450.3 458.6,449.7 458.6,449.1 458.6,448.5 458.7,447.9 458.7,447.3 458.8,446.7 458.8,446.1 458.8,445.5 458.9,444.9 458.9,444.3 459.0,443.7 459.1,443.1 459.1,442.5 459.2,441.9 459.3,441.3 459.4,440.7 459.4,440.0 459.5,439.4 459.6,438.8 459.7,438.2 459.7,437.6 459.9,437.2 460.1,437.1 460.4,437.2 460.8,437.5 461.1,438.1 461.3,438.7 461.4,439.3 461.5,439.9 461.6,440.5 461.6,441.1 461.7,441.7 461.8,442.3 461.8,442.9 461.9,443.5 462.0,444.1 462.0,444.7 462.1,445.3 462.2,445.9 462.2,446.4 462.3,447.0 462.4,447.6 462.4,448.2 462.5,448.8 462.6,449.4 462.6,450.0 462.7,450.6 462.8,451.2 462.8,451.8 462.9,452.4 463.0,453.0 463.0,453.6 463.1,454.2 463.2,454.8 463.2,455.4 463.3,456.0 463.4,456.6 463.4,457.2 463.5,457.8 463.6,458.4 463.6,459.0 463.7,459.6 463.8,460.2 463.8,460.8 463.9,461.4 464.0,462.0 464.0,462.6 464.1,463.2 464.2,463.8 464.2,464.5 464.3,465.1 464.4,465.7 464.4,466.3 464.5,466.9 464.6,467.5 464.6,468.1 464.7,468.7 464.8,469.3 464.8,469.9 464.9,470.5 465.0,471.1 465.0,471.7 465.1,472.3 465.2,472.9 465.2,473.5 465.3,474.1 465.4,474.7 465.5,475.3 465.5,475.9 465.6,476.5 465.7,477.1 465.8,477.7 465.8,478.3 465.9,478.9 466.0,479.5 466.1,480.1 466.1,480.7 466.2,481.3 466.3,481.9 466.4,482.5 466.4,483.1 466.5,483.7 466.6,484.3 466.7,484.9 466.7,485.5 466.8,486.1 466.9,486.7 467.0,487.3 467.0,487.9 467.1,488.5 467.2,489.1 467.3,489.7 467.3,490.3 467.4,490.9 467.5,491.5 467.6,492.1 467.6,492.7 467.7,493.3 467.8,493.9 467.9,494.5 468.0,495.1 468.1,495.7 468.2,496.3 468.3,496.9 468.4,497.5 468.5,498.1 468.6,498.7 468.7,499.3 468.8,499.9 468.9,500.5 469.0,501.1 469.1,501.7 469.2,502.3 469.3,502.9 469.5,503.4 469.6,504.0 469.7,504.6 469.8,505.2 469.9,505.8 470.0,506.4 470.1,507.0 470.2,507.6 470.3,508.2 470.4,508.8 470.5,509.4 470.6,510.0 470.7,510.6 470.8,511.2 470.9,511.8 471.0,512.4 471.2,513.0 471.3,513.6 471.4,514.2 471.6,514.8 471.7,515.4 471.9,516.0 472.0,516.6 472.2,517.2 472.3,517.8 472.5,518.4 472.6,519.0 472.8,519.6 472.9,520.1 473.1,520.7 473.2,521.3 473.4,521.9 473.5,522.5 473.7,523.1 473.8,523.7 474.0,524.3 474.1,524.9 474.3,525.5 474.4,526.1 474.6,526.7 474.7,527.3 474.9,527.9 475.2,528.4 475.4,529.0 475.6,529.6 475.8,530.1 476.1,530.7 476.3,531.2 476.5,531.8 476.7,532.4 477.0,532.9 477.2,533.5 477.4,534.1 477.7,534.6 477.9,535.2 478.1,535.8 478.3,536.3 478.6,536.9 478.8,537.4 479.0,538.0 479.2,538.6 479.5,539.1 479.8,539.7 480.0,540.2 480.4,540.7 480.7,541.3 481.0,541.8 481.3,542.3 481.7,542.8 482.0,543.3 482.3,543.9 482.6,544.4 483.0,544.9 483.3,545.4 483.6,546.0 483.9,546.5 484.3,547.0 484.6,547.5 484.9,548.0 485.2,548.6 485.6,549.1 486.0,549.5 486.4,550.0 486.9,550.4 487.3,550.9 487.8,551.3 488.3,551.7 488.8,552.1 489.2,552.6 489.7,553.0 490.2,553.4 490.7,553.8 491.1,554.3 491.6,554.6 492.2,555.0 492.7,555.3 493.3,555.6 493.8,555.9 494.4,556.2 495.0,556.4 495.6,556.7 496.1,557.0 496.7,557.3 497.3,557.5 497.9,557.8 498.4,558.1 499.0,558.3 499.6,558.5 500.2,558.7 500.8,558.8 501.5,558.9 502.1,559.0 502.7,559.1 503.3,559.2 503.9,559.3 504.6,559.4 505.2,559.5 505.8,559.5 506.4,559.6 507.1,559.6 507.7,559.6 508.2,559.7 508.7,560.0 508.9,560.3 509.1,560.8 509.2,561.5 509.2,562.1 509.3,562.7 509.4,563.3 509.4,563.9 509.5,564.5 509.6,565.2 509.6,565.8 509.7,566.4 509.8,567.0 509.8,567.6 509.9,568.3 509.9,568.9 510.0,569.5 510.0,570.1 510.0,570.7 510.1,571.3 510.1,571.9 510.1,572.5 510.1,573.1 510.2,573.7 510.2,574.3 510.2,574.9 510.2,575.5 510.3,576.2 510.3,576.8 510.3,577.4 510.3,578.0 510.4,578.6 510.4,579.2 510.4,579.8 510.4,580.4 510.5,581.0 510.5,581.6 510.5,582.2 510.5,582.8 510.6,583.4 510.6,584.0 510.6,584.6 510.6,585.2 510.7,585.8 510.7,586.4 510.7,587.0 510.7,587.6 510.8,588.3 510.8,588.9 510.8,589.5 510.8,590.1 510.9,590.7 510.9,591.3 510.9,591.9 510.9,592.5 511.0,593.1 511.0,593.7 511.0,594.3 511.0,594.9 511.1,595.5 511.1,596.1 511.2,596.7 511.2,597.3 511.2,597.9 511.3,598.5 511.3,599.1 511.4,599.7 511.4,600.3 511.4,600.9 511.5,601.5 511.5,602.1 511.6,602.7 511.6,603.3 511.6,603.9 511.7,604.5 511.7,605.1 511.8,605.8 511.8,606.4 511.9,607.0 511.9,607.6 511.9,608.2 512.0,608.8 512.0,609.4 512.1,610.0 512.1,610.6 512.1,611.2 512.2,611.8 512.2,612.4 512.3,613.0 512.3,613.6 512.3,614.2 512.4,614.8 512.4,615.4 512.5,616.0 512.5,616.6 512.6,617.2 512.7,617.9 512.9,618.5 513.0,619.1 513.1,619.7 513.2,620.4 513.3,621.0 513.5,621.6 513.6,622.2 513.7,622.9 513.8,623.5 513.9,624.1 514.0,624.7 514.2,625.4 514.3,625.9 514.6,626.5 514.9,627.0 515.2,627.5 515.7,628.0 516.1,628.5 516.5,628.9 516.9,629.4 517.4,629.9 517.8,630.3 518.3,630.6 518.9,630.8 519.4,630.9 520.1,631.0 520.7,631.1 521.3,631.1 521.9,631.2 522.5,631.3 523.2,631.4 523.8,631.4 524.4,631.4 525.0,631.3 525.6,631.2 526.3,631.0 526.9,630.9 527.5,630.8 528.1,630.6 528.7,630.5 529.4,630.3 530.0,630.2 530.6,630.0 531.2,629.9 531.9,629.8 532.5,629.7 533.1,629.6 533.8,629.4 534.4,629.3 535.0,629.2 535.5,629.0 535.9,628.7 536.2,628.3 536.4,627.8 536.4,627.1 536.4,626.5 536.5,625.9 536.5,625.3 536.5,624.7 536.6,624.1 536.6,623.4 536.7,622.8 536.7,622.2 536.7,621.6 536.8,621.0 536.8,620.4 536.8,619.7 536.9,619.1 536.9,618.5 536.9,617.9 537.0,617.3 537.0,616.6 537.0,616.0 537.1,615.4 537.1,614.8 537.2,614.2 537.2,613.6 537.2,612.9 537.3,612.3 537.3,611.7 537.3,611.1 537.3,610.5 537.3,609.9 537.3,609.3 537.4,608.7 537.4,608.1 537.4,607.5 537.4,606.9 537.4,606.3 537.4,605.7 537.4,605.1 537.4,604.5 537.4,603.9 537.5,603.3 537.5,602.7 537.5,602.1 537.5,601.5 537.5,600.9 537.5,600.3 537.5,599.7 537.5,599.1 537.5,598.5 537.6,597.9 537.6,597.3 537.6,596.7 537.6,596.1 537.6,595.5 537.6,594.9 537.6,594.3 537.6,593.7 537.6,593.0 537.7,592.4 537.7,591.8 537.7,591.2 537.7,590.6 537.7,590.0 537.7,589.4 537.7,588.8 537.7,588.2 537.8,587.6 537.8,587.0 537.8,586.4 537.8,585.8 537.8,585.2 537.8,584.6 537.8,584.0 537.8,583.4 537.8,582.8 537.9,582.2 537.9,581.6 537.9,581.0 537.9,580.4 537.9,579.8 537.9,579.2 537.9,578.6 537.9,578.0 537.9,577.4 538.0,576.8 538.0,576.2 538.0,575.6 538.0,575.0 538.0,574.4 538.0,573.8 538.0,573.2 538.0,572.6 538.1,572.0 538.1,571.4 538.1,570.8 538.1,570.2 538.1,569.6 538.1,569.0 538.1,568.4 538.1,567.8 538.2,567.2 538.2,566.6 538.2,566.0 538.2,565.4 538.2,564.8 538.2,564.2 538.2,563.6 538.2,563.0 538.3,562.4 538.3,561.8 538.3,561.2 538.3,560.6 538.3,560.0 538.3,559.4 538.3,558.8 538.3,558.2 538.4,557.6 538.4,557.0 538.4,556.4 538.4,555.8 538.4,555.2 538.4,554.6 538.4,554.0 538.5,553.4 538.5,552.8 538.5,552.2 538.5,551.6 538.5,551.0 538.5,550.4 538.5,549.8 538.5,549.2 538.6,548.6 538.6,548.0 538.6,547.4 538.6,546.8 538.6,546.2 538.6,545.6 538.6,545.0 538.6,544.4 538.7,543.8 538.7,543.2 538.7,542.6 538.7,542.0 538.7,541.4 538.7,540.8 538.7,540.2 538.7,539.6 538.8,539.0 538.8,538.4 538.8,537.8 538.8,537.2 538.8,536.6 538.8,536.0 538.8,535.4 538.8,534.8 538.8,534.2 538.8,533.6 538.8,532.9 538.8,532.3 538.8,531.7 538.8,531.1 538.8,530.5 538.8,529.9 538.8,529.3 538.8,528.7 538.8,528.1 538.8,527.5 538.8,526.9 538.8,526.3 538.8,525.6 538.8,525.0 538.8,524.4 538.8,523.8 538.8,523.2 538.8,522.6 538.8,522.0 538.8,521.4 538.8,520.8 538.8,520.2 538.8,519.6 538.8,519.0 538.8,518.4 538.8,517.7 538.8,517.1 538.8,516.5 538.8,515.9 538.8,515.3 538.8,514.7 538.8,514.1 538.8,513.5 538.8,512.9 538.8,512.3 538.8,511.7 538.8,511.1 538.8,510.5 538.8,509.8 538.8,509.2 538.8,508.6 538.8,508.0 538.8,507.4 538.8,506.8 538.8,506.2 538.8,505.6 538.8,505.0 538.8,504.4 538.8,503.8 538.8,503.2 538.8,502.5 538.8,501.9 538.8,501.3 538.8,500.7 538.8,500.1 538.8,499.5 538.8,498.9 538.8,498.3 538.8,497.7 538.9,497.1 538.9,496.5 538.9,495.9 538.9,495.3 538.9,494.6 539.0,494.0 539.0,493.4 539.0,492.8 539.0,492.2 539.0,491.6 539.1,491.0 539.1,490.4 539.1,489.8 539.1,489.2 539.1,488.6 539.2,488.0 539.2,487.3 539.2,486.7 539.2,486.1 539.2,485.5 539.3,484.9 539.3,484.3 539.3,483.7 539.3,483.1 539.4,482.5 539.4,481.9 539.4,481.3 539.4,480.7 539.4,480.0 539.5,479.4 539.5,478.8 539.5,478.2 539.5,477.6 539.5,477.0 539.6,476.4 539.6,475.8 539.6,475.2 539.6,474.6 539.6,474.0 539.7,473.4 539.7,472.7 539.7,472.1 539.7,471.5 539.7,470.9 539.8,470.3 539.8,469.7 539.8,469.1 539.8,468.5 539.9,467.9 539.9,467.3 540.0,466.7 540.0,466.1 540.0,465.5 540.1,464.9 540.1,464.3 540.2,463.7 540.2,463.1 540.3,462.5 540.3,461.9 540.3,461.3 540.4,460.7 540.4,460.1 540.5,459.5 540.5,458.9 540.5,458.3 540.6,457.7 540.6,457.1 540.7,456.5 540.7,455.9 540.8,455.3 540.8,454.7 540.8,454.1 540.9,453.5 540.9,452.9 541.0,452.3 541.1,451.7 541.2,451.1 541.3,450.4 541.5,449.8 541.7,449.2 541.9,448.6 542.0,448.2 542.2,448.1 542.4,448.2 542.6,448.6 542.8,449.2 543.1,449.8 543.3,450.4 543.5,451.1 543.6,451.7 543.7,452.3 543.8,452.9 543.9,453.5 544.0,454.1 544.1,454.7 544.1,455.3 544.2,455.9 544.3,456.5 544.3,457.1 544.4,457.7 544.5,458.3 544.6,458.9 544.6,459.4 544.7,460.0 544.8,460.6 544.9,461.2 544.9,461.8 545.0,462.4 545.1,463.0 545.1,463.6 545.2,464.2 545.3,464.8 545.4,465.4 545.4,466.0 545.5,466.6 545.6,467.2 545.6,467.8 545.7,468.4 545.8,469.0 545.8,469.6 545.9,470.2 546.0,470.8 546.0,471.4 546.1,472.0 546.1,472.7 546.2,473.3 546.3,473.9 546.3,474.5 546.4,475.1 546.5,475.7 546.5,476.3 546.6,476.9 546.7,477.5 546.7,478.1 546.8,478.7 546.9,479.3 546.9,479.9 547.0,480.5 547.1,481.1 547.1,481.7 547.2,482.3 547.3,482.9 547.3,483.6 547.4,484.2 547.4,484.8 547.5,485.4 547.6,486.0 547.6,486.6 547.7,487.2 547.8,487.8 547.8,488.4 547.9,489.0 548.1,489.6 548.2,490.2 548.3,490.8 548.5,491.4 548.6,492.1 548.7,492.7 548.9,493.3 549.0,493.9 549.1,494.5 549.3,495.1 549.4,495.7 549.6,496.3 549.7,496.9 549.8,497.6 550.0,498.2 550.1,498.8 550.3,499.4 550.4,500.0 550.5,500.6 550.6,501.2 550.7,501.8 550.8,502.4 550.9,503.0 551.0,503.6 551.1,504.2 551.2,504.8 551.3,505.4 551.4,506.0 551.5,506.6 551.6,507.2 551.7,507.7 551.8,508.3 551.9,508.9 552.0,509.5 552.1,510.1 552.2,510.7 552.3,511.3 552.4,511.9 552.5,512.5 552.6,513.1 552.7,513.7 552.8,514.3 552.9,514.9 553.1,515.5 553.2,516.1 553.3,516.7 553.5,517.3 553.6,517.9 553.8,518.5 553.9,519.1 554.1,519.7 554.2,520.3 554.4,520.9 554.5,521.5 554.7,522.1 554.8,522.6 555.0,523.2 555.1,523.8 555.3,524.4 555.4,525.0 555.6,525.6 555.7,526.2 555.9,526.8 556.0,527.4 556.2,528.0 556.3,528.6 556.5,529.2 556.6,529.8 556.8,530.4 557.0,530.9 557.2,531.5 557.4,532.1 557.6,532.6 557.9,533.2 558.1,533.8 558.3,534.3 558.5,534.9 558.7,535.5 558.9,536.0 559.1,536.6 559.3,537.2 559.5,537.7 559.7,538.3 559.9,538.9 560.1,539.4 560.4,540.0 560.6,540.6 560.8,541.1 561.0,541.7 561.2,542.3 561.4,542.8 561.7,543.4 561.9,543.9 562.2,544.5 562.5,545.0 562.9,545.6 563.2,546.1 563.5,546.7 563.8,547.2 564.1,547.8 564.4,548.3 564.7,548.8 565.0,549.4 565.4,549.9 565.7,550.5 566.0,551.0 566.3,551.5 566.7,552.0 567.1,552.5 567.5,552.9 567.9,553.3 568.4,553.7 568.8,554.1 569.3,554.5 569.7,555.0 570.1,555.4 570.6,555.8 571.0,556.2 571.5,556.6 571.9,557.0 572.4,557.4 572.9,557.7 573.4,558.0 573.9,558.3 574.5,558.6 575.1,558.9 575.6,559.2 576.2,559.4 576.7,559.7 577.3,560.0 577.9,560.3 578.4,560.5 579.0,560.7 579.6,560.9 580.2,561.0 580.9,561.1 581.5,561.2 582.1,561.3 582.7,561.4 583.3,561.5 583.9,561.6 584.5,561.7 585.2,561.8 585.8,561.9 586.4,561.9 587.0,562.0 587.7,562.0 588.3,562.0 589.0,562.0 589.6,562.0 590.2,562.1 590.7,562.4 591.2,562.8 591.4,563.0 591.9,564.0" fill="none" stroke="#1f9622" stroke-width="1.45" stroke-linejoin="round" stroke-linecap="round"/><polyline points="212.5,443.3 212.7,441.4 212.2,441.4 212.4,440.6 212.1,439.4 212.3,439.6 212.9,439.9 212.9,439.4 213.0,438.1 212.9,436.4 212.8,436.9 212.4,436.2 213.1,435.4 212.8,434.5 212.5,435.0 212.2,433.0 212.9,433.0 212.4,432.8 212.7,432.0 212.7,431.3 212.9,430.4 212.5,429.4 213.3,429.5 212.5,429.6 212.7,427.4 213.0,427.1 213.0,427.1 212.8,426.6 212.7,425.9 213.2,424.4 213.0,423.8 213.1,424.8 213.2,423.9 213.5,422.1 213.7,422.7 212.9,422.3 213.2,420.4 213.8,420.5 213.6,419.1 213.6,418.3 213.1,418.4 212.9,418.2 213.2,417.0 213.7,416.7 213.9,416.5 213.9,415.7 214.0,415.7 213.3,414.9 213.5,414.3 213.8,413.9 213.3,412.3 214.0,412.9 214.0,410.5 213.9,410.0 213.9,410.8 213.6,410.5 214.2,408.5 213.8,408.3 214.5,408.0 213.8,406.2 213.9,407.2 214.0,406.1 214.2,405.8 214.3,404.1 214.9,404.3 214.7,404.2 215.1,402.0 214.5,401.7 214.7,402.5 215.1,400.3 214.5,401.2 215.1,399.8 214.9,398.7 215.4,398.6 215.5,398.4 214.7,397.3 214.9,397.8 215.4,395.5 215.0,395.5 215.4,395.4 215.3,394.3 215.0,394.2 215.4,392.4 215.6,393.8 215.3,391.5 216.1,391.2 215.9,391.0 216.0,390.6 216.5,390.8 217.2,388.3 216.9,389.2 217.4,388.6 217.4,387.8 217.3,386.5 217.9,387.1 218.3,386.1 217.8,385.7 218.4,384.8 218.5,384.4 218.6,384.6 218.3,384.8 218.8,386.7 219.1,386.1 219.1,386.4 219.3,386.8 219.2,388.8 219.8,388.6 220.1,388.9 219.9,389.0 220.2,390.0 220.8,391.1 221.2,391.3 221.3,392.4 220.6,392.2 221.2,394.4 221.1,394.6 221.3,395.4 221.0,395.3 222.0,395.5 221.5,395.6 221.5,396.7 222.2,397.2 222.0,397.8 222.3,399.7 222.5,399.0 222.7,401.2 222.7,400.0 223.0,402.2 222.7,401.3 222.7,402.8 223.5,403.6 223.6,403.3 223.2,405.0 223.6,404.9 223.8,405.4 223.3,406.1 223.4,407.2 223.8,407.5 224.2,407.6 224.1,407.8 224.7,409.5 224.9,409.0 224.6,411.0 224.5,410.3 224.4,411.0 225.2,411.5 225.3,412.8 225.2,413.7 225.3,414.5 225.5,414.4 225.7,414.9 225.8,416.5 226.0,416.2 226.1,418.1 225.9,417.3 226.1,419.3 225.8,418.0 226.3,419.9 226.7,419.9 227.1,420.2 226.9,420.6 226.3,421.3 226.5,422.6 227.2,422.5 227.7,423.5 227.1,423.7 227.8,425.8 227.4,424.6 228.1,425.6 228.5,426.7 228.3,427.0 228.6,427.8 228.3,429.3 228.2,429.6 228.3,430.0 228.8,431.0 228.6,431.0 229.1,432.3 229.8,432.3 229.3,432.2 229.5,433.1 229.6,433.2 230.3,434.7 229.9,436.0 230.0,435.8 230.1,436.9 231.0,436.3 231.0,438.0 230.7,437.7 231.0,439.4 230.9,439.5 231.4,439.7 231.6,441.1 231.3,441.7 231.6,442.1 232.3,441.5 232.4,443.7 232.0,442.4 232.0,444.9 232.0,445.4 232.3,445.6 232.4,445.1 233.2,445.5 233.0,447.8 233.5,448.3 233.9,447.2 233.3,449.3 233.9,448.4 233.9,449.4 233.9,449.7 233.7,452.1 234.1,452.4 234.1,452.2 234.3,452.7 234.6,453.8 234.7,454.5 235.3,453.8 235.3,455.1 236.1,455.4 235.6,457.2 236.4,457.3 236.0,456.8 236.2,457.1 236.2,458.6 236.7,459.3 236.9,458.7 237.4,460.6 237.4,461.0 237.8,462.4 238.1,462.5 237.9,462.2 238.1,464.1 238.2,463.5 238.4,463.6 239.2,463.9 239.0,466.3 238.9,466.2 239.2,466.1 239.2,466.4 240.0,468.3 240.3,467.4 240.2,468.5 240.4,469.6 240.2,471.0 240.1,471.1 241.2,471.2 241.1,472.7 240.9,472.6 241.6,472.7 241.8,473.3 241.8,474.3 242.1,474.3 242.3,475.3 242.0,476.0 242.3,477.2 242.7,477.4 242.9,477.4 242.8,477.3 243.7,478.7 243.5,479.3 243.9,479.3 243.5,481.0 244.0,481.2 244.5,482.3 244.8,481.2 244.5,483.3 245.2,482.5 244.7,483.3 244.9,484.1 245.8,485.0 245.7,484.7 245.9,487.1 246.4,486.6 246.4,487.8 246.9,487.1 247.0,488.1 247.1,488.5 247.2,489.2 247.4,489.2 247.4,490.8 247.5,490.6 248.4,491.4 248.2,491.9 249.0,492.2 249.0,494.3 248.8,494.0 249.6,495.0 249.4,494.4 249.7,495.6 250.2,496.0 250.1,497.3 250.7,497.3 250.5,498.3 251.3,498.1 251.6,499.7 251.3,500.1 251.5,499.5 252.1,500.6 252.2,501.4 252.8,502.5 252.2,502.7 252.8,503.0 253.5,503.5 253.3,505.0 253.6,504.7 253.9,505.9 254.3,506.3 254.3,505.4 254.8,507.0 255.1,508.0 254.7,507.5 254.9,509.2 255.2,508.3 256.1,509.8 255.7,510.6 256.6,510.7 256.2,511.7 256.8,512.0 257.6,513.1 257.7,512.3 257.4,513.6 257.3,515.1 257.9,514.3 258.1,514.8 258.9,516.0 258.8,516.3 258.6,516.6 259.7,518.2 259.9,517.7 259.5,517.9 260.1,519.1 260.3,519.9 260.7,520.3 261.2,520.5 261.6,521.9 261.1,522.0 261.8,522.8 262.0,523.2 261.8,524.8 261.9,525.2 262.4,525.6 262.1,526.9 262.0,527.4 261.7,527.1 262.2,526.9 262.5,527.6 262.2,528.4 262.5,529.8 262.4,530.2 262.3,531.2 261.9,530.9 262.4,531.4 262.5,532.1 261.7,532.5 262.4,534.8 262.0,534.8 261.9,535.9 262.3,535.0 261.7,536.7 261.6,537.6 261.9,537.0 262.2,537.7 262.2,538.0 262.5,539.0 262.4,539.2 262.3,541.1 262.0,540.6 262.0,541.9 261.9,542.4 261.9,542.9 262.2,543.5 262.2,543.7 262.3,544.3 262.4,546.0 262.4,546.0 262.0,546.4 262.3,547.2 262.4,547.3 262.1,548.8 262.2,549.0 261.9,549.2 262.0,550.7 262.3,550.5 262.4,550.9 262.2,552.6 262.1,553.2 262.3,552.7 262.1,553.8 262.1,554.7 262.1,555.4 262.1,555.1 262.3,555.8 262.3,557.2 262.4,557.4 262.1,558.1 262.1,558.8 262.2,559.4 262.3,559.7 262.5,560.1 262.2,561.6 262.3,562.1 262.7,562.3 262.3,562.4 262.7,563.1 262.5,564.2 262.3,564.7 262.3,565.4 262.6,565.8 262.4,566.4 262.4,566.7 262.5,568.2 262.6,568.8 262.4,569.5 262.7,569.9 262.7,570.4 262.5,571.1 262.5,571.1 262.5,571.9 262.8,572.3 263.0,572.7 262.8,573.5 262.9,574.7 262.9,574.5 262.7,575.7 263.1,575.7 262.9,577.1 263.1,577.2 263.1,578.0 263.2,578.1 263.2,579.2 262.9,579.4 262.8,580.8" fill="none" stroke="#1f9622" stroke-width="1.9" stroke-linejoin="round" stroke-linecap="round"/><polyline points="295.3,430.3 295.1,429.6 295.0,429.2 295.2,430.1 295.9,429.1 295.5,428.0 295.9,428.2 295.9,427.0 295.4,426.4 296.1,426.2 295.4,425.4 295.8,423.7 296.5,424.1 296.3,422.5 296.6,423.5 296.9,422.6 297.2,422.2 297.3,421.2 298.0,421.9 298.3,421.1 298.6,422.0 298.8,421.8 298.9,423.8 298.4,424.5 298.5,423.8 298.9,424.5 299.0,426.5 299.4,426.7 299.2,427.5 299.8,427.9 300.1,428.8 299.7,427.9 300.0,430.1 299.8,430.2 300.4,431.2 299.7,431.2 299.8,431.0 300.6,432.2 300.5,432.9 300.3,433.0 300.4,434.9 300.8,434.4 300.4,434.9 301.0,435.9 301.1,437.2 300.6,437.6 300.6,438.4 300.9,437.9 301.7,438.7 301.1,440.4 301.6,441.0 301.4,440.8 302.1,441.4 302.2,441.4 302.1,441.9 301.9,442.2 301.6,444.7 302.0,445.0 301.9,444.7 301.8,445.7 302.7,446.2 302.3,447.7 302.9,447.7 302.2,448.3 302.6,449.5 302.7,449.5 303.0,449.6 303.0,450.8 303.5,451.0 303.1,452.6 302.9,452.9 303.6,452.9 303.4,453.9 304.0,454.5 303.9,453.7 303.6,454.5 304.4,456.6 303.6,456.6 304.2,456.1 304.1,458.1 304.4,457.8 304.7,458.4 304.5,459.3 305.1,460.4 305.0,461.0 304.7,462.2 305.1,462.2 304.8,461.8 305.2,463.7 305.5,463.4 304.9,464.3 305.8,464.2 305.7,464.8 305.4,465.2 305.5,466.5 306.3,468.2 305.6,467.5 306.4,467.9 305.9,469.0 305.8,469.2 306.3,470.1 307.0,470.4 306.3,472.3 306.7,472.8 307.0,473.3 306.8,472.6 307.4,473.8 307.3,474.8 307.7,474.7 307.4,476.5 307.7,475.9 307.9,476.4 308.2,476.6 308.4,478.2 308.1,479.6 308.1,478.8 308.0,480.0 308.8,480.9 308.6,481.7 308.5,481.3 309.1,483.2 309.2,483.3 309.5,483.3 309.8,484.6 309.3,484.5 309.9,485.0 309.5,486.6 309.9,486.5 310.2,487.9 309.8,487.4 309.9,488.1 310.5,489.6 310.8,489.6 310.7,490.2 310.7,491.4 311.4,491.9 310.9,492.2 311.6,492.5 311.9,493.9 311.9,494.3 312.0,495.0 311.6,495.3 312.3,495.7 312.0,495.2 312.5,497.3 312.3,496.7 312.4,497.0 313.0,499.4 313.3,498.7 313.4,498.8 313.6,499.9 313.0,501.1 313.3,501.0 313.3,501.9 314.0,503.2 313.7,503.9 313.9,503.3 314.6,504.1 314.5,505.2 314.6,506.2 314.7,506.9 315.5,506.9 314.9,508.0 315.1,508.1 315.7,507.8 316.1,509.7 316.2,509.7 316.3,510.7 316.2,511.8 317.2,512.3 317.3,511.9 317.6,512.0 317.2,512.7 317.4,514.4 317.9,514.5 317.7,514.6 318.0,515.4 317.9,516.9 318.5,516.9 318.3,518.0 318.5,517.7 319.1,519.1 319.7,519.8 319.9,520.8 319.8,520.9 319.4,520.5 319.6,522.4 320.6,522.5 320.4,522.5 320.6,523.6 321.7,523.5 321.0,523.8 321.6,525.7 322.3,525.4 321.9,525.3 322.2,527.2 322.8,528.1 323.5,528.3 323.3,528.9 323.2,528.0 323.9,529.4 323.9,529.4 324.0,531.3 324.9,531.9 325.5,531.4 325.6,531.8 326.0,533.2 325.7,532.0 326.1,533.7 326.6,533.0 327.4,535.1 327.3,534.1 328.1,535.6 327.6,535.6 328.5,537.3 328.7,537.3 328.7,537.0 329.8,537.8 329.4,538.6 329.8,538.3 330.6,539.6 331.2,540.3 331.5,539.8 332.1,540.2 332.4,541.1 333.0,541.9 333.2,542.2 333.9,542.5 334.0,543.4 334.8,542.8 335.1,544.3 335.6,543.9 336.5,544.8 337.0,545.0 337.1,544.6 338.3,545.8 338.2,545.2 338.9,546.5 339.5,546.5 340.5,546.6 341.1,546.3 341.2,546.2 342.2,546.4 342.9,547.3 342.9,547.8 343.2,547.9 343.5,548.7 344.2,549.5 343.9,550.1 344.4,550.6 344.5,551.0 344.6,551.9 344.4,551.6 344.7,552.5 344.6,552.7 344.8,553.3 344.9,554.9 344.7,554.7 344.8,555.4 344.7,555.9 345.1,557.0 344.7,557.0 345.0,558.6 345.0,558.3 344.8,559.1 345.0,559.5 345.0,561.1 345.1,560.6 344.7,561.3 345.1,562.5 345.0,562.9 344.9,563.7 345.1,564.7 345.2,565.1 345.3,565.8 345.2,565.4 345.2,567.0 345.0,567.6 344.9,568.3 345.1,568.6 345.0,568.7 345.1,569.4 344.9,570.1 345.5,571.0 345.5,571.7 345.4,572.6 345.4,572.3 345.1,573.1 345.0,573.5 345.5,574.9 345.2,575.3 345.5,576.1 345.5,576.3 345.1,577.2 345.3,577.6 345.3,578.1 345.7,578.2 345.5,579.4 345.5,580.4 345.4,581.0 345.6,581.6 345.3,581.3 345.4,582.8 345.3,582.6 345.7,584.1 345.4,584.0 345.7,585.0 345.8,585.6 345.5,585.6 345.4,586.8 345.5,586.9 346.0,587.9 345.8,588.6 345.8,589.2 345.7,589.1 345.5,589.6 345.7,590.4 345.6,591.4 346.1,592.2 345.7,592.9 345.7,592.7 345.8,593.7 346.1,594.4 346.1,594.6 346.2,595.5 346.2,595.7 346.2,596.5 346.3,597.8 346.2,597.8 345.8,598.3 346.3,598.9 346.2,600.0 346.2,600.1 346.0,600.6 346.5,601.6 346.3,602.4 346.1,602.4 346.0,603.9 346.1,604.7" fill="none" stroke="#1f9622" stroke-width="1.9" stroke-linejoin="round" stroke-linecap="round"/><polyline points="378.9,431.8 378.9,432.1 379.3,431.6 379.6,431.7 379.4,433.7 379.6,433.5 380.2,433.8 379.7,434.4 380.0,435.3 380.3,436.1 380.7,435.9 380.6,438.1 380.2,437.1 380.5,437.9 380.7,439.7 380.4,439.2 380.9,439.9 380.7,441.1 380.7,440.9 381.0,442.3 381.7,443.1 380.9,443.0 381.6,444.3 381.8,445.7 381.9,444.6 382.0,446.0 381.4,445.9 382.1,446.6 381.3,447.3 382.2,448.3 382.1,448.1 381.9,449.2 381.7,450.5 381.9,450.0 382.6,451.4 381.9,451.0 382.4,452.6 381.9,453.1 382.7,453.9 382.2,454.4 382.6,455.3 382.3,456.2 383.1,456.7 383.1,456.5 383.2,456.8 382.6,458.2 383.3,457.8 382.7,458.3 383.0,459.1 382.8,460.9 383.3,461.9 383.2,462.0 382.9,463.1 383.2,462.8 383.5,464.3 383.6,465.0 383.8,464.0 384.1,464.6 384.3,465.7 383.6,467.3 383.8,466.8 383.9,467.9 383.7,467.9 383.9,469.5 383.8,469.6 384.1,469.9 384.5,471.0 384.2,470.7 384.2,472.7 384.3,471.7 384.8,473.2 385.2,472.7 384.6,473.5 385.1,474.7 385.0,476.2 385.3,476.7 385.7,476.1 385.7,477.0 384.9,478.6 385.0,477.4 385.3,478.6 386.1,480.3 385.6,480.3 386.1,481.4 386.0,481.4 385.5,481.5 386.2,482.8 386.4,484.0 386.7,483.2 385.9,485.2 386.4,484.4 386.6,485.1 386.3,485.9 386.6,487.2 386.3,487.9 386.9,487.9 387.1,489.2 386.5,489.2 387.2,490.2 387.3,489.8 387.7,491.6 387.0,491.5 387.9,491.6 387.4,493.7 388.0,492.9 387.9,493.7 387.9,495.1 387.5,494.6 387.6,495.3 387.6,495.7 388.1,496.8 387.9,497.7 388.9,498.3 388.4,499.2 388.6,498.7 388.8,499.0 389.1,499.9 389.0,502.1 389.5,502.4 389.5,502.6 389.7,503.9 389.3,504.0 389.6,503.6 390.2,504.9 390.4,506.0 390.3,505.3 389.8,506.5 390.7,506.6 390.2,506.7 390.4,508.6 390.4,508.3 390.8,509.9 391.6,509.1 390.9,511.5 391.9,510.5 391.4,511.9 391.5,512.2 391.9,512.5 391.6,512.7 391.9,513.4 392.5,515.2 392.4,515.9 393.0,515.6 393.0,515.9 393.6,517.2 392.9,517.0 393.7,518.1 393.9,518.4 394.2,520.1 393.6,520.2 393.9,521.1 394.7,521.8 394.3,521.0 394.9,522.6 394.6,522.4 395.2,522.8 395.5,523.7 395.3,524.6 395.8,525.8 395.5,526.4 395.9,526.1 396.5,527.4 396.7,528.4 396.5,527.8 397.2,528.3 396.9,528.8 397.8,530.5 397.9,531.4 398.2,530.6 398.0,532.0 398.0,532.3 398.2,531.8 398.9,532.6 399.5,534.6 399.2,533.8 399.1,535.0 399.8,535.2 400.2,536.1 400.5,535.8 400.0,536.9 400.7,537.2 401.2,537.6 401.2,538.7 401.9,539.7 401.9,539.6 402.7,540.7 402.8,540.2 403.0,541.4 403.3,541.1 404.0,542.7 403.8,542.7 404.5,543.0 404.5,544.0 405.2,544.1 405.2,544.5 405.6,545.7 405.9,545.3 406.8,545.6 406.8,546.0 407.2,547.0 408.0,547.0 408.1,548.2 408.6,548.1 408.8,548.4 409.8,548.7 409.8,549.9 410.6,550.5 410.9,551.0 411.5,550.6 411.9,551.4 412.7,551.1 412.9,552.4 413.4,552.6 414.1,552.3 414.6,552.9 415.6,552.8 416.1,553.3 416.3,554.0 417.1,553.5 417.7,554.5 418.6,554.4 418.7,554.8 419.7,555.2 420.5,554.7 421.1,555.5 421.4,555.1 422.1,555.2 422.7,555.0 423.2,556.0 423.9,555.7 424.9,555.9 425.1,556.2 425.9,556.4 426.3,556.4 426.6,556.2 426.7,556.9 426.9,557.2 426.7,558.1 426.9,558.7 427.0,559.9 427.1,559.7 427.2,561.1 427.1,561.6 426.7,562.5 427.1,562.6 427.0,563.6 427.3,564.3 427.0,564.3 427.1,564.6 427.1,565.1 427.4,566.0 427.0,566.4 427.5,567.2 427.3,568.0 427.5,569.3 427.3,569.5 427.6,569.9 427.7,570.8 427.3,571.6 427.5,571.3 427.5,572.7 427.5,572.9 427.5,574.0 427.6,573.8 427.5,574.6 427.9,575.6 427.4,576.4 427.4,576.7 427.6,577.4 427.6,577.3 427.7,578.7 427.9,578.8 427.6,579.9 427.9,579.8 428.0,581.4 427.8,581.2 428.0,582.5 427.7,582.3 427.8,583.5 427.7,583.8 427.9,584.6 427.7,585.5 428.3,585.7 428.2,585.8 428.2,586.9 428.2,587.9 428.0,588.5 427.9,588.1 428.1,589.7 428.4,590.4 428.2,591.0 428.2,590.6 428.3,592.0 428.2,592.4 428.1,592.6 428.2,593.5 428.3,593.6 428.0,594.5 428.5,595.6 428.2,595.6 428.4,596.1 428.5,597.6 428.3,597.8 428.6,598.6 428.6,599.2 428.4,600.0 428.8,599.6 428.8,600.7 428.3,600.9 428.8,602.2 428.4,602.5 428.7,603.8 428.6,604.1 428.6,604.1 428.5,604.9 428.8,605.4 428.6,605.9 428.6,606.5 428.7,607.5 428.7,608.0 428.8,609.2 428.9,609.8 428.9,609.5 429.0,610.1 428.8,610.6 429.1,612.3 429.0,612.1 429.1,612.8 429.3,613.4 429.0,614.6 429.3,614.2 429.5,615.7 429.3,616.2 429.7,616.5 429.4,617.0 429.5,618.1 429.7,619.1 429.4,619.0 429.9,620.1 429.8,620.6 429.7,621.5 429.8,621.5 429.7,621.8 430.1,623.2 429.7,623.3 430.0,624.1 430.0,625.2 430.0,625.4 430.4,626.1 430.3,626.4" fill="none" stroke="#1f9622" stroke-width="1.9" stroke-linejoin="round" stroke-linecap="round"/><polyline points="462.5,450.2 463.0,450.1 462.6,451.0 462.7,452.6 462.9,452.0 462.8,453.7 462.7,454.0 462.6,453.6 462.7,455.4 462.9,454.9 462.9,455.5 463.6,457.1 463.8,458.1 463.6,458.7 463.2,459.3 463.6,458.4 463.9,460.3 463.7,459.4 464.2,461.3 464.0,462.4 463.5,461.2 463.7,461.7 464.3,463.5 463.8,463.2 463.9,464.7 464.5,466.0 464.2,466.6 464.4,466.0 464.3,466.3 465.0,468.5 464.8,467.4 464.4,468.0 464.6,469.8 464.4,469.9 465.1,469.5 464.9,471.7 465.1,471.6 465.5,472.5 465.0,472.7 465.7,474.2 465.7,474.2 465.0,474.0 465.3,475.7 465.0,476.5 465.9,476.5 465.2,477.7 465.7,478.0 465.9,478.8 465.8,479.8 466.4,480.4 466.2,479.7 466.0,480.2 466.6,481.9 466.6,482.5 466.9,482.9 466.3,483.6 466.3,483.9 466.2,485.0 466.7,484.5 467.2,484.7 467.2,486.6 466.5,487.2 467.0,488.1 467.1,487.8 467.6,487.7 467.5,488.3 467.0,488.9 467.7,490.2 467.6,490.4 467.7,491.8 467.2,492.1 467.9,492.1 467.9,492.9 467.7,494.7 468.4,495.5 467.9,495.2 468.4,496.2 468.2,497.0 468.2,497.8 468.4,496.7 468.8,497.4 468.8,497.8 469.2,499.4 469.1,499.1 469.1,500.2 468.8,501.7 468.7,501.6 468.8,503.0 469.7,501.9 469.4,503.4 469.8,504.5 469.5,505.5 469.4,504.5 470.2,505.1 469.7,506.4 469.9,506.4 470.6,507.6 470.6,507.7 470.8,508.3 470.9,509.6 471.1,510.6 470.8,510.7 471.1,511.1 470.5,512.6 471.3,512.8 471.4,512.5 471.3,514.2 471.9,515.0 471.3,515.2 471.8,515.2 471.6,515.3 472.0,516.6 472.0,516.9 472.4,518.3 472.6,517.7 473.0,518.7 473.2,520.5 472.6,520.3 473.5,520.5 473.3,521.0 472.9,521.3 473.1,522.1 473.8,523.3 474.3,524.1 473.8,525.2 474.2,525.0 474.6,525.9 474.3,526.3 474.4,527.6 474.5,528.2 474.5,526.9 475.2,527.8 475.4,528.2 475.9,529.9 476.0,531.0 476.6,531.0 476.5,530.2 476.1,531.7 477.2,532.0 477.0,532.0 477.1,534.3 477.5,534.7 477.2,534.0 477.6,535.9 477.7,536.6 478.1,537.1 478.6,536.5 479.3,537.3 479.2,537.1 479.6,539.5 479.1,539.6 479.5,539.0 480.0,540.4 480.6,541.3 481.0,541.4 481.1,541.4 481.5,542.4 481.6,543.3 481.8,542.9 482.1,543.4 482.7,544.8 482.8,544.9 483.3,545.5 483.6,546.0 483.7,545.9 484.2,546.7 484.7,547.2 485.1,547.7 485.0,548.5 485.5,548.9 486.1,549.2 486.5,550.4 486.8,550.4 487.6,551.0 487.6,550.8 488.0,551.5 488.5,552.3 489.2,552.3 489.7,553.5 490.0,553.0 490.6,553.6 491.4,554.5 491.6,554.2 491.9,554.6 492.9,555.5 493.0,555.8 493.6,555.9 494.3,555.7 495.1,556.7 495.6,556.3 496.2,556.9 496.8,556.8 497.5,556.9 497.7,557.7 498.3,557.6 499.1,558.9 499.5,558.2 500.3,558.3 500.8,559.0 501.4,558.5 501.8,559.1 503.0,559.6 503.1,559.2 503.9,558.9 504.7,559.4 505.4,559.2 506.1,559.9 506.4,559.1 507.1,559.2 507.8,559.8 508.3,560.3 508.4,560.2 509.1,559.9 509.0,560.3 509.2,561.7 509.2,562.3 509.2,562.9 509.2,563.9 509.4,563.3 509.3,564.8 509.8,565.3 509.4,566.2 509.8,565.9 509.7,567.2 509.5,567.1 509.8,568.7 510.2,568.7 510.2,569.8 510.2,570.2 510.3,570.9 510.3,571.4 509.9,571.9 510.1,572.3 510.1,573.1 510.2,573.4 510.1,574.3 510.2,574.8 510.3,575.2 510.3,575.9 510.5,577.0 510.5,577.4 510.2,578.5 510.4,578.4 510.3,579.1 510.5,580.2 510.4,580.7 510.3,580.9 510.4,581.4 510.4,582.5 510.7,582.5 510.4,583.8 510.7,584.2 510.7,584.9 510.5,584.7 510.6,585.3 511.0,586.5 510.8,587.6 510.9,587.3 510.7,587.8 511.0,589.1 510.8,589.3 510.7,590.1 511.0,591.1 511.1,591.7 510.9,591.8 510.8,593.1 510.8,592.7 510.8,594.2 511.2,594.1 511.3,595.4 511.0,595.1 511.3,596.0 510.9,597.2 511.2,597.2 511.3,597.6 511.0,598.4 511.3,598.5 511.3,600.0 511.3,600.5 511.5,600.6 511.2,601.7 511.6,601.9 511.4,603.2 511.9,603.0 511.7,604.0 511.6,604.0 511.6,605.3 511.8,605.8 511.6,606.0 511.7,606.9 511.8,608.0 511.7,608.7 511.8,609.2 511.9,609.5 512.0,609.4 512.3,610.9 512.0,611.5 512.2,612.4 511.9,612.2 512.1,613.1 512.5,614.0 512.4,614.1 512.6,614.3 512.3,615.7 512.4,616.6 512.3,616.6 512.5,616.6 512.5,617.4 512.8,618.4 513.0,618.8 513.2,619.7 513.5,620.0 513.3,621.0" fill="none" stroke="#1f9622" stroke-width="1.9" stroke-linejoin="round" stroke-linecap="round"/><polyline points="545.7,470.3 545.6,471.0 545.8,470.5 546.1,471.6 545.9,471.2 546.6,472.4 545.8,473.6 546.3,473.5 546.2,475.2 546.2,474.9 546.9,475.4 546.4,475.6 546.8,477.2 546.6,477.3 546.5,478.7 546.8,479.4 546.7,479.8 546.5,479.4 547.5,480.9 547.2,481.1 547.1,481.1 546.9,482.6 547.4,482.5 547.5,482.8 547.5,483.5 547.5,484.4 547.6,484.6 547.6,486.2 547.3,486.2 547.9,487.3 547.9,488.3 547.9,487.8 547.9,489.7 548.1,490.1 548.0,490.1 548.8,491.5 548.6,490.7 548.7,491.1 549.2,493.6 549.1,492.8 549.4,493.2 549.5,494.5 548.8,495.9 549.4,496.4 549.8,496.4 550.1,496.4 550.2,497.2 549.5,497.8 549.7,497.9 550.4,498.6 550.0,499.6 550.3,501.4 551.0,501.9 551.2,501.7 551.1,501.9 551.3,503.6 551.2,503.0 550.7,505.0 551.3,505.0 551.7,504.7 551.6,505.9 551.8,506.5 551.3,508.1 551.5,508.2 552.1,507.8 552.1,508.7 551.7,509.0 552.6,509.9 552.2,510.7 551.8,511.8 552.6,512.7 552.4,511.9 552.4,513.6 552.9,513.5 552.8,513.6 553.3,514.8 553.1,516.1 552.9,516.5 553.2,517.3 553.1,516.8 553.8,517.8 553.7,518.6 553.7,518.9 553.6,520.3 554.0,520.9 554.4,521.1 554.7,520.7 555.0,521.6 555.2,523.2 555.2,523.9 555.1,524.2 555.7,523.8 555.0,524.9 555.6,524.9 555.4,527.0 555.7,526.1 555.7,527.6 555.8,528.0 556.3,528.5 556.5,529.9 556.2,530.6 556.5,529.4 557.3,531.1 557.3,530.9 557.7,531.7 557.9,532.1 557.9,533.5 557.9,533.7 557.8,534.6 558.7,534.2 558.7,535.9 558.5,536.7 559.5,535.7 559.1,536.3 559.3,536.9 559.7,537.8 559.7,538.8 560.0,540.0 560.5,539.5 560.4,540.0 560.7,540.7 561.1,542.0 561.5,541.9 561.1,543.1 561.6,543.9 561.9,543.7 562.0,545.0 562.5,545.0 562.8,545.9 563.4,546.1 563.3,546.6 564.0,547.1 564.2,547.8 564.4,548.4 564.6,548.9 565.3,548.9 565.3,550.4 565.9,549.9 566.1,551.2 566.5,551.5 566.5,551.8 567.2,552.8 567.3,553.1 568.0,553.5 568.1,553.7 568.7,554.3 569.2,554.1 569.8,554.7 570.3,555.1 570.6,556.1 570.8,556.4 571.2,557.1 571.6,557.3 572.3,557.0 572.8,557.7 573.3,557.6 573.9,558.1 574.8,558.5 575.0,558.6 575.9,558.9 576.3,559.8 576.7,560.0 577.2,559.5 577.6,560.2 578.7,560.1 579.0,561.0 579.5,560.4 580.2,560.9 581.1,561.6 581.3,561.3 582.0,560.7 582.7,561.9 583.2,561.6 584.1,561.1 584.8,561.2 585.0,562.1 585.5,561.7 586.2,561.9 586.8,561.6 587.5,561.5 588.1,561.6 589.0,561.6 589.8,561.9 590.0,561.8 590.9,561.9 591.3,562.3 591.7,562.9 592.0,564.4" fill="none" stroke="#1f9622" stroke-width="1.9" stroke-linejoin="round" stroke-linecap="round"/>
<line x1="597.6" y1="371.5" x2="597.6" y2="662" stroke="#777" stroke-width="1" stroke-dasharray="4,1.8"/>
<line x1="211.2" y1="371.5" x2="211.2" y2="662" stroke="#555" stroke-width="1.3" stroke-dasharray="2.4,2.05"/>
<line x1="263.3" y1="371.5" x2="263.3" y2="662" stroke="#555" stroke-width="1.3" stroke-dasharray="2.4,2.05"/>
<line x1="294.3" y1="371.5" x2="294.3" y2="662" stroke="#555" stroke-width="1.3" stroke-dasharray="2.4,2.05"/>
<line x1="346.6" y1="371.5" x2="346.6" y2="662" stroke="#555" stroke-width="1.3" stroke-dasharray="2.4,2.05"/>
<line x1="378.1" y1="371.5" x2="378.1" y2="662" stroke="#555" stroke-width="1.3" stroke-dasharray="2.4,2.05"/>
<line x1="430.7" y1="371.5" x2="430.7" y2="662" stroke="#555" stroke-width="1.3" stroke-dasharray="2.4,2.05"/>
<line x1="461.8" y1="371.5" x2="461.8" y2="662" stroke="#555" stroke-width="1.3" stroke-dasharray="2.4,2.05"/>
<line x1="513.7" y1="371.5" x2="513.7" y2="662" stroke="#555" stroke-width="1.3" stroke-dasharray="2.4,2.05"/>
<line x1="545" y1="371.5" x2="545" y2="662" stroke="#555" stroke-width="1.3" stroke-dasharray="2.4,2.05"/>
<g clip-path="url(#cB)"><rect x="178" y="585" width="70" height="65" fill="#dadace"/><g filter="url(#b2)"><ellipse cx="211" cy="616" rx="27" ry="24" fill="#e9e9df"/><ellipse cx="217.7" cy="600.6" rx="11.4" ry="8.6" fill="#556e10"/><ellipse cx="217.9" cy="601.2" rx="6.5" ry="4.2" fill="#8a9616"/><ellipse cx="205" cy="630.6" rx="11.3" ry="8.2" fill="#5f7a16" transform="rotate(-8 205 630.6)"/><ellipse cx="204.6" cy="630.8" rx="6.5" ry="4.2" fill="#91981a"/></g><g filter="url(#b3)"><g transform="rotate(28 196.4 613)"><ellipse cx="196.4" cy="613" rx="11.6" ry="12.4" fill="#f4f4ea"/><ellipse cx="196.4" cy="613" rx="10.2" ry="11" fill="#8fb01c" stroke="#6f7a3a" stroke-width="0.7"/><path d="M189 607 Q196 609 199 615 Q193 619 188 616 Z" fill="#56790f"/><path d="M197 604 Q203 606 204 612 Q200 612 197 609 Z" fill="#b9d42c"/><path d="M193 618 Q198 617 202 620 Q198 623 194 622 Z" fill="#4f730e"/><path d="M199 613 L205 614 L201 619 Z" fill="#a5c522"/><ellipse cx="193" cy="611" rx="2" ry="3" fill="#c9dc3c"/></g><g transform="rotate(40 226.2 621.2)"><ellipse cx="226.2" cy="621.2" rx="10.6" ry="14" fill="#f4f4ea"/><ellipse cx="226.2" cy="621.2" rx="9.2" ry="12.4" fill="#8fb01c" stroke="#6f7a3a" stroke-width="0.7"/><path d="M220 616 Q226 618 229 624 Q223 628 219 624 Z" fill="#56790f"/><path d="M225 611 Q231 612 232 619 Q228 619 226 616 Z" fill="#b9d42c"/><path d="M223 627 Q228 626 231 629 Q227 632 224 631 Z" fill="#4f730e"/><path d="M229 621 L234 622 L231 627 Z" fill="#a5c522"/><ellipse cx="222.5" cy="620" rx="1.8" ry="3" fill="#c9dc3c"/></g></g></g>
<path d="M154.2 371.2V662" stroke="#7a7a7a" stroke-width="1.9" fill="none"/><path d="M153.3 371.1H619.3" stroke="#6a6a6a" stroke-width="1.4" fill="none"/><path d="M618.7 371.2V662.8" stroke="#5a5a5a" stroke-width="1.4" fill="none"/><path d="M153.3 661.9H619.4" stroke="#555" stroke-width="1.8" fill="none"/>
<line x1="82.2" y1="368" x2="82.2" y2="662.5" stroke="#a2a2a2" stroke-width="1.8"/>
<line x1="80.2" y1="382" x2="82.6" y2="382" stroke="#999" stroke-width="1"/>
<line x1="80.2" y1="471.2" x2="82.6" y2="471.2" stroke="#999" stroke-width="1"/>
<line x1="80.2" y1="560.4" x2="82.6" y2="560.4" stroke="#999" stroke-width="1"/>
<line x1="80.2" y1="649.6" x2="82.6" y2="649.6" stroke="#999" stroke-width="1"/>
<line x1="152" y1="410" x2="152" y2="413" stroke="#777" stroke-width="0.8"/>
<line x1="152" y1="470.8" x2="152" y2="473.8" stroke="#777" stroke-width="0.8"/>
<line x1="152" y1="531.6" x2="152" y2="534.6" stroke="#777" stroke-width="0.8"/>
<line x1="152" y1="592.4" x2="152" y2="595.4" stroke="#777" stroke-width="0.8"/>
<line x1="152" y1="653.2" x2="152" y2="656.2" stroke="#777" stroke-width="0.8"/>
<line x1="82" y1="368" x2="84.5" y2="368" stroke="#666" stroke-width="1"/><line x1="82" y1="662.5" x2="84.5" y2="662.5" stroke="#444" stroke-width="1.4"/>
<line x1="226" y1="662" x2="226" y2="664.2" stroke="#777" stroke-width="0.8"/>
<line x1="311.4" y1="662" x2="311.4" y2="664.2" stroke="#777" stroke-width="0.8"/>
<line x1="397.3" y1="662" x2="397.3" y2="664.2" stroke="#777" stroke-width="0.8"/>
<line x1="483" y1="662" x2="483" y2="664.2" stroke="#777" stroke-width="0.8"/>
<line x1="568.6" y1="662" x2="568.6" y2="664.2" stroke="#777" stroke-width="0.8"/>
</svg>
<div class="t " style="left:112.6px;top:-1.1px;font-size:23px;color:#111">A</div>
<div class="t " style="left:112.4px;top:340.1px;font-size:23px;color:#111">B</div>
<div class="t tk r" style="right:605.8px;top:46.6px">0.4</div>
<div class="t tk r" style="right:605.8px;top:106.2px">0.3</div>
<div class="t tk r" style="right:605.8px;top:165.8px">0.2</div>
<div class="t tk r" style="right:605.8px;top:225.4px">0.1</div>
<div class="t tk r" style="right:605.8px;top:285.0px">0.0</div>
<div class="t tk r" style="right:533px;top:16.4px">8</div>
<div class="t tk r" style="right:533px;top:93.5px">7</div>
<div class="t tk r" style="right:533px;top:170.5px">6</div>
<div class="t tk r" style="right:533px;top:247.5px">5</div>
<div class="t tk c" style="left:200.60000000000002px;top:307.3px">40</div>
<div class="t tk c" style="left:250.5px;top:307.3px">60</div>
<div class="t tk c" style="left:300.3px;top:307.3px">80</div>
<div class="t tk c" style="left:350.2px;top:307.3px">100</div>
<div class="t tk c" style="left:400.0px;top:307.3px">120</div>
<div class="t tk c" style="left:449.90000000000003px;top:307.3px">140</div>
<div class="t tk c" style="left:498.90000000000003px;top:307.3px">160</div>
<div class="t tk c" style="left:548.9px;top:307.3px">180</div>
<div class="t tk c" style="left:598.9px;top:307.3px">200</div>
<div class="t ra" style="left:624.3px;top:24.2px">500</div>
<div class="t ra" style="left:624.3px;top:76.2px">400</div>
<div class="t ra" style="left:624.3px;top:127.7px">300</div>
<div class="t ra" style="left:624.3px;top:181.0px">200</div>
<div class="t ra" style="left:624.3px;top:235.2px">100</div>
<div class="t ra" style="left:624.3px;top:287.2px">0</div>
<div class="t ttl c" style="left:387.6px;top:330.9px">Time (hours)</div>
<div class="t tk r" style="right:605.6px;top:375.0px">0.15</div>
<div class="t tk r" style="right:605.6px;top:464.2px">0.10</div>
<div class="t tk r" style="right:605.6px;top:553.4px">0.05</div>
<div class="t tk r" style="right:605.6px;top:642.6px">0.00</div>
<div class="t tk r" style="right:534.8px;top:405.5px">6.0</div>
<div class="t tk r" style="right:534.8px;top:466.0px">5.5</div>
<div class="t tk r" style="right:534.8px;top:525.8px">5.0</div>
<div class="t tk r" style="right:534.8px;top:586.0px">4.5</div>
<div class="t tk r" style="right:534.8px;top:646.3px">4.0</div>
<div class="t tk c" style="left:225.8px;top:671.4px">25</div>
<div class="t tk c" style="left:311.6px;top:671.4px">50</div>
<div class="t tk c" style="left:398.2px;top:671.4px">75</div>
<div class="t tk c" style="left:484.1px;top:671.4px">100</div>
<div class="t tk c" style="left:570.2px;top:671.4px">125</div>
<div class="t tk" style="left:622.8px;top:414.4px;font-size:14px">750</div>
<div style="position:absolute;left:646.3px;top:418.9px;width:1px;height:3px;background:#bbb"></div>
<div class="t tk" style="left:622.8px;top:497.4px;font-size:14px">500</div>
<div style="position:absolute;left:646.3px;top:501.9px;width:1px;height:3px;background:#bbb"></div>
<div class="t tk" style="left:622.8px;top:580.5px;font-size:14px">250</div>
<div style="position:absolute;left:646.3px;top:585.0px;width:1px;height:3px;background:#bbb"></div>
<div class="t ttl c" style="left:385.9px;top:688.9px">Time (hours)</div>
<div class="t ttl rot" style="left:0px;top:296.8px;color:#c00000;font-size:19.3px">Daily mean CH<sub>4</sub> production rate</div>
<div class="t ttl rot" style="left:25px;top:260.5px;color:#c00000;font-size:19.3px;word-spacing:1.3px">(µmol CH<sub>4</sub> g Chla<sup>-1</sup> h<sup>-1</sup>)</div>
<div class="t rot" style="left:106.5px;top:190px;color:#3355e8;font-size:22.3px">CH<sub class="s2">4</sub> (nM)</div>
<div class="t ttl rot" style="left:-1.2px;top:645.9px;color:#c00000;font-size:19.3px">Daily mean CH<sub>4</sub> production rate</div>
<div class="t ttl rot" style="left:23px;top:609.6px;color:#c00000;font-size:19.3px;word-spacing:0.8px">(µmol CH<sub>4</sub> g Chla<sup>-1</sup> h<sup>-1</sup>)</div>
<div class="t rot" style="left:101.5px;top:561px;color:#3355e8;font-size:22.3px">CH<sub class="s2">4</sub> (nM)</div>
<div class="t rot2" style="left:686.5px;top:121px;color:#12ad50;font-size:22.3px;-webkit-text-stroke:0.2px #12ad50">O<sub class="s2">2</sub> (µM)</div>
<div class="t rot2" style="left:686.3px;top:476.3px;color:#12ad50;font-size:22.3px;-webkit-text-stroke:0.2px #12ad50">O<sub class="s2">2</sub> (µM)</div>
</div></body></html>
